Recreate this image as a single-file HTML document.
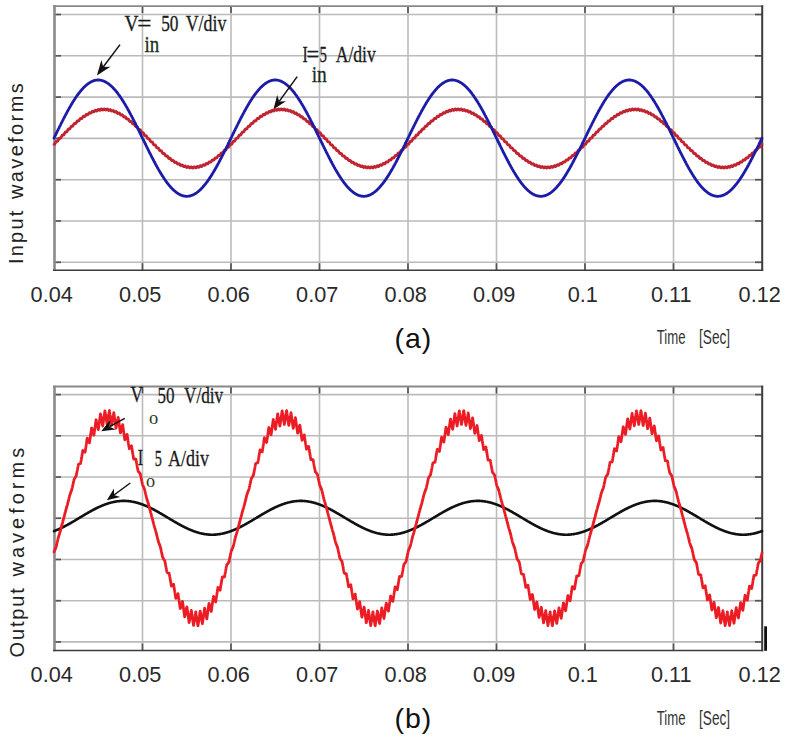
<!DOCTYPE html>
<html><head><meta charset="utf-8"><style>
html,body{margin:0;padding:0;background:#fff;}
body{width:786px;height:739px;overflow:hidden;}
svg{display:block;}
#wrap{width:786px;height:739px;}
.gh{stroke:#bababa;stroke-width:1.6;fill:none;}
.gv{stroke:#bcbcbc;stroke-width:1.6;fill:none;}
.t{stroke:#555;stroke-width:1.7;fill:none;}
.fl{stroke:#8a8a8a;stroke-width:2.6;fill:none;}
.ft{stroke:#888;stroke-width:1.8;fill:none;}
.fb{stroke:#3c3c3c;stroke-width:1.6;fill:none;}
.fr{stroke:#3c3c3c;stroke-width:2;fill:none;}
.w{fill:none;stroke-linejoin:round;stroke-linecap:round;}
text{font-family:"Liberation Sans",sans-serif;}
.tl{font-size:22.6px;fill:#2a2a2a;}
.pl{font-size:28.5px;fill:#111;letter-spacing:1px;}
.ts{font-size:20px;fill:#333;}
.yl{font-size:20px;fill:#222;}
.an{font-family:"Liberation Serif",serif;font-size:23.5px;fill:#1a1a1a;stroke:#1a1a1a;stroke-width:0.3px;}
.sub{font-family:"Liberation Serif",serif;font-size:23px;fill:#1a2e1a;stroke:#1a2e1a;stroke-width:0.3px;}
.sub2{font-family:"Liberation Serif",serif;font-size:19px;fill:#2a3a20;}
</style></head><body>
<div id="wrap"><svg width="786" height="739" viewBox="0 0 786 739">
<line x1="54.0" y1="14.50" x2="762.0" y2="14.50" class="gh"/>
<line x1="54.0" y1="14.50" x2="61.0" y2="14.50" class="t"/>
<line x1="755.0" y1="14.50" x2="762.0" y2="14.50" class="t"/>
<line x1="54.0" y1="55.80" x2="762.0" y2="55.80" class="gh"/>
<line x1="54.0" y1="55.80" x2="61.0" y2="55.80" class="t"/>
<line x1="755.0" y1="55.80" x2="762.0" y2="55.80" class="t"/>
<line x1="54.0" y1="97.10" x2="762.0" y2="97.10" class="gh"/>
<line x1="54.0" y1="97.10" x2="61.0" y2="97.10" class="t"/>
<line x1="755.0" y1="97.10" x2="762.0" y2="97.10" class="t"/>
<line x1="54.0" y1="138.40" x2="762.0" y2="138.40" class="gh"/>
<line x1="54.0" y1="138.40" x2="61.0" y2="138.40" class="t"/>
<line x1="755.0" y1="138.40" x2="762.0" y2="138.40" class="t"/>
<line x1="54.0" y1="179.70" x2="762.0" y2="179.70" class="gh"/>
<line x1="54.0" y1="179.70" x2="61.0" y2="179.70" class="t"/>
<line x1="755.0" y1="179.70" x2="762.0" y2="179.70" class="t"/>
<line x1="54.0" y1="221.00" x2="762.0" y2="221.00" class="gh"/>
<line x1="54.0" y1="221.00" x2="61.0" y2="221.00" class="t"/>
<line x1="755.0" y1="221.00" x2="762.0" y2="221.00" class="t"/>
<line x1="54.0" y1="262.30" x2="762.0" y2="262.30" class="gh"/>
<line x1="54.0" y1="262.30" x2="61.0" y2="262.30" class="t"/>
<line x1="755.0" y1="262.30" x2="762.0" y2="262.30" class="t"/>
<line x1="142.50" y1="6.1" x2="142.50" y2="270.2" class="gv"/>
<line x1="142.50" y1="263.2" x2="142.50" y2="270.2" class="t"/>
<line x1="142.50" y1="6.1" x2="142.50" y2="13.1" class="t"/>
<line x1="231.00" y1="6.1" x2="231.00" y2="270.2" class="gv"/>
<line x1="231.00" y1="263.2" x2="231.00" y2="270.2" class="t"/>
<line x1="231.00" y1="6.1" x2="231.00" y2="13.1" class="t"/>
<line x1="319.50" y1="6.1" x2="319.50" y2="270.2" class="gv"/>
<line x1="319.50" y1="263.2" x2="319.50" y2="270.2" class="t"/>
<line x1="319.50" y1="6.1" x2="319.50" y2="13.1" class="t"/>
<line x1="408.00" y1="6.1" x2="408.00" y2="270.2" class="gv"/>
<line x1="408.00" y1="263.2" x2="408.00" y2="270.2" class="t"/>
<line x1="408.00" y1="6.1" x2="408.00" y2="13.1" class="t"/>
<line x1="496.50" y1="6.1" x2="496.50" y2="270.2" class="gv"/>
<line x1="496.50" y1="263.2" x2="496.50" y2="270.2" class="t"/>
<line x1="496.50" y1="6.1" x2="496.50" y2="13.1" class="t"/>
<line x1="585.00" y1="6.1" x2="585.00" y2="270.2" class="gv"/>
<line x1="585.00" y1="263.2" x2="585.00" y2="270.2" class="t"/>
<line x1="585.00" y1="6.1" x2="585.00" y2="13.1" class="t"/>
<line x1="673.50" y1="6.1" x2="673.50" y2="270.2" class="gv"/>
<line x1="673.50" y1="263.2" x2="673.50" y2="270.2" class="t"/>
<line x1="673.50" y1="6.1" x2="673.50" y2="13.1" class="t"/>
<line x1="54.5" y1="5.30" x2="54.5" y2="270.95" class="fl"/>
<line x1="53.1" y1="6.10" x2="763.2" y2="6.10" class="ft"/>
<line x1="53.1" y1="270.20" x2="763.2" y2="270.20" class="fb"/>
<line x1="762.2" y1="5.30" x2="762.2" y2="270.95" class="fr"/>
<line x1="54.0" y1="394.60" x2="762.0" y2="394.60" class="gh"/>
<line x1="54.0" y1="394.60" x2="61.0" y2="394.60" class="t"/>
<line x1="755.0" y1="394.60" x2="762.0" y2="394.60" class="t"/>
<line x1="54.0" y1="435.82" x2="762.0" y2="435.82" class="gh"/>
<line x1="54.0" y1="435.82" x2="61.0" y2="435.82" class="t"/>
<line x1="755.0" y1="435.82" x2="762.0" y2="435.82" class="t"/>
<line x1="54.0" y1="477.04" x2="762.0" y2="477.04" class="gh"/>
<line x1="54.0" y1="477.04" x2="61.0" y2="477.04" class="t"/>
<line x1="755.0" y1="477.04" x2="762.0" y2="477.04" class="t"/>
<line x1="54.0" y1="518.26" x2="762.0" y2="518.26" class="gh"/>
<line x1="54.0" y1="518.26" x2="61.0" y2="518.26" class="t"/>
<line x1="755.0" y1="518.26" x2="762.0" y2="518.26" class="t"/>
<line x1="54.0" y1="559.48" x2="762.0" y2="559.48" class="gh"/>
<line x1="54.0" y1="559.48" x2="61.0" y2="559.48" class="t"/>
<line x1="755.0" y1="559.48" x2="762.0" y2="559.48" class="t"/>
<line x1="54.0" y1="600.70" x2="762.0" y2="600.70" class="gh"/>
<line x1="54.0" y1="600.70" x2="61.0" y2="600.70" class="t"/>
<line x1="755.0" y1="600.70" x2="762.0" y2="600.70" class="t"/>
<line x1="54.0" y1="641.92" x2="762.0" y2="641.92" class="gh"/>
<line x1="54.0" y1="641.92" x2="61.0" y2="641.92" class="t"/>
<line x1="755.0" y1="641.92" x2="762.0" y2="641.92" class="t"/>
<line x1="142.50" y1="386.5" x2="142.50" y2="650.5" class="gv"/>
<line x1="142.50" y1="643.5" x2="142.50" y2="650.5" class="t"/>
<line x1="142.50" y1="386.5" x2="142.50" y2="393.5" class="t"/>
<line x1="231.00" y1="386.5" x2="231.00" y2="650.5" class="gv"/>
<line x1="231.00" y1="643.5" x2="231.00" y2="650.5" class="t"/>
<line x1="231.00" y1="386.5" x2="231.00" y2="393.5" class="t"/>
<line x1="319.50" y1="386.5" x2="319.50" y2="650.5" class="gv"/>
<line x1="319.50" y1="643.5" x2="319.50" y2="650.5" class="t"/>
<line x1="319.50" y1="386.5" x2="319.50" y2="393.5" class="t"/>
<line x1="408.00" y1="386.5" x2="408.00" y2="650.5" class="gv"/>
<line x1="408.00" y1="643.5" x2="408.00" y2="650.5" class="t"/>
<line x1="408.00" y1="386.5" x2="408.00" y2="393.5" class="t"/>
<line x1="496.50" y1="386.5" x2="496.50" y2="650.5" class="gv"/>
<line x1="496.50" y1="643.5" x2="496.50" y2="650.5" class="t"/>
<line x1="496.50" y1="386.5" x2="496.50" y2="393.5" class="t"/>
<line x1="585.00" y1="386.5" x2="585.00" y2="650.5" class="gv"/>
<line x1="585.00" y1="643.5" x2="585.00" y2="650.5" class="t"/>
<line x1="585.00" y1="386.5" x2="585.00" y2="393.5" class="t"/>
<line x1="673.50" y1="386.5" x2="673.50" y2="650.5" class="gv"/>
<line x1="673.50" y1="643.5" x2="673.50" y2="650.5" class="t"/>
<line x1="673.50" y1="386.5" x2="673.50" y2="393.5" class="t"/>
<line x1="54.5" y1="385.70" x2="54.5" y2="651.25" class="fl"/>
<line x1="53.1" y1="386.50" x2="763.2" y2="386.50" class="ft"/>
<line x1="53.1" y1="650.50" x2="763.2" y2="650.50" class="fb"/>
<line x1="762.2" y1="385.70" x2="762.2" y2="651.25" class="fr"/>
<path d="M54.0 144.3L54.2 144.3 54.5 144.3 54.8 144.1 55.0 143.8 55.2 143.3 55.5 142.8 55.8 142.2 56.0 141.7 56.2 141.4 56.5 141.2 56.8 141.2 57.0 141.2 57.2 141.3 57.5 141.2 57.8 141.1 58.0 140.7 58.2 140.2 58.5 139.7 58.8 139.1 59.0 138.7 59.2 138.3 59.5 138.1 59.8 138.1 60.0 138.1 60.2 138.2 60.5 138.1 60.8 138.0 61.0 137.6 61.2 137.2 61.5 136.6 61.8 136.0 62.0 135.6 62.2 135.2 62.5 135.1 62.8 135.0 63.0 135.1 63.2 135.1 63.5 135.1 63.8 134.9 64.0 134.6 64.2 134.1 64.5 133.5 64.8 133.0 65.0 132.5 65.2 132.2 65.5 132.0 65.8 132.0 66.0 132.0 66.2 132.1 66.5 132.0 66.8 131.9 67.0 131.5 67.2 131.1 67.5 130.5 67.8 130.0 68.0 129.5 68.2 129.2 68.5 129.0 68.8 129.0 69.0 129.0 69.2 129.1 69.5 129.1 69.8 128.9 70.0 128.6 70.2 128.1 70.5 127.6 70.8 127.1 71.0 126.6 71.2 126.3 71.5 126.1 71.8 126.1 72.0 126.2 72.2 126.3 72.5 126.2 72.8 126.1 73.0 125.8 73.2 125.3 73.5 124.8 73.8 124.3 74.0 123.8 74.2 123.5 74.5 123.4 74.8 123.4 75.0 123.5 75.2 123.5 75.5 123.5 75.8 123.4 76.0 123.1 76.2 122.7 76.5 122.2 76.8 121.7 77.0 121.2 77.2 120.9 77.5 120.8 77.8 120.8 78.0 120.9 78.2 121.0 78.5 121.0 78.8 120.9 79.0 120.6 79.2 120.2 79.5 119.7 79.8 119.2 80.0 118.8 80.2 118.5 80.5 118.4 80.8 118.4 81.0 118.6 81.2 118.7 81.5 118.7 81.8 118.6 82.0 118.3 82.2 117.9 82.5 117.5 82.8 117.0 83.0 116.6 83.2 116.3 83.5 116.2 83.8 116.3 84.0 116.4 84.2 116.6 84.5 116.6 84.8 116.5 85.0 116.3 85.2 115.9 85.5 115.5 85.8 115.0 86.0 114.6 86.2 114.4 86.5 114.3 86.8 114.4 87.0 114.5 87.2 114.7 87.5 114.8 87.8 114.7 88.0 114.5 88.2 114.1 88.5 113.7 88.8 113.3 89.0 112.9 89.2 112.7 89.5 112.7 89.8 112.8 90.0 112.9 90.2 113.1 90.5 113.2 90.8 113.2 91.0 113.0 91.2 112.6 91.5 112.2 91.8 111.8 92.0 111.5 92.2 111.3 92.5 111.3 92.8 111.4 93.0 111.6 93.2 111.8 93.5 111.9 93.8 111.9 94.0 111.8 94.2 111.5 94.5 111.1 94.8 110.7 95.0 110.4 95.2 110.2 95.5 110.2 95.8 110.4 96.0 110.6 96.2 110.8 96.5 111.0 96.8 111.0 97.0 110.8 97.2 110.6 97.5 110.2 97.8 109.8 98.0 109.6 98.2 109.4 98.5 109.5 98.8 109.6 99.0 109.9 99.2 110.2 99.5 110.3 99.8 110.4 100.0 110.3 100.2 110.0 100.5 109.7 100.8 109.3 101.0 109.1 101.2 109.0 101.5 109.0 101.8 109.2 102.0 109.5 102.2 109.8 102.5 110.0 102.8 110.1 103.0 110.0 103.2 109.8 103.5 109.5 103.8 109.2 104.0 108.9 104.2 108.9 104.5 108.9 104.8 109.2 105.0 109.5 105.2 109.8 105.5 110.0 105.8 110.1 106.0 110.0 106.2 109.8 106.5 109.6 106.8 109.3 107.0 109.1 107.2 109.0 107.5 109.2 107.8 109.4 108.0 109.7 108.2 110.1 108.5 110.3 108.8 110.5 109.0 110.4 109.2 110.3 109.5 110.0 109.8 109.8 110.0 109.6 110.2 109.6 110.5 109.7 110.8 110.0 111.0 110.4 111.2 110.7 111.5 111.0 111.8 111.2 112.0 111.1 112.2 111.0 112.5 110.8 112.8 110.6 113.0 110.4 113.2 110.4 113.5 110.6 113.8 110.9 114.0 111.3 114.2 111.7 114.5 112.0 114.8 112.2 115.0 112.2 115.2 112.1 115.5 111.9 115.8 111.7 116.0 111.5 116.2 111.6 116.5 111.8 116.8 112.1 117.0 112.5 117.2 112.9 117.5 113.3 117.8 113.5 118.0 113.5 118.2 113.4 118.5 113.2 118.8 113.1 119.0 113.0 119.2 113.0 119.5 113.2 119.8 113.6 120.0 114.0 120.2 114.5 120.5 114.8 120.8 115.1 121.0 115.1 121.2 115.0 121.5 114.9 121.8 114.7 122.0 114.7 122.2 114.8 122.5 115.0 122.8 115.4 123.0 115.8 123.2 116.3 123.5 116.7 123.8 116.9 124.0 117.0 124.2 117.0 124.5 116.8 124.8 116.7 125.0 116.7 125.2 116.8 125.5 117.0 125.8 117.4 126.0 117.9 126.2 118.4 126.5 118.8 126.8 119.0 127.0 119.1 127.2 119.1 127.5 119.0 127.8 118.9 128.0 118.9 128.2 119.0 128.5 119.3 128.8 119.7 129.0 120.2 129.2 120.7 129.5 121.1 129.8 121.4 130.0 121.5 130.2 121.5 130.5 121.4 130.8 121.3 131.0 121.3 131.2 121.4 131.5 121.7 131.8 122.2 132.0 122.7 132.2 123.2 132.5 123.6 132.8 123.9 133.0 124.1 133.2 124.1 133.5 124.0 133.8 123.9 134.0 123.9 134.2 124.1 134.5 124.4 134.8 124.8 135.0 125.4 135.2 125.9 135.5 126.3 135.8 126.6 136.0 126.8 136.2 126.8 136.5 126.7 136.8 126.7 137.0 126.7 137.2 126.9 137.5 127.2 137.8 127.6 138.0 128.2 138.2 128.7 138.5 129.2 138.8 129.5 139.0 129.7 139.2 129.7 139.5 129.6 139.8 129.6 140.0 129.6 140.2 129.8 140.5 130.1 140.8 130.6 141.0 131.1 141.2 131.7 141.5 132.1 141.8 132.5 142.0 132.6 142.2 132.7 142.5 132.6 142.8 132.6 143.0 132.6 143.2 132.8 143.5 133.1 143.8 133.6 144.0 134.1 144.2 134.7 144.5 135.2 144.8 135.5 145.0 135.7 145.2 135.7 145.5 135.7 145.8 135.6 146.0 135.7 146.2 135.8 146.5 136.2 146.8 136.7 147.0 137.2 147.2 137.8 147.5 138.2 147.8 138.6 148.0 138.8 148.2 138.8 148.5 138.8 148.8 138.7 149.0 138.8 149.2 138.9 149.5 139.3 149.8 139.7 150.0 140.3 150.2 140.9 150.5 141.3 150.8 141.7 151.0 141.8 151.2 141.9 151.5 141.8 151.8 141.8 152.0 141.8 152.2 142.0 152.5 142.3 152.8 142.8 153.0 143.4 153.2 143.9 153.5 144.4 153.8 144.7 154.0 144.9 154.2 144.9 154.5 144.9 154.8 144.8 155.0 144.9 155.2 145.0 155.5 145.4 155.8 145.8 156.0 146.4 156.2 146.9 156.5 147.4 156.8 147.7 157.0 147.9 157.2 147.9 157.5 147.9 157.8 147.8 158.0 147.8 158.2 148.0 158.5 148.3 158.8 148.8 159.0 149.3 159.2 149.8 159.5 150.3 159.8 150.6 160.0 150.8 160.2 150.8 160.5 150.7 160.8 150.6 161.0 150.7 161.2 150.8 161.5 151.1 161.8 151.6 162.0 152.1 162.2 152.6 162.5 153.1 162.8 153.4 163.0 153.5 163.2 153.5 163.5 153.4 163.8 153.4 164.0 153.4 164.2 153.5 164.5 153.8 164.8 154.2 165.0 154.7 165.2 155.2 165.5 155.7 165.8 156.0 166.0 156.1 166.2 156.1 166.5 156.0 166.8 155.9 167.0 155.9 167.2 156.0 167.5 156.3 167.8 156.7 168.0 157.2 168.2 157.7 168.5 158.1 168.8 158.4 169.0 158.5 169.2 158.5 169.5 158.3 169.8 158.2 170.0 158.2 170.2 158.3 170.5 158.6 170.8 159.0 171.0 159.4 171.2 159.9 171.5 160.3 171.8 160.6 172.0 160.7 172.2 160.6 172.5 160.5 172.8 160.3 173.0 160.3 173.2 160.4 173.5 160.6 173.8 161.0 174.0 161.4 174.2 161.9 174.5 162.3 174.8 162.5 175.0 162.6 175.2 162.5 175.5 162.4 175.8 162.2 176.0 162.1 176.2 162.2 176.5 162.4 176.8 162.8 177.0 163.2 177.2 163.6 177.5 164.0 177.8 164.2 178.0 164.2 178.2 164.1 178.5 164.0 178.8 163.8 179.0 163.7 179.2 163.7 179.5 163.9 179.8 164.3 180.0 164.7 180.2 165.1 180.5 165.4 180.8 165.6 181.0 165.6 181.2 165.5 181.5 165.3 181.8 165.1 182.0 165.0 182.2 165.0 182.5 165.1 182.8 165.4 183.0 165.8 183.2 166.2 183.5 166.5 183.8 166.7 184.0 166.7 184.2 166.5 184.5 166.3 184.8 166.1 185.0 165.9 185.2 165.9 185.5 166.1 185.8 166.3 186.0 166.7 186.2 167.1 186.5 167.3 186.8 167.5 187.0 167.4 187.2 167.3 187.5 167.0 187.8 166.7 188.0 166.6 188.2 166.5 188.5 166.6 188.8 166.9 189.0 167.2 189.2 167.6 189.5 167.8 189.8 167.9 190.0 167.9 190.2 167.7 190.5 167.4 190.8 167.1 191.0 166.9 191.2 166.8 191.5 166.9 191.8 167.1 192.0 167.4 192.2 167.7 192.5 168.0 192.8 168.0 193.0 168.0 193.2 167.7 193.5 167.4 193.8 167.1 194.0 166.9 194.2 166.8 194.5 166.9 194.8 167.1 195.0 167.3 195.2 167.6 195.5 167.8 195.8 167.9 196.0 167.7 196.2 167.5 196.5 167.2 196.8 166.8 197.0 166.6 197.2 166.4 197.5 166.5 197.8 166.6 198.0 166.9 198.2 167.1 198.5 167.3 198.8 167.3 199.0 167.2 199.2 166.9 199.5 166.5 199.8 166.2 200.0 165.9 200.2 165.7 200.5 165.8 200.8 165.9 201.0 166.1 201.2 166.3 201.5 166.5 201.8 166.5 202.0 166.3 202.2 166.0 202.5 165.6 202.8 165.2 203.0 164.9 203.2 164.7 203.5 164.7 203.8 164.8 204.0 165.0 204.2 165.2 204.5 165.4 204.8 165.3 205.0 165.1 205.2 164.8 205.5 164.4 205.8 164.0 206.0 163.6 206.2 163.4 206.5 163.4 206.8 163.5 207.0 163.7 207.2 163.8 207.5 163.9 207.8 163.9 208.0 163.7 208.2 163.3 208.5 162.9 208.8 162.4 209.0 162.1 209.2 161.8 209.5 161.8 209.8 161.9 210.0 162.0 210.2 162.2 210.5 162.2 210.8 162.1 211.0 161.9 211.2 161.5 211.5 161.1 211.8 160.6 212.0 160.2 212.2 160.0 212.5 159.9 212.8 159.9 213.0 160.1 213.2 160.2 213.5 160.2 213.8 160.1 214.0 159.9 214.2 159.5 214.5 159.0 214.8 158.5 215.0 158.1 215.2 157.9 215.5 157.8 215.8 157.8 216.0 157.9 216.2 158.0 216.5 158.0 216.8 157.9 217.0 157.6 217.2 157.2 217.5 156.7 217.8 156.2 218.0 155.8 218.2 155.5 218.5 155.4 218.8 155.4 219.0 155.5 219.2 155.6 219.5 155.6 219.8 155.5 220.0 155.2 220.2 154.7 220.5 154.2 220.8 153.7 221.0 153.3 221.2 153.0 221.5 152.8 221.8 152.8 222.0 152.9 222.2 153.0 222.5 153.0 222.8 152.8 223.0 152.5 223.2 152.1 223.5 151.5 223.8 151.0 224.0 150.6 224.2 150.3 224.5 150.1 224.8 150.1 225.0 150.2 225.2 150.2 225.5 150.2 225.8 150.0 226.0 149.7 226.2 149.3 226.5 148.7 226.8 148.2 227.0 147.7 227.2 147.4 227.5 147.2 227.8 147.2 228.0 147.3 228.2 147.3 228.5 147.3 228.8 147.1 229.0 146.8 229.2 146.3 229.5 145.8 229.8 145.2 230.0 144.8 230.2 144.4 230.5 144.3 230.8 144.2 231.0 144.3 231.2 144.3 231.5 144.3 231.8 144.1 232.0 143.8 232.2 143.3 232.5 142.8 232.8 142.2 233.0 141.7 233.2 141.4 233.5 141.2 233.8 141.2 234.0 141.2 234.2 141.3 234.5 141.2 234.8 141.1 235.0 140.7 235.2 140.2 235.5 139.7 235.8 139.1 236.0 138.7 236.2 138.3 236.5 138.1 236.8 138.1 237.0 138.1 237.2 138.2 237.5 138.1 237.8 138.0 238.0 137.6 238.2 137.2 238.5 136.6 238.8 136.0 239.0 135.6 239.2 135.2 239.5 135.1 239.8 135.0 240.0 135.1 240.2 135.1 240.5 135.1 240.8 134.9 241.0 134.6 241.2 134.1 241.5 133.5 241.8 133.0 242.0 132.5 242.2 132.2 242.5 132.0 242.8 132.0 243.0 132.0 243.2 132.1 243.5 132.0 243.8 131.9 244.0 131.5 244.2 131.1 244.5 130.5 244.8 130.0 245.0 129.5 245.2 129.2 245.5 129.0 245.8 129.0 246.0 129.0 246.2 129.1 246.5 129.1 246.8 128.9 247.0 128.6 247.2 128.1 247.5 127.6 247.8 127.1 248.0 126.6 248.2 126.3 248.5 126.1 248.8 126.1 249.0 126.2 249.2 126.3 249.5 126.2 249.8 126.1 250.0 125.8 250.2 125.3 250.5 124.8 250.8 124.3 251.0 123.8 251.2 123.5 251.5 123.4 251.8 123.4 252.0 123.5 252.2 123.5 252.5 123.5 252.8 123.4 253.0 123.1 253.2 122.7 253.5 122.2 253.8 121.7 254.0 121.2 254.2 120.9 254.5 120.8 254.8 120.8 255.0 120.9 255.2 121.0 255.5 121.0 255.8 120.9 256.0 120.6 256.2 120.2 256.5 119.7 256.8 119.2 257.0 118.8 257.2 118.5 257.5 118.4 257.8 118.4 258.0 118.6 258.2 118.7 258.5 118.7 258.8 118.6 259.0 118.3 259.2 117.9 259.5 117.5 259.8 117.0 260.0 116.6 260.2 116.3 260.5 116.2 260.8 116.3 261.0 116.4 261.2 116.6 261.5 116.6 261.8 116.5 262.0 116.3 262.2 115.9 262.5 115.5 262.8 115.0 263.0 114.6 263.2 114.4 263.5 114.3 263.8 114.4 264.0 114.5 264.2 114.7 264.5 114.8 264.8 114.7 265.0 114.5 265.2 114.1 265.5 113.7 265.8 113.3 266.0 112.9 266.2 112.7 266.5 112.7 266.8 112.8 267.0 112.9 267.2 113.1 267.5 113.2 267.8 113.2 268.0 113.0 268.2 112.6 268.5 112.2 268.8 111.8 269.0 111.5 269.2 111.3 269.5 111.3 269.8 111.4 270.0 111.6 270.2 111.8 270.5 111.9 270.8 111.9 271.0 111.8 271.2 111.5 271.5 111.1 271.8 110.7 272.0 110.4 272.2 110.2 272.5 110.2 272.8 110.4 273.0 110.6 273.2 110.8 273.5 111.0 273.8 111.0 274.0 110.8 274.2 110.6 274.5 110.2 274.8 109.8 275.0 109.6 275.2 109.4 275.5 109.5 275.8 109.6 276.0 109.9 276.2 110.2 276.5 110.3 276.8 110.4 277.0 110.3 277.2 110.0 277.5 109.7 277.8 109.3 278.0 109.1 278.2 109.0 278.5 109.0 278.8 109.2 279.0 109.5 279.2 109.8 279.5 110.0 279.8 110.1 280.0 110.0 280.2 109.8 280.5 109.5 280.8 109.2 281.0 108.9 281.2 108.9 281.5 108.9 281.8 109.2 282.0 109.5 282.2 109.8 282.5 110.0 282.8 110.1 283.0 110.0 283.2 109.8 283.5 109.6 283.8 109.3 284.0 109.1 284.2 109.0 284.5 109.2 284.8 109.4 285.0 109.7 285.2 110.1 285.5 110.3 285.8 110.5 286.0 110.4 286.2 110.3 286.5 110.0 286.8 109.8 287.0 109.6 287.2 109.6 287.5 109.7 287.8 110.0 288.0 110.4 288.2 110.7 288.5 111.0 288.8 111.2 289.0 111.1 289.2 111.0 289.5 110.8 289.8 110.6 290.0 110.4 290.2 110.4 290.5 110.6 290.8 110.9 291.0 111.3 291.2 111.7 291.5 112.0 291.8 112.2 292.0 112.2 292.2 112.1 292.5 111.9 292.8 111.7 293.0 111.5 293.2 111.6 293.5 111.8 293.8 112.1 294.0 112.5 294.2 112.9 294.5 113.3 294.8 113.5 295.0 113.5 295.2 113.4 295.5 113.2 295.8 113.1 296.0 113.0 296.2 113.0 296.5 113.2 296.8 113.6 297.0 114.0 297.2 114.5 297.5 114.8 297.8 115.1 298.0 115.1 298.2 115.0 298.5 114.9 298.8 114.7 299.0 114.7 299.2 114.8 299.5 115.0 299.8 115.4 300.0 115.8 300.2 116.3 300.5 116.7 300.8 116.9 301.0 117.0 301.2 117.0 301.5 116.8 301.8 116.7 302.0 116.7 302.2 116.8 302.5 117.0 302.8 117.4 303.0 117.9 303.2 118.4 303.5 118.8 303.8 119.0 304.0 119.1 304.2 119.1 304.5 119.0 304.8 118.9 305.0 118.9 305.2 119.0 305.5 119.3 305.8 119.7 306.0 120.2 306.2 120.7 306.5 121.1 306.8 121.4 307.0 121.5 307.2 121.5 307.5 121.4 307.8 121.3 308.0 121.3 308.2 121.4 308.5 121.7 308.8 122.2 309.0 122.7 309.2 123.2 309.5 123.6 309.8 123.9 310.0 124.1 310.2 124.1 310.5 124.0 310.8 123.9 311.0 123.9 311.2 124.1 311.5 124.4 311.8 124.8 312.0 125.4 312.2 125.9 312.5 126.3 312.8 126.6 313.0 126.8 313.2 126.8 313.5 126.7 313.8 126.7 314.0 126.7 314.2 126.9 314.5 127.2 314.8 127.6 315.0 128.2 315.2 128.7 315.5 129.2 315.8 129.5 316.0 129.7 316.2 129.7 316.5 129.6 316.8 129.6 317.0 129.6 317.2 129.8 317.5 130.1 317.8 130.6 318.0 131.1 318.2 131.7 318.5 132.1 318.8 132.5 319.0 132.6 319.2 132.7 319.5 132.6 319.8 132.6 320.0 132.6 320.2 132.8 320.5 133.1 320.8 133.6 321.0 134.1 321.2 134.7 321.5 135.2 321.8 135.5 322.0 135.7 322.2 135.7 322.5 135.7 322.8 135.6 323.0 135.7 323.2 135.8 323.5 136.2 323.8 136.7 324.0 137.2 324.2 137.8 324.5 138.2 324.8 138.6 325.0 138.8 325.2 138.8 325.5 138.8 325.8 138.7 326.0 138.8 326.2 138.9 326.5 139.3 326.8 139.7 327.0 140.3 327.2 140.9 327.5 141.3 327.8 141.7 328.0 141.8 328.2 141.9 328.5 141.8 328.8 141.8 329.0 141.8 329.2 142.0 329.5 142.3 329.8 142.8 330.0 143.4 330.2 143.9 330.5 144.4 330.8 144.7 331.0 144.9 331.2 144.9 331.5 144.9 331.8 144.8 332.0 144.9 332.2 145.0 332.5 145.4 332.8 145.8 333.0 146.4 333.2 146.9 333.5 147.4 333.8 147.7 334.0 147.9 334.2 147.9 334.5 147.9 334.8 147.8 335.0 147.8 335.2 148.0 335.5 148.3 335.8 148.8 336.0 149.3 336.2 149.8 336.5 150.3 336.8 150.6 337.0 150.8 337.2 150.8 337.5 150.7 337.8 150.6 338.0 150.7 338.2 150.8 338.5 151.1 338.8 151.6 339.0 152.1 339.2 152.6 339.5 153.1 339.8 153.4 340.0 153.5 340.2 153.5 340.5 153.4 340.8 153.4 341.0 153.4 341.2 153.5 341.5 153.8 341.8 154.2 342.0 154.7 342.2 155.2 342.5 155.7 342.8 156.0 343.0 156.1 343.2 156.1 343.5 156.0 343.8 155.9 344.0 155.9 344.2 156.0 344.5 156.3 344.8 156.7 345.0 157.2 345.2 157.7 345.5 158.1 345.8 158.4 346.0 158.5 346.2 158.5 346.5 158.3 346.8 158.2 347.0 158.2 347.2 158.3 347.5 158.6 347.8 159.0 348.0 159.4 348.2 159.9 348.5 160.3 348.8 160.6 349.0 160.7 349.2 160.6 349.5 160.5 349.8 160.3 350.0 160.3 350.2 160.4 350.5 160.6 350.8 161.0 351.0 161.4 351.2 161.9 351.5 162.3 351.8 162.5 352.0 162.6 352.2 162.5 352.5 162.4 352.8 162.2 353.0 162.1 353.2 162.2 353.5 162.4 353.8 162.8 354.0 163.2 354.2 163.6 354.5 164.0 354.8 164.2 355.0 164.2 355.2 164.1 355.5 164.0 355.8 163.8 356.0 163.7 356.2 163.7 356.5 163.9 356.8 164.3 357.0 164.7 357.2 165.1 357.5 165.4 357.8 165.6 358.0 165.6 358.2 165.5 358.5 165.3 358.8 165.1 359.0 165.0 359.2 165.0 359.5 165.1 359.8 165.4 360.0 165.8 360.2 166.2 360.5 166.5 360.8 166.7 361.0 166.7 361.2 166.5 361.5 166.3 361.8 166.1 362.0 165.9 362.2 165.9 362.5 166.1 362.8 166.3 363.0 166.7 363.2 167.1 363.5 167.3 363.8 167.5 364.0 167.4 364.2 167.3 364.5 167.0 364.8 166.7 365.0 166.6 365.2 166.5 365.5 166.6 365.8 166.9 366.0 167.2 366.2 167.6 366.5 167.8 366.8 167.9 367.0 167.9 367.2 167.7 367.5 167.4 367.8 167.1 368.0 166.9 368.2 166.8 368.5 166.9 368.8 167.1 369.0 167.4 369.2 167.7 369.5 168.0 369.8 168.0 370.0 168.0 370.2 167.7 370.5 167.4 370.8 167.1 371.0 166.9 371.2 166.8 371.5 166.9 371.8 167.1 372.0 167.3 372.2 167.6 372.5 167.8 372.8 167.9 373.0 167.7 373.2 167.5 373.5 167.2 373.8 166.8 374.0 166.6 374.2 166.4 374.5 166.5 374.8 166.6 375.0 166.9 375.2 167.1 375.5 167.3 375.8 167.3 376.0 167.2 376.2 166.9 376.5 166.5 376.8 166.2 377.0 165.9 377.2 165.7 377.5 165.8 377.8 165.9 378.0 166.1 378.2 166.3 378.5 166.5 378.8 166.5 379.0 166.3 379.2 166.0 379.5 165.6 379.8 165.2 380.0 164.9 380.2 164.7 380.5 164.7 380.8 164.8 381.0 165.0 381.2 165.2 381.5 165.4 381.8 165.3 382.0 165.1 382.2 164.8 382.5 164.4 382.8 164.0 383.0 163.6 383.2 163.4 383.5 163.4 383.8 163.5 384.0 163.7 384.2 163.8 384.5 163.9 384.8 163.9 385.0 163.7 385.2 163.3 385.5 162.9 385.8 162.4 386.0 162.1 386.2 161.8 386.5 161.8 386.8 161.9 387.0 162.0 387.2 162.2 387.5 162.2 387.8 162.1 388.0 161.9 388.2 161.5 388.5 161.1 388.8 160.6 389.0 160.2 389.2 160.0 389.5 159.9 389.8 159.9 390.0 160.1 390.2 160.2 390.5 160.2 390.8 160.1 391.0 159.9 391.2 159.5 391.5 159.0 391.8 158.5 392.0 158.1 392.2 157.9 392.5 157.8 392.8 157.8 393.0 157.9 393.2 158.0 393.5 158.0 393.8 157.9 394.0 157.6 394.2 157.2 394.5 156.7 394.8 156.2 395.0 155.8 395.2 155.5 395.5 155.4 395.8 155.4 396.0 155.5 396.2 155.6 396.5 155.6 396.8 155.5 397.0 155.2 397.2 154.7 397.5 154.2 397.8 153.7 398.0 153.3 398.2 153.0 398.5 152.8 398.8 152.8 399.0 152.9 399.2 153.0 399.5 153.0 399.8 152.8 400.0 152.5 400.2 152.1 400.5 151.5 400.8 151.0 401.0 150.6 401.2 150.3 401.5 150.1 401.8 150.1 402.0 150.2 402.2 150.2 402.5 150.2 402.8 150.0 403.0 149.7 403.2 149.3 403.5 148.7 403.8 148.2 404.0 147.7 404.2 147.4 404.5 147.2 404.8 147.2 405.0 147.3 405.2 147.3 405.5 147.3 405.8 147.1 406.0 146.8 406.2 146.3 406.5 145.8 406.8 145.2 407.0 144.8 407.2 144.4 407.5 144.3 407.8 144.2 408.0 144.3 408.2 144.3 408.5 144.3 408.8 144.1 409.0 143.8 409.2 143.3 409.5 142.8 409.8 142.2 410.0 141.7 410.2 141.4 410.5 141.2 410.8 141.2 411.0 141.2 411.2 141.3 411.5 141.2 411.8 141.1 412.0 140.7 412.2 140.2 412.5 139.7 412.8 139.1 413.0 138.7 413.2 138.3 413.5 138.1 413.8 138.1 414.0 138.1 414.2 138.2 414.5 138.1 414.8 138.0 415.0 137.6 415.2 137.2 415.5 136.6 415.8 136.0 416.0 135.6 416.2 135.2 416.5 135.1 416.8 135.0 417.0 135.1 417.2 135.1 417.5 135.1 417.8 134.9 418.0 134.6 418.2 134.1 418.5 133.5 418.8 133.0 419.0 132.5 419.2 132.2 419.5 132.0 419.8 132.0 420.0 132.0 420.2 132.1 420.5 132.0 420.8 131.9 421.0 131.5 421.2 131.1 421.5 130.5 421.8 130.0 422.0 129.5 422.2 129.2 422.5 129.0 422.8 129.0 423.0 129.0 423.2 129.1 423.5 129.1 423.8 128.9 424.0 128.6 424.2 128.1 424.5 127.6 424.8 127.1 425.0 126.6 425.2 126.3 425.5 126.1 425.8 126.1 426.0 126.2 426.2 126.3 426.5 126.2 426.8 126.1 427.0 125.8 427.2 125.3 427.5 124.8 427.8 124.3 428.0 123.8 428.2 123.5 428.5 123.4 428.8 123.4 429.0 123.5 429.2 123.5 429.5 123.5 429.8 123.4 430.0 123.1 430.2 122.7 430.5 122.2 430.8 121.7 431.0 121.2 431.2 120.9 431.5 120.8 431.8 120.8 432.0 120.9 432.2 121.0 432.5 121.0 432.8 120.9 433.0 120.6 433.2 120.2 433.5 119.7 433.8 119.2 434.0 118.8 434.2 118.5 434.5 118.4 434.8 118.4 435.0 118.6 435.2 118.7 435.5 118.7 435.8 118.6 436.0 118.3 436.2 117.9 436.5 117.5 436.8 117.0 437.0 116.6 437.2 116.3 437.5 116.2 437.8 116.3 438.0 116.4 438.2 116.6 438.5 116.6 438.8 116.5 439.0 116.3 439.2 115.9 439.5 115.5 439.8 115.0 440.0 114.6 440.2 114.4 440.5 114.3 440.8 114.4 441.0 114.5 441.2 114.7 441.5 114.8 441.8 114.7 442.0 114.5 442.2 114.1 442.5 113.7 442.8 113.3 443.0 112.9 443.2 112.7 443.5 112.7 443.8 112.8 444.0 112.9 444.2 113.1 444.5 113.2 444.8 113.2 445.0 113.0 445.2 112.6 445.5 112.2 445.8 111.8 446.0 111.5 446.2 111.3 446.5 111.3 446.8 111.4 447.0 111.6 447.2 111.8 447.5 111.9 447.8 111.9 448.0 111.8 448.2 111.5 448.5 111.1 448.8 110.7 449.0 110.4 449.2 110.2 449.5 110.2 449.8 110.4 450.0 110.6 450.2 110.8 450.5 111.0 450.8 111.0 451.0 110.8 451.2 110.6 451.5 110.2 451.8 109.8 452.0 109.6 452.2 109.4 452.5 109.5 452.8 109.6 453.0 109.9 453.2 110.2 453.5 110.3 453.8 110.4 454.0 110.3 454.2 110.0 454.5 109.7 454.8 109.3 455.0 109.1 455.2 109.0 455.5 109.0 455.8 109.2 456.0 109.5 456.2 109.8 456.5 110.0 456.8 110.1 457.0 110.0 457.2 109.8 457.5 109.5 457.8 109.2 458.0 108.9 458.2 108.9 458.5 108.9 458.8 109.2 459.0 109.5 459.2 109.8 459.5 110.0 459.8 110.1 460.0 110.0 460.2 109.8 460.5 109.6 460.8 109.3 461.0 109.1 461.2 109.0 461.5 109.2 461.8 109.4 462.0 109.7 462.2 110.1 462.5 110.3 462.8 110.5 463.0 110.4 463.2 110.3 463.5 110.0 463.8 109.8 464.0 109.6 464.2 109.6 464.5 109.7 464.8 110.0 465.0 110.4 465.2 110.7 465.5 111.0 465.8 111.2 466.0 111.1 466.2 111.0 466.5 110.8 466.8 110.6 467.0 110.4 467.2 110.4 467.5 110.6 467.8 110.9 468.0 111.3 468.2 111.7 468.5 112.0 468.8 112.2 469.0 112.2 469.2 112.1 469.5 111.9 469.8 111.7 470.0 111.5 470.2 111.6 470.5 111.8 470.8 112.1 471.0 112.5 471.2 112.9 471.5 113.3 471.8 113.5 472.0 113.5 472.2 113.4 472.5 113.2 472.8 113.1 473.0 113.0 473.2 113.0 473.5 113.2 473.8 113.6 474.0 114.0 474.2 114.5 474.5 114.8 474.8 115.1 475.0 115.1 475.2 115.0 475.5 114.9 475.8 114.7 476.0 114.7 476.2 114.8 476.5 115.0 476.8 115.4 477.0 115.8 477.2 116.3 477.5 116.7 477.8 116.9 478.0 117.0 478.2 117.0 478.5 116.8 478.8 116.7 479.0 116.7 479.2 116.8 479.5 117.0 479.8 117.4 480.0 117.9 480.2 118.4 480.5 118.8 480.8 119.0 481.0 119.1 481.2 119.1 481.5 119.0 481.8 118.9 482.0 118.9 482.2 119.0 482.5 119.3 482.8 119.7 483.0 120.2 483.2 120.7 483.5 121.1 483.8 121.4 484.0 121.5 484.2 121.5 484.5 121.4 484.8 121.3 485.0 121.3 485.2 121.4 485.5 121.7 485.8 122.2 486.0 122.7 486.2 123.2 486.5 123.6 486.8 123.9 487.0 124.1 487.2 124.1 487.5 124.0 487.8 123.9 488.0 123.9 488.2 124.1 488.5 124.4 488.8 124.8 489.0 125.4 489.2 125.9 489.5 126.3 489.8 126.6 490.0 126.8 490.2 126.8 490.5 126.7 490.8 126.7 491.0 126.7 491.2 126.9 491.5 127.2 491.8 127.6 492.0 128.2 492.2 128.7 492.5 129.2 492.8 129.5 493.0 129.7 493.2 129.7 493.5 129.6 493.8 129.6 494.0 129.6 494.2 129.8 494.5 130.1 494.8 130.6 495.0 131.1 495.2 131.7 495.5 132.1 495.8 132.5 496.0 132.6 496.2 132.7 496.5 132.6 496.8 132.6 497.0 132.6 497.2 132.8 497.5 133.1 497.8 133.6 498.0 134.1 498.2 134.7 498.5 135.2 498.8 135.5 499.0 135.7 499.2 135.7 499.5 135.7 499.8 135.6 500.0 135.7 500.2 135.8 500.5 136.2 500.8 136.7 501.0 137.2 501.2 137.8 501.5 138.2 501.8 138.6 502.0 138.8 502.2 138.8 502.5 138.8 502.8 138.7 503.0 138.8 503.2 138.9 503.5 139.3 503.8 139.7 504.0 140.3 504.2 140.9 504.5 141.3 504.8 141.7 505.0 141.8 505.2 141.9 505.5 141.8 505.8 141.8 506.0 141.8 506.2 142.0 506.5 142.3 506.8 142.8 507.0 143.4 507.2 143.9 507.5 144.4 507.8 144.7 508.0 144.9 508.2 144.9 508.5 144.9 508.8 144.8 509.0 144.9 509.2 145.0 509.5 145.4 509.8 145.8 510.0 146.4 510.2 146.9 510.5 147.4 510.8 147.7 511.0 147.9 511.2 147.9 511.5 147.9 511.8 147.8 512.0 147.8 512.2 148.0 512.5 148.3 512.8 148.8 513.0 149.3 513.2 149.8 513.5 150.3 513.8 150.6 514.0 150.8 514.2 150.8 514.5 150.7 514.8 150.6 515.0 150.7 515.2 150.8 515.5 151.1 515.8 151.6 516.0 152.1 516.2 152.6 516.5 153.1 516.8 153.4 517.0 153.5 517.2 153.5 517.5 153.4 517.8 153.4 518.0 153.4 518.2 153.5 518.5 153.8 518.8 154.2 519.0 154.7 519.2 155.2 519.5 155.7 519.8 156.0 520.0 156.1 520.2 156.1 520.5 156.0 520.8 155.9 521.0 155.9 521.2 156.0 521.5 156.3 521.8 156.7 522.0 157.2 522.2 157.7 522.5 158.1 522.8 158.4 523.0 158.5 523.2 158.5 523.5 158.3 523.8 158.2 524.0 158.2 524.2 158.3 524.5 158.6 524.8 159.0 525.0 159.4 525.2 159.9 525.5 160.3 525.8 160.6 526.0 160.7 526.2 160.6 526.5 160.5 526.8 160.3 527.0 160.3 527.2 160.4 527.5 160.6 527.8 161.0 528.0 161.4 528.2 161.9 528.5 162.3 528.8 162.5 529.0 162.6 529.2 162.5 529.5 162.4 529.8 162.2 530.0 162.1 530.2 162.2 530.5 162.4 530.8 162.8 531.0 163.2 531.2 163.6 531.5 164.0 531.8 164.2 532.0 164.2 532.2 164.1 532.5 164.0 532.8 163.8 533.0 163.7 533.2 163.7 533.5 163.9 533.8 164.3 534.0 164.7 534.2 165.1 534.5 165.4 534.8 165.6 535.0 165.6 535.2 165.5 535.5 165.3 535.8 165.1 536.0 165.0 536.2 165.0 536.5 165.1 536.8 165.4 537.0 165.8 537.2 166.2 537.5 166.5 537.8 166.7 538.0 166.7 538.2 166.5 538.5 166.3 538.8 166.1 539.0 165.9 539.2 165.9 539.5 166.1 539.8 166.3 540.0 166.7 540.2 167.1 540.5 167.3 540.8 167.5 541.0 167.4 541.2 167.3 541.5 167.0 541.8 166.7 542.0 166.6 542.2 166.5 542.5 166.6 542.8 166.9 543.0 167.2 543.2 167.6 543.5 167.8 543.8 167.9 544.0 167.9 544.2 167.7 544.5 167.4 544.8 167.1 545.0 166.9 545.2 166.8 545.5 166.9 545.8 167.1 546.0 167.4 546.2 167.7 546.5 168.0 546.8 168.0 547.0 168.0 547.2 167.7 547.5 167.4 547.8 167.1 548.0 166.9 548.2 166.8 548.5 166.9 548.8 167.1 549.0 167.3 549.2 167.6 549.5 167.8 549.8 167.9 550.0 167.7 550.2 167.5 550.5 167.2 550.8 166.8 551.0 166.6 551.2 166.4 551.5 166.5 551.8 166.6 552.0 166.9 552.2 167.1 552.5 167.3 552.8 167.3 553.0 167.2 553.2 166.9 553.5 166.5 553.8 166.2 554.0 165.9 554.2 165.7 554.5 165.8 554.8 165.9 555.0 166.1 555.2 166.3 555.5 166.5 555.8 166.5 556.0 166.3 556.2 166.0 556.5 165.6 556.8 165.2 557.0 164.9 557.2 164.7 557.5 164.7 557.8 164.8 558.0 165.0 558.2 165.2 558.5 165.4 558.8 165.3 559.0 165.1 559.2 164.8 559.5 164.4 559.8 164.0 560.0 163.6 560.2 163.4 560.5 163.4 560.8 163.5 561.0 163.7 561.2 163.8 561.5 163.9 561.8 163.9 562.0 163.7 562.2 163.3 562.5 162.9 562.8 162.4 563.0 162.1 563.2 161.8 563.5 161.8 563.8 161.9 564.0 162.0 564.2 162.2 564.5 162.2 564.8 162.1 565.0 161.9 565.2 161.5 565.5 161.1 565.8 160.6 566.0 160.2 566.2 160.0 566.5 159.9 566.8 159.9 567.0 160.1 567.2 160.2 567.5 160.2 567.8 160.1 568.0 159.9 568.2 159.5 568.5 159.0 568.8 158.5 569.0 158.1 569.2 157.9 569.5 157.8 569.8 157.8 570.0 157.9 570.2 158.0 570.5 158.0 570.8 157.9 571.0 157.6 571.2 157.2 571.5 156.7 571.8 156.2 572.0 155.8 572.2 155.5 572.5 155.4 572.8 155.4 573.0 155.5 573.2 155.6 573.5 155.6 573.8 155.5 574.0 155.2 574.2 154.7 574.5 154.2 574.8 153.7 575.0 153.3 575.2 153.0 575.5 152.8 575.8 152.8 576.0 152.9 576.2 153.0 576.5 153.0 576.8 152.8 577.0 152.5 577.2 152.1 577.5 151.5 577.8 151.0 578.0 150.6 578.2 150.3 578.5 150.1 578.8 150.1 579.0 150.2 579.2 150.2 579.5 150.2 579.8 150.0 580.0 149.7 580.2 149.3 580.5 148.7 580.8 148.2 581.0 147.7 581.2 147.4 581.5 147.2 581.8 147.2 582.0 147.3 582.2 147.3 582.5 147.3 582.8 147.1 583.0 146.8 583.2 146.3 583.5 145.8 583.8 145.2 584.0 144.8 584.2 144.4 584.5 144.3 584.8 144.2 585.0 144.3 585.2 144.3 585.5 144.3 585.8 144.1 586.0 143.8 586.2 143.3 586.5 142.8 586.8 142.2 587.0 141.7 587.2 141.4 587.5 141.2 587.8 141.2 588.0 141.2 588.2 141.3 588.5 141.2 588.8 141.1 589.0 140.7 589.2 140.2 589.5 139.7 589.8 139.1 590.0 138.7 590.2 138.3 590.5 138.1 590.8 138.1 591.0 138.1 591.2 138.2 591.5 138.1 591.8 138.0 592.0 137.6 592.2 137.2 592.5 136.6 592.8 136.0 593.0 135.6 593.2 135.2 593.5 135.1 593.8 135.0 594.0 135.1 594.2 135.1 594.5 135.1 594.8 134.9 595.0 134.6 595.2 134.1 595.5 133.5 595.8 133.0 596.0 132.5 596.2 132.2 596.5 132.0 596.8 132.0 597.0 132.0 597.2 132.1 597.5 132.0 597.8 131.9 598.0 131.5 598.2 131.1 598.5 130.5 598.8 130.0 599.0 129.5 599.2 129.2 599.5 129.0 599.8 129.0 600.0 129.0 600.2 129.1 600.5 129.1 600.8 128.9 601.0 128.6 601.2 128.1 601.5 127.6 601.8 127.1 602.0 126.6 602.2 126.3 602.5 126.1 602.8 126.1 603.0 126.2 603.2 126.3 603.5 126.2 603.8 126.1 604.0 125.8 604.2 125.3 604.5 124.8 604.8 124.3 605.0 123.8 605.2 123.5 605.5 123.4 605.8 123.4 606.0 123.5 606.2 123.5 606.5 123.5 606.8 123.4 607.0 123.1 607.2 122.7 607.5 122.2 607.8 121.7 608.0 121.2 608.2 120.9 608.5 120.8 608.8 120.8 609.0 120.9 609.2 121.0 609.5 121.0 609.8 120.9 610.0 120.6 610.2 120.2 610.5 119.7 610.8 119.2 611.0 118.8 611.2 118.5 611.5 118.4 611.8 118.4 612.0 118.6 612.2 118.7 612.5 118.7 612.8 118.6 613.0 118.3 613.2 117.9 613.5 117.5 613.8 117.0 614.0 116.6 614.2 116.3 614.5 116.2 614.8 116.3 615.0 116.4 615.2 116.6 615.5 116.6 615.8 116.5 616.0 116.3 616.2 115.9 616.5 115.5 616.8 115.0 617.0 114.6 617.2 114.4 617.5 114.3 617.8 114.4 618.0 114.5 618.2 114.7 618.5 114.8 618.8 114.7 619.0 114.5 619.2 114.1 619.5 113.7 619.8 113.3 620.0 112.9 620.2 112.7 620.5 112.7 620.8 112.8 621.0 112.9 621.2 113.1 621.5 113.2 621.8 113.2 622.0 113.0 622.2 112.6 622.5 112.2 622.8 111.8 623.0 111.5 623.2 111.3 623.5 111.3 623.8 111.4 624.0 111.6 624.2 111.8 624.5 111.9 624.8 111.9 625.0 111.8 625.2 111.5 625.5 111.1 625.8 110.7 626.0 110.4 626.2 110.2 626.5 110.2 626.8 110.4 627.0 110.6 627.2 110.8 627.5 111.0 627.8 111.0 628.0 110.8 628.2 110.6 628.5 110.2 628.8 109.8 629.0 109.6 629.2 109.4 629.5 109.5 629.8 109.6 630.0 109.9 630.2 110.2 630.5 110.3 630.8 110.4 631.0 110.3 631.2 110.0 631.5 109.7 631.8 109.3 632.0 109.1 632.2 109.0 632.5 109.0 632.8 109.2 633.0 109.5 633.2 109.8 633.5 110.0 633.8 110.1 634.0 110.0 634.2 109.8 634.5 109.5 634.8 109.2 635.0 108.9 635.2 108.9 635.5 108.9 635.8 109.2 636.0 109.5 636.2 109.8 636.5 110.0 636.8 110.1 637.0 110.0 637.2 109.8 637.5 109.6 637.8 109.3 638.0 109.1 638.2 109.0 638.5 109.2 638.8 109.4 639.0 109.7 639.2 110.1 639.5 110.3 639.8 110.5 640.0 110.4 640.2 110.3 640.5 110.0 640.8 109.8 641.0 109.6 641.2 109.6 641.5 109.7 641.8 110.0 642.0 110.4 642.2 110.7 642.5 111.0 642.8 111.2 643.0 111.1 643.2 111.0 643.5 110.8 643.8 110.6 644.0 110.4 644.2 110.4 644.5 110.6 644.8 110.9 645.0 111.3 645.2 111.7 645.5 112.0 645.8 112.2 646.0 112.2 646.2 112.1 646.5 111.9 646.8 111.7 647.0 111.5 647.2 111.6 647.5 111.8 647.8 112.1 648.0 112.5 648.2 112.9 648.5 113.3 648.8 113.5 649.0 113.5 649.2 113.4 649.5 113.2 649.8 113.1 650.0 113.0 650.2 113.0 650.5 113.2 650.8 113.6 651.0 114.0 651.2 114.5 651.5 114.8 651.8 115.1 652.0 115.1 652.2 115.0 652.5 114.9 652.8 114.7 653.0 114.7 653.2 114.8 653.5 115.0 653.8 115.4 654.0 115.8 654.2 116.3 654.5 116.7 654.8 116.9 655.0 117.0 655.2 117.0 655.5 116.8 655.8 116.7 656.0 116.7 656.2 116.8 656.5 117.0 656.8 117.4 657.0 117.9 657.2 118.4 657.5 118.8 657.8 119.0 658.0 119.1 658.2 119.1 658.5 119.0 658.8 118.9 659.0 118.9 659.2 119.0 659.5 119.3 659.8 119.7 660.0 120.2 660.2 120.7 660.5 121.1 660.8 121.4 661.0 121.5 661.2 121.5 661.5 121.4 661.8 121.3 662.0 121.3 662.2 121.4 662.5 121.7 662.8 122.2 663.0 122.7 663.2 123.2 663.5 123.6 663.8 123.9 664.0 124.1 664.2 124.1 664.5 124.0 664.8 123.9 665.0 123.9 665.2 124.1 665.5 124.4 665.8 124.8 666.0 125.4 666.2 125.9 666.5 126.3 666.8 126.6 667.0 126.8 667.2 126.8 667.5 126.7 667.8 126.7 668.0 126.7 668.2 126.9 668.5 127.2 668.8 127.6 669.0 128.2 669.2 128.7 669.5 129.2 669.8 129.5 670.0 129.7 670.2 129.7 670.5 129.6 670.8 129.6 671.0 129.6 671.2 129.8 671.5 130.1 671.8 130.6 672.0 131.1 672.2 131.7 672.5 132.1 672.8 132.5 673.0 132.6 673.2 132.7 673.5 132.6 673.8 132.6 674.0 132.6 674.2 132.8 674.5 133.1 674.8 133.6 675.0 134.1 675.2 134.7 675.5 135.2 675.8 135.5 676.0 135.7 676.2 135.7 676.5 135.7 676.8 135.6 677.0 135.7 677.2 135.8 677.5 136.2 677.8 136.7 678.0 137.2 678.2 137.8 678.5 138.2 678.8 138.6 679.0 138.8 679.2 138.8 679.5 138.8 679.8 138.7 680.0 138.8 680.2 138.9 680.5 139.3 680.8 139.7 681.0 140.3 681.2 140.9 681.5 141.3 681.8 141.7 682.0 141.8 682.2 141.9 682.5 141.8 682.8 141.8 683.0 141.8 683.2 142.0 683.5 142.3 683.8 142.8 684.0 143.4 684.2 143.9 684.5 144.4 684.8 144.7 685.0 144.9 685.2 144.9 685.5 144.9 685.8 144.8 686.0 144.9 686.2 145.0 686.5 145.4 686.8 145.8 687.0 146.4 687.2 146.9 687.5 147.4 687.8 147.7 688.0 147.9 688.2 147.9 688.5 147.9 688.8 147.8 689.0 147.8 689.2 148.0 689.5 148.3 689.8 148.8 690.0 149.3 690.2 149.8 690.5 150.3 690.8 150.6 691.0 150.8 691.2 150.8 691.5 150.7 691.8 150.6 692.0 150.7 692.2 150.8 692.5 151.1 692.8 151.6 693.0 152.1 693.2 152.6 693.5 153.1 693.8 153.4 694.0 153.5 694.2 153.5 694.5 153.4 694.8 153.4 695.0 153.4 695.2 153.5 695.5 153.8 695.8 154.2 696.0 154.7 696.2 155.2 696.5 155.7 696.8 156.0 697.0 156.1 697.2 156.1 697.5 156.0 697.8 155.9 698.0 155.9 698.2 156.0 698.5 156.3 698.8 156.7 699.0 157.2 699.2 157.7 699.5 158.1 699.8 158.4 700.0 158.5 700.2 158.5 700.5 158.3 700.8 158.2 701.0 158.2 701.2 158.3 701.5 158.6 701.8 159.0 702.0 159.4 702.2 159.9 702.5 160.3 702.8 160.6 703.0 160.7 703.2 160.6 703.5 160.5 703.8 160.3 704.0 160.3 704.2 160.4 704.5 160.6 704.8 161.0 705.0 161.4 705.2 161.9 705.5 162.3 705.8 162.5 706.0 162.6 706.2 162.5 706.5 162.4 706.8 162.2 707.0 162.1 707.2 162.2 707.5 162.4 707.8 162.8 708.0 163.2 708.2 163.6 708.5 164.0 708.8 164.2 709.0 164.2 709.2 164.1 709.5 164.0 709.8 163.8 710.0 163.7 710.2 163.7 710.5 163.9 710.8 164.3 711.0 164.7 711.2 165.1 711.5 165.4 711.8 165.6 712.0 165.6 712.2 165.5 712.5 165.3 712.8 165.1 713.0 165.0 713.2 165.0 713.5 165.1 713.8 165.4 714.0 165.8 714.2 166.2 714.5 166.5 714.8 166.7 715.0 166.7 715.2 166.5 715.5 166.3 715.8 166.1 716.0 165.9 716.2 165.9 716.5 166.1 716.8 166.3 717.0 166.7 717.2 167.1 717.5 167.3 717.8 167.5 718.0 167.4 718.2 167.3 718.5 167.0 718.8 166.7 719.0 166.6 719.2 166.5 719.5 166.6 719.8 166.9 720.0 167.2 720.2 167.6 720.5 167.8 720.8 167.9 721.0 167.9 721.2 167.7 721.5 167.4 721.8 167.1 722.0 166.9 722.2 166.8 722.5 166.9 722.8 167.1 723.0 167.4 723.2 167.7 723.5 168.0 723.8 168.0 724.0 168.0 724.2 167.7 724.5 167.4 724.8 167.1 725.0 166.9 725.2 166.8 725.5 166.9 725.8 167.1 726.0 167.3 726.2 167.6 726.5 167.8 726.8 167.9 727.0 167.7 727.2 167.5 727.5 167.2 727.8 166.8 728.0 166.6 728.2 166.4 728.5 166.5 728.8 166.6 729.0 166.9 729.2 167.1 729.5 167.3 729.8 167.3 730.0 167.2 730.2 166.9 730.5 166.5 730.8 166.2 731.0 165.9 731.2 165.7 731.5 165.8 731.8 165.9 732.0 166.1 732.2 166.3 732.5 166.5 732.8 166.5 733.0 166.3 733.2 166.0 733.5 165.6 733.8 165.2 734.0 164.9 734.2 164.7 734.5 164.7 734.8 164.8 735.0 165.0 735.2 165.2 735.5 165.4 735.8 165.3 736.0 165.1 736.2 164.8 736.5 164.4 736.8 164.0 737.0 163.6 737.2 163.4 737.5 163.4 737.8 163.5 738.0 163.7 738.2 163.8 738.5 163.9 738.8 163.9 739.0 163.7 739.2 163.3 739.5 162.9 739.8 162.4 740.0 162.1 740.2 161.8 740.5 161.8 740.8 161.9 741.0 162.0 741.2 162.2 741.5 162.2 741.8 162.1 742.0 161.9 742.2 161.5 742.5 161.1 742.8 160.6 743.0 160.2 743.2 160.0 743.5 159.9 743.8 159.9 744.0 160.1 744.2 160.2 744.5 160.2 744.8 160.1 745.0 159.9 745.2 159.5 745.5 159.0 745.8 158.5 746.0 158.1 746.2 157.9 746.5 157.8 746.8 157.8 747.0 157.9 747.2 158.0 747.5 158.0 747.8 157.9 748.0 157.6 748.2 157.2 748.5 156.7 748.8 156.2 749.0 155.8 749.2 155.5 749.5 155.4 749.8 155.4 750.0 155.5 750.2 155.6 750.5 155.6 750.8 155.5 751.0 155.2 751.2 154.7 751.5 154.2 751.8 153.7 752.0 153.3 752.2 153.0 752.5 152.8 752.8 152.8 753.0 152.9 753.2 153.0 753.5 153.0 753.8 152.8 754.0 152.5 754.2 152.1 754.5 151.5 754.8 151.0 755.0 150.6 755.2 150.3 755.5 150.1 755.8 150.1 756.0 150.2 756.2 150.2 756.5 150.2 756.8 150.0 757.0 149.7 757.2 149.3 757.5 148.7 757.8 148.2 758.0 147.7 758.2 147.4 758.5 147.2 758.8 147.2 759.0 147.3 759.2 147.3 759.5 147.3 759.8 147.1 760.0 146.8 760.2 146.3 760.5 145.8 760.8 145.2 761.0 144.8 761.2 144.4 761.5 144.3 761.8 144.2 762.0 144.3" class="w" stroke="#bf2430" stroke-width="2.8"/>
<path d="M54.0 138.2L54.2 137.6 54.5 137.1 54.8 136.6 55.0 136.1 55.2 135.6 55.5 135.1 55.8 134.5 56.0 134.0 56.2 133.5 56.5 133.0 56.8 132.5 57.0 132.0 57.2 131.5 57.5 130.9 57.8 130.4 58.0 129.9 58.2 129.4 58.5 128.9 58.8 128.4 59.0 127.9 59.2 127.4 59.5 126.9 59.8 126.4 60.0 125.9 60.2 125.4 60.5 124.9 60.8 124.3 61.0 123.8 61.2 123.3 61.5 122.9 61.8 122.4 62.0 121.9 62.2 121.4 62.5 120.9 62.8 120.4 63.0 119.9 63.2 119.4 63.5 118.9 63.8 118.4 64.0 117.9 64.2 117.5 64.5 117.0 64.8 116.5 65.0 116.0 65.2 115.5 65.5 115.1 65.8 114.6 66.0 114.1 66.2 113.7 66.5 113.2 66.8 112.7 67.0 112.3 67.2 111.8 67.5 111.3 67.8 110.9 68.0 110.4 68.2 110.0 68.5 109.5 68.8 109.1 69.0 108.6 69.2 108.2 69.5 107.7 69.8 107.3 70.0 106.9 70.2 106.4 70.5 106.0 70.8 105.6 71.0 105.1 71.2 104.7 71.5 104.3 71.8 103.9 72.0 103.5 72.2 103.1 72.5 102.6 72.8 102.2 73.0 101.8 73.2 101.4 73.5 101.0 73.8 100.6 74.0 100.2 74.2 99.9 74.5 99.5 74.8 99.1 75.0 98.7 75.2 98.3 75.5 98.0 75.8 97.6 76.0 97.2 76.2 96.8 76.5 96.5 76.8 96.1 77.0 95.8 77.2 95.4 77.5 95.1 77.8 94.7 78.0 94.4 78.2 94.0 78.5 93.7 78.8 93.4 79.0 93.1 79.2 92.7 79.5 92.4 79.8 92.1 80.0 91.8 80.2 91.5 80.5 91.2 80.8 90.9 81.0 90.6 81.2 90.3 81.5 90.0 81.8 89.7 82.0 89.4 82.2 89.1 82.5 88.9 82.8 88.6 83.0 88.3 83.2 88.1 83.5 87.8 83.8 87.5 84.0 87.3 84.2 87.0 84.5 86.8 84.8 86.6 85.0 86.3 85.2 86.1 85.5 85.9 85.8 85.6 86.0 85.4 86.2 85.2 86.5 85.0 86.8 84.8 87.0 84.6 87.2 84.4 87.5 84.2 87.8 84.0 88.0 83.8 88.2 83.6 88.5 83.4 88.8 83.3 89.0 83.1 89.2 82.9 89.5 82.8 89.8 82.6 90.0 82.5 90.2 82.3 90.5 82.2 90.8 82.0 91.0 81.9 91.2 81.8 91.5 81.7 91.8 81.5 92.0 81.4 92.2 81.3 92.5 81.2 92.8 81.1 93.0 81.0 93.2 80.9 93.5 80.8 93.8 80.7 94.0 80.7 94.2 80.6 94.5 80.5 94.8 80.4 95.0 80.4 95.2 80.3 95.5 80.3 95.8 80.2 96.0 80.2 96.2 80.1 96.5 80.1 96.8 80.1 97.0 80.1 97.2 80.0 97.5 80.0 97.8 80.0 98.0 80.0 98.2 80.0 98.5 80.0 98.8 80.0 99.0 80.0 99.2 80.0 99.5 80.1 99.8 80.1 100.0 80.1 100.2 80.1 100.5 80.2 100.8 80.2 101.0 80.3 101.2 80.3 101.5 80.4 101.8 80.4 102.0 80.5 102.2 80.6 102.5 80.7 102.8 80.7 103.0 80.8 103.2 80.9 103.5 81.0 103.8 81.1 104.0 81.2 104.2 81.3 104.5 81.4 104.8 81.5 105.0 81.7 105.2 81.8 105.5 81.9 105.8 82.0 106.0 82.2 106.2 82.3 106.5 82.5 106.8 82.6 107.0 82.8 107.2 82.9 107.5 83.1 107.8 83.3 108.0 83.4 108.2 83.6 108.5 83.8 108.8 84.0 109.0 84.2 109.2 84.4 109.5 84.6 109.8 84.8 110.0 85.0 110.2 85.2 110.5 85.4 110.8 85.6 111.0 85.9 111.2 86.1 111.5 86.3 111.8 86.6 112.0 86.8 112.2 87.0 112.5 87.3 112.8 87.5 113.0 87.8 113.2 88.1 113.5 88.3 113.8 88.6 114.0 88.9 114.2 89.1 114.5 89.4 114.8 89.7 115.0 90.0 115.2 90.3 115.5 90.6 115.8 90.9 116.0 91.2 116.2 91.5 116.5 91.8 116.8 92.1 117.0 92.4 117.2 92.7 117.5 93.1 117.8 93.4 118.0 93.7 118.2 94.0 118.5 94.4 118.8 94.7 119.0 95.1 119.2 95.4 119.5 95.8 119.8 96.1 120.0 96.5 120.2 96.8 120.5 97.2 120.8 97.6 121.0 98.0 121.2 98.3 121.5 98.7 121.8 99.1 122.0 99.5 122.2 99.9 122.5 100.2 122.8 100.6 123.0 101.0 123.2 101.4 123.5 101.8 123.8 102.2 124.0 102.6 124.2 103.1 124.5 103.5 124.8 103.9 125.0 104.3 125.2 104.7 125.5 105.1 125.8 105.6 126.0 106.0 126.2 106.4 126.5 106.9 126.8 107.3 127.0 107.7 127.2 108.2 127.5 108.6 127.8 109.1 128.0 109.5 128.2 110.0 128.5 110.4 128.8 110.9 129.0 111.3 129.2 111.8 129.5 112.3 129.8 112.7 130.0 113.2 130.2 113.7 130.5 114.1 130.8 114.6 131.0 115.1 131.2 115.5 131.5 116.0 131.8 116.5 132.0 117.0 132.2 117.5 132.5 117.9 132.8 118.4 133.0 118.9 133.2 119.4 133.5 119.9 133.8 120.4 134.0 120.9 134.2 121.4 134.5 121.9 134.8 122.4 135.0 122.9 135.2 123.3 135.5 123.8 135.8 124.3 136.0 124.9 136.2 125.4 136.5 125.9 136.8 126.4 137.0 126.9 137.2 127.4 137.5 127.9 137.8 128.4 138.0 128.9 138.2 129.4 138.5 129.9 138.8 130.4 139.0 130.9 139.2 131.5 139.5 132.0 139.8 132.5 140.0 133.0 140.2 133.5 140.5 134.0 140.8 134.5 141.0 135.1 141.2 135.6 141.5 136.1 141.8 136.6 142.0 137.1 142.2 137.6 142.5 138.2 142.8 138.7 143.0 139.2 143.2 139.7 143.5 140.2 143.8 140.7 144.0 141.2 144.2 141.8 144.5 142.3 144.8 142.8 145.0 143.3 145.2 143.8 145.5 144.3 145.8 144.8 146.0 145.4 146.2 145.9 146.5 146.4 146.8 146.9 147.0 147.4 147.2 147.9 147.5 148.4 147.8 148.9 148.0 149.4 148.2 149.9 148.5 150.4 148.8 150.9 149.0 151.4 149.2 152.0 149.5 152.5 149.8 153.0 150.0 153.4 150.2 153.9 150.5 154.4 150.8 154.9 151.0 155.4 151.2 155.9 151.5 156.4 151.8 156.9 152.0 157.4 152.2 157.9 152.5 158.4 152.8 158.8 153.0 159.3 153.2 159.8 153.5 160.3 153.8 160.8 154.0 161.2 154.2 161.7 154.5 162.2 154.8 162.6 155.0 163.1 155.2 163.6 155.5 164.0 155.8 164.5 156.0 165.0 156.2 165.4 156.5 165.9 156.8 166.3 157.0 166.8 157.2 167.2 157.5 167.7 157.8 168.1 158.0 168.6 158.2 169.0 158.5 169.4 158.8 169.9 159.0 170.3 159.2 170.7 159.5 171.2 159.8 171.6 160.0 172.0 160.2 172.4 160.5 172.8 160.8 173.2 161.0 173.7 161.2 174.1 161.5 174.5 161.8 174.9 162.0 175.3 162.2 175.7 162.5 176.1 162.8 176.4 163.0 176.8 163.2 177.2 163.5 177.6 163.8 178.0 164.0 178.3 164.2 178.7 164.5 179.1 164.8 179.5 165.0 179.8 165.2 180.2 165.5 180.5 165.8 180.9 166.0 181.2 166.2 181.6 166.5 181.9 166.8 182.3 167.0 182.6 167.2 182.9 167.5 183.2 167.8 183.6 168.0 183.9 168.2 184.2 168.5 184.5 168.8 184.8 169.0 185.1 169.2 185.4 169.5 185.7 169.8 186.0 170.0 186.3 170.2 186.6 170.5 186.9 170.8 187.2 171.0 187.4 171.2 187.7 171.5 188.0 171.8 188.2 172.0 188.5 172.2 188.8 172.5 189.0 172.8 189.3 173.0 189.5 173.2 189.7 173.5 190.0 173.8 190.2 174.0 190.4 174.2 190.7 174.5 190.9 174.8 191.1 175.0 191.3 175.2 191.5 175.5 191.7 175.8 191.9 176.0 192.1 176.2 192.3 176.5 192.5 176.8 192.7 177.0 192.9 177.2 193.0 177.5 193.2 177.8 193.4 178.0 193.5 178.2 193.7 178.5 193.8 178.8 194.0 179.0 194.1 179.2 194.3 179.5 194.4 179.8 194.5 180.0 194.6 180.2 194.8 180.5 194.9 180.8 195.0 181.0 195.1 181.2 195.2 181.5 195.3 181.8 195.4 182.0 195.5 182.2 195.6 182.5 195.6 182.8 195.7 183.0 195.8 183.2 195.9 183.5 195.9 183.8 196.0 184.0 196.0 184.2 196.1 184.5 196.1 184.8 196.2 185.0 196.2 185.2 196.2 185.5 196.2 185.8 196.3 186.0 196.3 186.2 196.3 186.5 196.3 186.8 196.3 187.0 196.3 187.2 196.3 187.5 196.3 187.8 196.3 188.0 196.2 188.2 196.2 188.5 196.2 188.8 196.2 189.0 196.1 189.2 196.1 189.5 196.0 189.8 196.0 190.0 195.9 190.2 195.9 190.5 195.8 190.8 195.7 191.0 195.6 191.2 195.6 191.5 195.5 191.8 195.4 192.0 195.3 192.2 195.2 192.5 195.1 192.8 195.0 193.0 194.9 193.2 194.8 193.5 194.6 193.8 194.5 194.0 194.4 194.2 194.3 194.5 194.1 194.8 194.0 195.0 193.8 195.2 193.7 195.5 193.5 195.8 193.4 196.0 193.2 196.2 193.0 196.5 192.9 196.8 192.7 197.0 192.5 197.2 192.3 197.5 192.1 197.8 191.9 198.0 191.7 198.2 191.5 198.5 191.3 198.8 191.1 199.0 190.9 199.2 190.7 199.5 190.4 199.8 190.2 200.0 190.0 200.2 189.7 200.5 189.5 200.8 189.3 201.0 189.0 201.2 188.8 201.5 188.5 201.8 188.2 202.0 188.0 202.2 187.7 202.5 187.4 202.8 187.2 203.0 186.9 203.2 186.6 203.5 186.3 203.8 186.0 204.0 185.7 204.2 185.4 204.5 185.1 204.8 184.8 205.0 184.5 205.2 184.2 205.5 183.9 205.8 183.6 206.0 183.2 206.2 182.9 206.5 182.6 206.8 182.3 207.0 181.9 207.2 181.6 207.5 181.2 207.8 180.9 208.0 180.5 208.2 180.2 208.5 179.8 208.8 179.5 209.0 179.1 209.2 178.7 209.5 178.3 209.8 178.0 210.0 177.6 210.2 177.2 210.5 176.8 210.8 176.4 211.0 176.1 211.2 175.7 211.5 175.3 211.8 174.9 212.0 174.5 212.2 174.1 212.5 173.7 212.8 173.2 213.0 172.8 213.2 172.4 213.5 172.0 213.8 171.6 214.0 171.2 214.2 170.7 214.5 170.3 214.8 169.9 215.0 169.4 215.2 169.0 215.5 168.6 215.8 168.1 216.0 167.7 216.2 167.2 216.5 166.8 216.8 166.3 217.0 165.9 217.2 165.4 217.5 165.0 217.8 164.5 218.0 164.0 218.2 163.6 218.5 163.1 218.8 162.6 219.0 162.2 219.2 161.7 219.5 161.2 219.8 160.8 220.0 160.3 220.2 159.8 220.5 159.3 220.8 158.8 221.0 158.4 221.2 157.9 221.5 157.4 221.8 156.9 222.0 156.4 222.2 155.9 222.5 155.4 222.8 154.9 223.0 154.4 223.2 153.9 223.5 153.4 223.8 153.0 224.0 152.5 224.2 152.0 224.5 151.4 224.8 150.9 225.0 150.4 225.2 149.9 225.5 149.4 225.8 148.9 226.0 148.4 226.2 147.9 226.5 147.4 226.8 146.9 227.0 146.4 227.2 145.9 227.5 145.4 227.8 144.8 228.0 144.3 228.2 143.8 228.5 143.3 228.8 142.8 229.0 142.3 229.2 141.8 229.5 141.2 229.8 140.7 230.0 140.2 230.2 139.7 230.5 139.2 230.8 138.7 231.0 138.1 231.2 137.6 231.5 137.1 231.8 136.6 232.0 136.1 232.2 135.6 232.5 135.1 232.8 134.5 233.0 134.0 233.2 133.5 233.5 133.0 233.8 132.5 234.0 132.0 234.2 131.5 234.5 130.9 234.8 130.4 235.0 129.9 235.2 129.4 235.5 128.9 235.8 128.4 236.0 127.9 236.2 127.4 236.5 126.9 236.8 126.4 237.0 125.9 237.2 125.4 237.5 124.9 237.8 124.3 238.0 123.8 238.2 123.3 238.5 122.9 238.8 122.4 239.0 121.9 239.2 121.4 239.5 120.9 239.8 120.4 240.0 119.9 240.2 119.4 240.5 118.9 240.8 118.4 241.0 117.9 241.2 117.5 241.5 117.0 241.8 116.5 242.0 116.0 242.2 115.5 242.5 115.1 242.8 114.6 243.0 114.1 243.2 113.7 243.5 113.2 243.8 112.7 244.0 112.3 244.2 111.8 244.5 111.3 244.8 110.9 245.0 110.4 245.2 110.0 245.5 109.5 245.8 109.1 246.0 108.6 246.2 108.2 246.5 107.7 246.8 107.3 247.0 106.9 247.2 106.4 247.5 106.0 247.8 105.6 248.0 105.1 248.2 104.7 248.5 104.3 248.8 103.9 249.0 103.5 249.2 103.1 249.5 102.6 249.8 102.2 250.0 101.8 250.2 101.4 250.5 101.0 250.8 100.6 251.0 100.2 251.2 99.9 251.5 99.5 251.8 99.1 252.0 98.7 252.2 98.3 252.5 98.0 252.8 97.6 253.0 97.2 253.2 96.8 253.5 96.5 253.8 96.1 254.0 95.8 254.2 95.4 254.5 95.1 254.8 94.7 255.0 94.4 255.2 94.0 255.5 93.7 255.8 93.4 256.0 93.1 256.2 92.7 256.5 92.4 256.8 92.1 257.0 91.8 257.2 91.5 257.5 91.2 257.8 90.9 258.0 90.6 258.2 90.3 258.5 90.0 258.8 89.7 259.0 89.4 259.2 89.1 259.5 88.9 259.8 88.6 260.0 88.3 260.2 88.1 260.5 87.8 260.8 87.5 261.0 87.3 261.2 87.0 261.5 86.8 261.8 86.6 262.0 86.3 262.2 86.1 262.5 85.9 262.8 85.6 263.0 85.4 263.2 85.2 263.5 85.0 263.8 84.8 264.0 84.6 264.2 84.4 264.5 84.2 264.8 84.0 265.0 83.8 265.2 83.6 265.5 83.4 265.8 83.3 266.0 83.1 266.2 82.9 266.5 82.8 266.8 82.6 267.0 82.5 267.2 82.3 267.5 82.2 267.8 82.0 268.0 81.9 268.2 81.8 268.5 81.7 268.8 81.5 269.0 81.4 269.2 81.3 269.5 81.2 269.8 81.1 270.0 81.0 270.2 80.9 270.5 80.8 270.8 80.7 271.0 80.7 271.2 80.6 271.5 80.5 271.8 80.4 272.0 80.4 272.2 80.3 272.5 80.3 272.8 80.2 273.0 80.2 273.2 80.1 273.5 80.1 273.8 80.1 274.0 80.1 274.2 80.0 274.5 80.0 274.8 80.0 275.0 80.0 275.2 80.0 275.5 80.0 275.8 80.0 276.0 80.0 276.2 80.0 276.5 80.1 276.8 80.1 277.0 80.1 277.2 80.1 277.5 80.2 277.8 80.2 278.0 80.3 278.2 80.3 278.5 80.4 278.8 80.4 279.0 80.5 279.2 80.6 279.5 80.7 279.8 80.7 280.0 80.8 280.2 80.9 280.5 81.0 280.8 81.1 281.0 81.2 281.2 81.3 281.5 81.4 281.8 81.5 282.0 81.7 282.2 81.8 282.5 81.9 282.8 82.0 283.0 82.2 283.2 82.3 283.5 82.5 283.8 82.6 284.0 82.8 284.2 82.9 284.5 83.1 284.8 83.3 285.0 83.4 285.2 83.6 285.5 83.8 285.8 84.0 286.0 84.2 286.2 84.4 286.5 84.6 286.8 84.8 287.0 85.0 287.2 85.2 287.5 85.4 287.8 85.6 288.0 85.9 288.2 86.1 288.5 86.3 288.8 86.6 289.0 86.8 289.2 87.0 289.5 87.3 289.8 87.5 290.0 87.8 290.2 88.1 290.5 88.3 290.8 88.6 291.0 88.9 291.2 89.1 291.5 89.4 291.8 89.7 292.0 90.0 292.2 90.3 292.5 90.6 292.8 90.9 293.0 91.2 293.2 91.5 293.5 91.8 293.8 92.1 294.0 92.4 294.2 92.7 294.5 93.1 294.8 93.4 295.0 93.7 295.2 94.0 295.5 94.4 295.8 94.7 296.0 95.1 296.2 95.4 296.5 95.8 296.8 96.1 297.0 96.5 297.2 96.8 297.5 97.2 297.8 97.6 298.0 98.0 298.2 98.3 298.5 98.7 298.8 99.1 299.0 99.5 299.2 99.9 299.5 100.2 299.8 100.6 300.0 101.0 300.2 101.4 300.5 101.8 300.8 102.2 301.0 102.6 301.2 103.1 301.5 103.5 301.8 103.9 302.0 104.3 302.2 104.7 302.5 105.1 302.8 105.6 303.0 106.0 303.2 106.4 303.5 106.9 303.8 107.3 304.0 107.7 304.2 108.2 304.5 108.6 304.8 109.1 305.0 109.5 305.2 110.0 305.5 110.4 305.8 110.9 306.0 111.3 306.2 111.8 306.5 112.3 306.8 112.7 307.0 113.2 307.2 113.7 307.5 114.1 307.8 114.6 308.0 115.1 308.2 115.5 308.5 116.0 308.8 116.5 309.0 117.0 309.2 117.5 309.5 117.9 309.8 118.4 310.0 118.9 310.2 119.4 310.5 119.9 310.8 120.4 311.0 120.9 311.2 121.4 311.5 121.9 311.8 122.4 312.0 122.9 312.2 123.3 312.5 123.8 312.8 124.3 313.0 124.9 313.2 125.4 313.5 125.9 313.8 126.4 314.0 126.9 314.2 127.4 314.5 127.9 314.8 128.4 315.0 128.9 315.2 129.4 315.5 129.9 315.8 130.4 316.0 130.9 316.2 131.5 316.5 132.0 316.8 132.5 317.0 133.0 317.2 133.5 317.5 134.0 317.8 134.5 318.0 135.1 318.2 135.6 318.5 136.1 318.8 136.6 319.0 137.1 319.2 137.6 319.5 138.1 319.8 138.7 320.0 139.2 320.2 139.7 320.5 140.2 320.8 140.7 321.0 141.2 321.2 141.8 321.5 142.3 321.8 142.8 322.0 143.3 322.2 143.8 322.5 144.3 322.8 144.8 323.0 145.4 323.2 145.9 323.5 146.4 323.8 146.9 324.0 147.4 324.2 147.9 324.5 148.4 324.8 148.9 325.0 149.4 325.2 149.9 325.5 150.4 325.8 150.9 326.0 151.4 326.2 152.0 326.5 152.5 326.8 153.0 327.0 153.4 327.2 153.9 327.5 154.4 327.8 154.9 328.0 155.4 328.2 155.9 328.5 156.4 328.8 156.9 329.0 157.4 329.2 157.9 329.5 158.4 329.8 158.8 330.0 159.3 330.2 159.8 330.5 160.3 330.8 160.8 331.0 161.2 331.2 161.7 331.5 162.2 331.8 162.6 332.0 163.1 332.2 163.6 332.5 164.0 332.8 164.5 333.0 165.0 333.2 165.4 333.5 165.9 333.8 166.3 334.0 166.8 334.2 167.2 334.5 167.7 334.8 168.1 335.0 168.6 335.2 169.0 335.5 169.4 335.8 169.9 336.0 170.3 336.2 170.7 336.5 171.2 336.8 171.6 337.0 172.0 337.2 172.4 337.5 172.8 337.8 173.2 338.0 173.7 338.2 174.1 338.5 174.5 338.8 174.9 339.0 175.3 339.2 175.7 339.5 176.1 339.8 176.4 340.0 176.8 340.2 177.2 340.5 177.6 340.8 178.0 341.0 178.3 341.2 178.7 341.5 179.1 341.8 179.5 342.0 179.8 342.2 180.2 342.5 180.5 342.8 180.9 343.0 181.2 343.2 181.6 343.5 181.9 343.8 182.3 344.0 182.6 344.2 182.9 344.5 183.2 344.8 183.6 345.0 183.9 345.2 184.2 345.5 184.5 345.8 184.8 346.0 185.1 346.2 185.4 346.5 185.7 346.8 186.0 347.0 186.3 347.2 186.6 347.5 186.9 347.8 187.2 348.0 187.4 348.2 187.7 348.5 188.0 348.8 188.2 349.0 188.5 349.2 188.8 349.5 189.0 349.8 189.3 350.0 189.5 350.2 189.7 350.5 190.0 350.8 190.2 351.0 190.4 351.2 190.7 351.5 190.9 351.8 191.1 352.0 191.3 352.2 191.5 352.5 191.7 352.8 191.9 353.0 192.1 353.2 192.3 353.5 192.5 353.8 192.7 354.0 192.9 354.2 193.0 354.5 193.2 354.8 193.4 355.0 193.5 355.2 193.7 355.5 193.8 355.8 194.0 356.0 194.1 356.2 194.3 356.5 194.4 356.8 194.5 357.0 194.6 357.2 194.8 357.5 194.9 357.8 195.0 358.0 195.1 358.2 195.2 358.5 195.3 358.8 195.4 359.0 195.5 359.2 195.6 359.5 195.6 359.8 195.7 360.0 195.8 360.2 195.9 360.5 195.9 360.8 196.0 361.0 196.0 361.2 196.1 361.5 196.1 361.8 196.2 362.0 196.2 362.2 196.2 362.5 196.2 362.8 196.3 363.0 196.3 363.2 196.3 363.5 196.3 363.8 196.3 364.0 196.3 364.2 196.3 364.5 196.3 364.8 196.3 365.0 196.2 365.2 196.2 365.5 196.2 365.8 196.2 366.0 196.1 366.2 196.1 366.5 196.0 366.8 196.0 367.0 195.9 367.2 195.9 367.5 195.8 367.8 195.7 368.0 195.6 368.2 195.6 368.5 195.5 368.8 195.4 369.0 195.3 369.2 195.2 369.5 195.1 369.8 195.0 370.0 194.9 370.2 194.8 370.5 194.6 370.8 194.5 371.0 194.4 371.2 194.3 371.5 194.1 371.8 194.0 372.0 193.8 372.2 193.7 372.5 193.5 372.8 193.4 373.0 193.2 373.2 193.0 373.5 192.9 373.8 192.7 374.0 192.5 374.2 192.3 374.5 192.1 374.8 191.9 375.0 191.7 375.2 191.5 375.5 191.3 375.8 191.1 376.0 190.9 376.2 190.7 376.5 190.4 376.8 190.2 377.0 190.0 377.2 189.7 377.5 189.5 377.8 189.3 378.0 189.0 378.2 188.8 378.5 188.5 378.8 188.2 379.0 188.0 379.2 187.7 379.5 187.4 379.8 187.2 380.0 186.9 380.2 186.6 380.5 186.3 380.8 186.0 381.0 185.7 381.2 185.4 381.5 185.1 381.8 184.8 382.0 184.5 382.2 184.2 382.5 183.9 382.8 183.6 383.0 183.2 383.2 182.9 383.5 182.6 383.8 182.3 384.0 181.9 384.2 181.6 384.5 181.2 384.8 180.9 385.0 180.5 385.2 180.2 385.5 179.8 385.8 179.5 386.0 179.1 386.2 178.7 386.5 178.3 386.8 178.0 387.0 177.6 387.2 177.2 387.5 176.8 387.8 176.4 388.0 176.1 388.2 175.7 388.5 175.3 388.8 174.9 389.0 174.5 389.2 174.1 389.5 173.7 389.8 173.2 390.0 172.8 390.2 172.4 390.5 172.0 390.8 171.6 391.0 171.2 391.2 170.7 391.5 170.3 391.8 169.9 392.0 169.4 392.2 169.0 392.5 168.6 392.8 168.1 393.0 167.7 393.2 167.2 393.5 166.8 393.8 166.3 394.0 165.9 394.2 165.4 394.5 165.0 394.8 164.5 395.0 164.0 395.2 163.6 395.5 163.1 395.8 162.6 396.0 162.2 396.2 161.7 396.5 161.2 396.8 160.8 397.0 160.3 397.2 159.8 397.5 159.3 397.8 158.8 398.0 158.4 398.2 157.9 398.5 157.4 398.8 156.9 399.0 156.4 399.2 155.9 399.5 155.4 399.8 154.9 400.0 154.4 400.2 153.9 400.5 153.4 400.8 153.0 401.0 152.5 401.2 152.0 401.5 151.4 401.8 150.9 402.0 150.4 402.2 149.9 402.5 149.4 402.8 148.9 403.0 148.4 403.2 147.9 403.5 147.4 403.8 146.9 404.0 146.4 404.2 145.9 404.5 145.4 404.8 144.8 405.0 144.3 405.2 143.8 405.5 143.3 405.8 142.8 406.0 142.3 406.2 141.8 406.5 141.2 406.8 140.7 407.0 140.2 407.2 139.7 407.5 139.2 407.8 138.7 408.0 138.1 408.2 137.6 408.5 137.1 408.8 136.6 409.0 136.1 409.2 135.6 409.5 135.1 409.8 134.5 410.0 134.0 410.2 133.5 410.5 133.0 410.8 132.5 411.0 132.0 411.2 131.5 411.5 130.9 411.8 130.4 412.0 129.9 412.2 129.4 412.5 128.9 412.8 128.4 413.0 127.9 413.2 127.4 413.5 126.9 413.8 126.4 414.0 125.9 414.2 125.4 414.5 124.9 414.8 124.3 415.0 123.8 415.2 123.3 415.5 122.9 415.8 122.4 416.0 121.9 416.2 121.4 416.5 120.9 416.8 120.4 417.0 119.9 417.2 119.4 417.5 118.9 417.8 118.4 418.0 117.9 418.2 117.5 418.5 117.0 418.8 116.5 419.0 116.0 419.2 115.5 419.5 115.1 419.8 114.6 420.0 114.1 420.2 113.7 420.5 113.2 420.8 112.7 421.0 112.3 421.2 111.8 421.5 111.3 421.8 110.9 422.0 110.4 422.2 110.0 422.5 109.5 422.8 109.1 423.0 108.6 423.2 108.2 423.5 107.7 423.8 107.3 424.0 106.9 424.2 106.4 424.5 106.0 424.8 105.6 425.0 105.1 425.2 104.7 425.5 104.3 425.8 103.9 426.0 103.5 426.2 103.1 426.5 102.6 426.8 102.2 427.0 101.8 427.2 101.4 427.5 101.0 427.8 100.6 428.0 100.2 428.2 99.9 428.5 99.5 428.8 99.1 429.0 98.7 429.2 98.3 429.5 98.0 429.8 97.6 430.0 97.2 430.2 96.8 430.5 96.5 430.8 96.1 431.0 95.8 431.2 95.4 431.5 95.1 431.8 94.7 432.0 94.4 432.2 94.0 432.5 93.7 432.8 93.4 433.0 93.1 433.2 92.7 433.5 92.4 433.8 92.1 434.0 91.8 434.2 91.5 434.5 91.2 434.8 90.9 435.0 90.6 435.2 90.3 435.5 90.0 435.8 89.7 436.0 89.4 436.2 89.1 436.5 88.9 436.8 88.6 437.0 88.3 437.2 88.1 437.5 87.8 437.8 87.5 438.0 87.3 438.2 87.0 438.5 86.8 438.8 86.6 439.0 86.3 439.2 86.1 439.5 85.9 439.8 85.6 440.0 85.4 440.2 85.2 440.5 85.0 440.8 84.8 441.0 84.6 441.2 84.4 441.5 84.2 441.8 84.0 442.0 83.8 442.2 83.6 442.5 83.4 442.8 83.3 443.0 83.1 443.2 82.9 443.5 82.8 443.8 82.6 444.0 82.5 444.2 82.3 444.5 82.2 444.8 82.0 445.0 81.9 445.2 81.8 445.5 81.7 445.8 81.5 446.0 81.4 446.2 81.3 446.5 81.2 446.8 81.1 447.0 81.0 447.2 80.9 447.5 80.8 447.8 80.7 448.0 80.7 448.2 80.6 448.5 80.5 448.8 80.4 449.0 80.4 449.2 80.3 449.5 80.3 449.8 80.2 450.0 80.2 450.2 80.1 450.5 80.1 450.8 80.1 451.0 80.1 451.2 80.0 451.5 80.0 451.8 80.0 452.0 80.0 452.2 80.0 452.5 80.0 452.8 80.0 453.0 80.0 453.2 80.0 453.5 80.1 453.8 80.1 454.0 80.1 454.2 80.1 454.5 80.2 454.8 80.2 455.0 80.3 455.2 80.3 455.5 80.4 455.8 80.4 456.0 80.5 456.2 80.6 456.5 80.7 456.8 80.7 457.0 80.8 457.2 80.9 457.5 81.0 457.8 81.1 458.0 81.2 458.2 81.3 458.5 81.4 458.8 81.5 459.0 81.7 459.2 81.8 459.5 81.9 459.8 82.0 460.0 82.2 460.2 82.3 460.5 82.5 460.8 82.6 461.0 82.8 461.2 82.9 461.5 83.1 461.8 83.3 462.0 83.4 462.2 83.6 462.5 83.8 462.8 84.0 463.0 84.2 463.2 84.4 463.5 84.6 463.8 84.8 464.0 85.0 464.2 85.2 464.5 85.4 464.8 85.6 465.0 85.9 465.2 86.1 465.5 86.3 465.8 86.6 466.0 86.8 466.2 87.0 466.5 87.3 466.8 87.5 467.0 87.8 467.2 88.1 467.5 88.3 467.8 88.6 468.0 88.9 468.2 89.1 468.5 89.4 468.8 89.7 469.0 90.0 469.2 90.3 469.5 90.6 469.8 90.9 470.0 91.2 470.2 91.5 470.5 91.8 470.8 92.1 471.0 92.4 471.2 92.7 471.5 93.1 471.8 93.4 472.0 93.7 472.2 94.0 472.5 94.4 472.8 94.7 473.0 95.1 473.2 95.4 473.5 95.8 473.8 96.1 474.0 96.5 474.2 96.8 474.5 97.2 474.8 97.6 475.0 98.0 475.2 98.3 475.5 98.7 475.8 99.1 476.0 99.5 476.2 99.9 476.5 100.2 476.8 100.6 477.0 101.0 477.2 101.4 477.5 101.8 477.8 102.2 478.0 102.6 478.2 103.1 478.5 103.5 478.8 103.9 479.0 104.3 479.2 104.7 479.5 105.1 479.8 105.6 480.0 106.0 480.2 106.4 480.5 106.9 480.8 107.3 481.0 107.7 481.2 108.2 481.5 108.6 481.8 109.1 482.0 109.5 482.2 110.0 482.5 110.4 482.8 110.9 483.0 111.3 483.2 111.8 483.5 112.3 483.8 112.7 484.0 113.2 484.2 113.7 484.5 114.1 484.8 114.6 485.0 115.1 485.2 115.5 485.5 116.0 485.8 116.5 486.0 117.0 486.2 117.5 486.5 117.9 486.8 118.4 487.0 118.9 487.2 119.4 487.5 119.9 487.8 120.4 488.0 120.9 488.2 121.4 488.5 121.9 488.8 122.4 489.0 122.9 489.2 123.3 489.5 123.8 489.8 124.3 490.0 124.9 490.2 125.4 490.5 125.9 490.8 126.4 491.0 126.9 491.2 127.4 491.5 127.9 491.8 128.4 492.0 128.9 492.2 129.4 492.5 129.9 492.8 130.4 493.0 130.9 493.2 131.5 493.5 132.0 493.8 132.5 494.0 133.0 494.2 133.5 494.5 134.0 494.8 134.5 495.0 135.1 495.2 135.6 495.5 136.1 495.8 136.6 496.0 137.1 496.2 137.6 496.5 138.1 496.8 138.7 497.0 139.2 497.2 139.7 497.5 140.2 497.8 140.7 498.0 141.2 498.2 141.8 498.5 142.3 498.8 142.8 499.0 143.3 499.2 143.8 499.5 144.3 499.8 144.8 500.0 145.4 500.2 145.9 500.5 146.4 500.8 146.9 501.0 147.4 501.2 147.9 501.5 148.4 501.8 148.9 502.0 149.4 502.2 149.9 502.5 150.4 502.8 150.9 503.0 151.4 503.2 152.0 503.5 152.5 503.8 153.0 504.0 153.4 504.2 153.9 504.5 154.4 504.8 154.9 505.0 155.4 505.2 155.9 505.5 156.4 505.8 156.9 506.0 157.4 506.2 157.9 506.5 158.4 506.8 158.8 507.0 159.3 507.2 159.8 507.5 160.3 507.8 160.8 508.0 161.2 508.2 161.7 508.5 162.2 508.8 162.6 509.0 163.1 509.2 163.6 509.5 164.0 509.8 164.5 510.0 165.0 510.2 165.4 510.5 165.9 510.8 166.3 511.0 166.8 511.2 167.2 511.5 167.7 511.8 168.1 512.0 168.6 512.2 169.0 512.5 169.4 512.8 169.9 513.0 170.3 513.2 170.7 513.5 171.2 513.8 171.6 514.0 172.0 514.2 172.4 514.5 172.8 514.8 173.2 515.0 173.7 515.2 174.1 515.5 174.5 515.8 174.9 516.0 175.3 516.2 175.7 516.5 176.1 516.8 176.4 517.0 176.8 517.2 177.2 517.5 177.6 517.8 178.0 518.0 178.3 518.2 178.7 518.5 179.1 518.8 179.5 519.0 179.8 519.2 180.2 519.5 180.5 519.8 180.9 520.0 181.2 520.2 181.6 520.5 181.9 520.8 182.3 521.0 182.6 521.2 182.9 521.5 183.2 521.8 183.6 522.0 183.9 522.2 184.2 522.5 184.5 522.8 184.8 523.0 185.1 523.2 185.4 523.5 185.7 523.8 186.0 524.0 186.3 524.2 186.6 524.5 186.9 524.8 187.2 525.0 187.4 525.2 187.7 525.5 188.0 525.8 188.2 526.0 188.5 526.2 188.8 526.5 189.0 526.8 189.3 527.0 189.5 527.2 189.7 527.5 190.0 527.8 190.2 528.0 190.4 528.2 190.7 528.5 190.9 528.8 191.1 529.0 191.3 529.2 191.5 529.5 191.7 529.8 191.9 530.0 192.1 530.2 192.3 530.5 192.5 530.8 192.7 531.0 192.9 531.2 193.0 531.5 193.2 531.8 193.4 532.0 193.5 532.2 193.7 532.5 193.8 532.8 194.0 533.0 194.1 533.2 194.3 533.5 194.4 533.8 194.5 534.0 194.6 534.2 194.8 534.5 194.9 534.8 195.0 535.0 195.1 535.2 195.2 535.5 195.3 535.8 195.4 536.0 195.5 536.2 195.6 536.5 195.6 536.8 195.7 537.0 195.8 537.2 195.9 537.5 195.9 537.8 196.0 538.0 196.0 538.2 196.1 538.5 196.1 538.8 196.2 539.0 196.2 539.2 196.2 539.5 196.2 539.8 196.3 540.0 196.3 540.2 196.3 540.5 196.3 540.8 196.3 541.0 196.3 541.2 196.3 541.5 196.3 541.8 196.3 542.0 196.2 542.2 196.2 542.5 196.2 542.8 196.2 543.0 196.1 543.2 196.1 543.5 196.0 543.8 196.0 544.0 195.9 544.2 195.9 544.5 195.8 544.8 195.7 545.0 195.6 545.2 195.6 545.5 195.5 545.8 195.4 546.0 195.3 546.2 195.2 546.5 195.1 546.8 195.0 547.0 194.9 547.2 194.8 547.5 194.6 547.8 194.5 548.0 194.4 548.2 194.3 548.5 194.1 548.8 194.0 549.0 193.8 549.2 193.7 549.5 193.5 549.8 193.4 550.0 193.2 550.2 193.0 550.5 192.9 550.8 192.7 551.0 192.5 551.2 192.3 551.5 192.1 551.8 191.9 552.0 191.7 552.2 191.5 552.5 191.3 552.8 191.1 553.0 190.9 553.2 190.7 553.5 190.4 553.8 190.2 554.0 190.0 554.2 189.7 554.5 189.5 554.8 189.3 555.0 189.0 555.2 188.8 555.5 188.5 555.8 188.2 556.0 188.0 556.2 187.7 556.5 187.4 556.8 187.2 557.0 186.9 557.2 186.6 557.5 186.3 557.8 186.0 558.0 185.7 558.2 185.4 558.5 185.1 558.8 184.8 559.0 184.5 559.2 184.2 559.5 183.9 559.8 183.6 560.0 183.2 560.2 182.9 560.5 182.6 560.8 182.3 561.0 181.9 561.2 181.6 561.5 181.2 561.8 180.9 562.0 180.5 562.2 180.2 562.5 179.8 562.8 179.5 563.0 179.1 563.2 178.7 563.5 178.3 563.8 178.0 564.0 177.6 564.2 177.2 564.5 176.8 564.8 176.4 565.0 176.1 565.2 175.7 565.5 175.3 565.8 174.9 566.0 174.5 566.2 174.1 566.5 173.7 566.8 173.2 567.0 172.8 567.2 172.4 567.5 172.0 567.8 171.6 568.0 171.2 568.2 170.7 568.5 170.3 568.8 169.9 569.0 169.4 569.2 169.0 569.5 168.6 569.8 168.1 570.0 167.7 570.2 167.2 570.5 166.8 570.8 166.3 571.0 165.9 571.2 165.4 571.5 165.0 571.8 164.5 572.0 164.0 572.2 163.6 572.5 163.1 572.8 162.6 573.0 162.2 573.2 161.7 573.5 161.2 573.8 160.8 574.0 160.3 574.2 159.8 574.5 159.3 574.8 158.8 575.0 158.4 575.2 157.9 575.5 157.4 575.8 156.9 576.0 156.4 576.2 155.9 576.5 155.4 576.8 154.9 577.0 154.4 577.2 153.9 577.5 153.4 577.8 153.0 578.0 152.5 578.2 152.0 578.5 151.4 578.8 150.9 579.0 150.4 579.2 149.9 579.5 149.4 579.8 148.9 580.0 148.4 580.2 147.9 580.5 147.4 580.8 146.9 581.0 146.4 581.2 145.9 581.5 145.4 581.8 144.8 582.0 144.3 582.2 143.8 582.5 143.3 582.8 142.8 583.0 142.3 583.2 141.8 583.5 141.2 583.8 140.7 584.0 140.2 584.2 139.7 584.5 139.2 584.8 138.7 585.0 138.2 585.2 137.6 585.5 137.1 585.8 136.6 586.0 136.1 586.2 135.6 586.5 135.1 586.8 134.5 587.0 134.0 587.2 133.5 587.5 133.0 587.8 132.5 588.0 132.0 588.2 131.5 588.5 130.9 588.8 130.4 589.0 129.9 589.2 129.4 589.5 128.9 589.8 128.4 590.0 127.9 590.2 127.4 590.5 126.9 590.8 126.4 591.0 125.9 591.2 125.4 591.5 124.9 591.8 124.3 592.0 123.8 592.2 123.3 592.5 122.9 592.8 122.4 593.0 121.9 593.2 121.4 593.5 120.9 593.8 120.4 594.0 119.9 594.2 119.4 594.5 118.9 594.8 118.4 595.0 117.9 595.2 117.5 595.5 117.0 595.8 116.5 596.0 116.0 596.2 115.5 596.5 115.1 596.8 114.6 597.0 114.1 597.2 113.7 597.5 113.2 597.8 112.7 598.0 112.3 598.2 111.8 598.5 111.3 598.8 110.9 599.0 110.4 599.2 110.0 599.5 109.5 599.8 109.1 600.0 108.6 600.2 108.2 600.5 107.7 600.8 107.3 601.0 106.9 601.2 106.4 601.5 106.0 601.8 105.6 602.0 105.1 602.2 104.7 602.5 104.3 602.8 103.9 603.0 103.5 603.2 103.1 603.5 102.6 603.8 102.2 604.0 101.8 604.2 101.4 604.5 101.0 604.8 100.6 605.0 100.2 605.2 99.9 605.5 99.5 605.8 99.1 606.0 98.7 606.2 98.3 606.5 98.0 606.8 97.6 607.0 97.2 607.2 96.8 607.5 96.5 607.8 96.1 608.0 95.8 608.2 95.4 608.5 95.1 608.8 94.7 609.0 94.4 609.2 94.0 609.5 93.7 609.8 93.4 610.0 93.1 610.2 92.7 610.5 92.4 610.8 92.1 611.0 91.8 611.2 91.5 611.5 91.2 611.8 90.9 612.0 90.6 612.2 90.3 612.5 90.0 612.8 89.7 613.0 89.4 613.2 89.1 613.5 88.9 613.8 88.6 614.0 88.3 614.2 88.1 614.5 87.8 614.8 87.5 615.0 87.3 615.2 87.0 615.5 86.8 615.8 86.6 616.0 86.3 616.2 86.1 616.5 85.9 616.8 85.6 617.0 85.4 617.2 85.2 617.5 85.0 617.8 84.8 618.0 84.6 618.2 84.4 618.5 84.2 618.8 84.0 619.0 83.8 619.2 83.6 619.5 83.4 619.8 83.3 620.0 83.1 620.2 82.9 620.5 82.8 620.8 82.6 621.0 82.5 621.2 82.3 621.5 82.2 621.8 82.0 622.0 81.9 622.2 81.8 622.5 81.7 622.8 81.5 623.0 81.4 623.2 81.3 623.5 81.2 623.8 81.1 624.0 81.0 624.2 80.9 624.5 80.8 624.8 80.7 625.0 80.7 625.2 80.6 625.5 80.5 625.8 80.4 626.0 80.4 626.2 80.3 626.5 80.3 626.8 80.2 627.0 80.2 627.2 80.1 627.5 80.1 627.8 80.1 628.0 80.1 628.2 80.0 628.5 80.0 628.8 80.0 629.0 80.0 629.2 80.0 629.5 80.0 629.8 80.0 630.0 80.0 630.2 80.0 630.5 80.1 630.8 80.1 631.0 80.1 631.2 80.1 631.5 80.2 631.8 80.2 632.0 80.3 632.2 80.3 632.5 80.4 632.8 80.4 633.0 80.5 633.2 80.6 633.5 80.7 633.8 80.7 634.0 80.8 634.2 80.9 634.5 81.0 634.8 81.1 635.0 81.2 635.2 81.3 635.5 81.4 635.8 81.5 636.0 81.7 636.2 81.8 636.5 81.9 636.8 82.0 637.0 82.2 637.2 82.3 637.5 82.5 637.8 82.6 638.0 82.8 638.2 82.9 638.5 83.1 638.8 83.3 639.0 83.4 639.2 83.6 639.5 83.8 639.8 84.0 640.0 84.2 640.2 84.4 640.5 84.6 640.8 84.8 641.0 85.0 641.2 85.2 641.5 85.4 641.8 85.6 642.0 85.9 642.2 86.1 642.5 86.3 642.8 86.6 643.0 86.8 643.2 87.0 643.5 87.3 643.8 87.5 644.0 87.8 644.2 88.1 644.5 88.3 644.8 88.6 645.0 88.9 645.2 89.1 645.5 89.4 645.8 89.7 646.0 90.0 646.2 90.3 646.5 90.6 646.8 90.9 647.0 91.2 647.2 91.5 647.5 91.8 647.8 92.1 648.0 92.4 648.2 92.7 648.5 93.1 648.8 93.4 649.0 93.7 649.2 94.0 649.5 94.4 649.8 94.7 650.0 95.1 650.2 95.4 650.5 95.8 650.8 96.1 651.0 96.5 651.2 96.8 651.5 97.2 651.8 97.6 652.0 98.0 652.2 98.3 652.5 98.7 652.8 99.1 653.0 99.5 653.2 99.9 653.5 100.2 653.8 100.6 654.0 101.0 654.2 101.4 654.5 101.8 654.8 102.2 655.0 102.6 655.2 103.1 655.5 103.5 655.8 103.9 656.0 104.3 656.2 104.7 656.5 105.1 656.8 105.6 657.0 106.0 657.2 106.4 657.5 106.9 657.8 107.3 658.0 107.7 658.2 108.2 658.5 108.6 658.8 109.1 659.0 109.5 659.2 110.0 659.5 110.4 659.8 110.9 660.0 111.3 660.2 111.8 660.5 112.3 660.8 112.7 661.0 113.2 661.2 113.7 661.5 114.1 661.8 114.6 662.0 115.1 662.2 115.5 662.5 116.0 662.8 116.5 663.0 117.0 663.2 117.5 663.5 117.9 663.8 118.4 664.0 118.9 664.2 119.4 664.5 119.9 664.8 120.4 665.0 120.9 665.2 121.4 665.5 121.9 665.8 122.4 666.0 122.9 666.2 123.3 666.5 123.8 666.8 124.3 667.0 124.9 667.2 125.4 667.5 125.9 667.8 126.4 668.0 126.9 668.2 127.4 668.5 127.9 668.8 128.4 669.0 128.9 669.2 129.4 669.5 129.9 669.8 130.4 670.0 130.9 670.2 131.5 670.5 132.0 670.8 132.5 671.0 133.0 671.2 133.5 671.5 134.0 671.8 134.5 672.0 135.1 672.2 135.6 672.5 136.1 672.8 136.6 673.0 137.1 673.2 137.6 673.5 138.1 673.8 138.7 674.0 139.2 674.2 139.7 674.5 140.2 674.8 140.7 675.0 141.2 675.2 141.8 675.5 142.3 675.8 142.8 676.0 143.3 676.2 143.8 676.5 144.3 676.8 144.8 677.0 145.4 677.2 145.9 677.5 146.4 677.8 146.9 678.0 147.4 678.2 147.9 678.5 148.4 678.8 148.9 679.0 149.4 679.2 149.9 679.5 150.4 679.8 150.9 680.0 151.4 680.2 152.0 680.5 152.5 680.8 153.0 681.0 153.4 681.2 153.9 681.5 154.4 681.8 154.9 682.0 155.4 682.2 155.9 682.5 156.4 682.8 156.9 683.0 157.4 683.2 157.9 683.5 158.4 683.8 158.8 684.0 159.3 684.2 159.8 684.5 160.3 684.8 160.8 685.0 161.2 685.2 161.7 685.5 162.2 685.8 162.6 686.0 163.1 686.2 163.6 686.5 164.0 686.8 164.5 687.0 165.0 687.2 165.4 687.5 165.9 687.8 166.3 688.0 166.8 688.2 167.2 688.5 167.7 688.8 168.1 689.0 168.6 689.2 169.0 689.5 169.4 689.8 169.9 690.0 170.3 690.2 170.7 690.5 171.2 690.8 171.6 691.0 172.0 691.2 172.4 691.5 172.8 691.8 173.2 692.0 173.7 692.2 174.1 692.5 174.5 692.8 174.9 693.0 175.3 693.2 175.7 693.5 176.1 693.8 176.4 694.0 176.8 694.2 177.2 694.5 177.6 694.8 178.0 695.0 178.3 695.2 178.7 695.5 179.1 695.8 179.5 696.0 179.8 696.2 180.2 696.5 180.5 696.8 180.9 697.0 181.2 697.2 181.6 697.5 181.9 697.8 182.3 698.0 182.6 698.2 182.9 698.5 183.2 698.8 183.6 699.0 183.9 699.2 184.2 699.5 184.5 699.8 184.8 700.0 185.1 700.2 185.4 700.5 185.7 700.8 186.0 701.0 186.3 701.2 186.6 701.5 186.9 701.8 187.2 702.0 187.4 702.2 187.7 702.5 188.0 702.8 188.2 703.0 188.5 703.2 188.8 703.5 189.0 703.8 189.3 704.0 189.5 704.2 189.7 704.5 190.0 704.8 190.2 705.0 190.4 705.2 190.7 705.5 190.9 705.8 191.1 706.0 191.3 706.2 191.5 706.5 191.7 706.8 191.9 707.0 192.1 707.2 192.3 707.5 192.5 707.8 192.7 708.0 192.9 708.2 193.0 708.5 193.2 708.8 193.4 709.0 193.5 709.2 193.7 709.5 193.8 709.8 194.0 710.0 194.1 710.2 194.3 710.5 194.4 710.8 194.5 711.0 194.6 711.2 194.8 711.5 194.9 711.8 195.0 712.0 195.1 712.2 195.2 712.5 195.3 712.8 195.4 713.0 195.5 713.2 195.6 713.5 195.6 713.8 195.7 714.0 195.8 714.2 195.9 714.5 195.9 714.8 196.0 715.0 196.0 715.2 196.1 715.5 196.1 715.8 196.2 716.0 196.2 716.2 196.2 716.5 196.2 716.8 196.3 717.0 196.3 717.2 196.3 717.5 196.3 717.8 196.3 718.0 196.3 718.2 196.3 718.5 196.3 718.8 196.3 719.0 196.2 719.2 196.2 719.5 196.2 719.8 196.2 720.0 196.1 720.2 196.1 720.5 196.0 720.8 196.0 721.0 195.9 721.2 195.9 721.5 195.8 721.8 195.7 722.0 195.6 722.2 195.6 722.5 195.5 722.8 195.4 723.0 195.3 723.2 195.2 723.5 195.1 723.8 195.0 724.0 194.9 724.2 194.8 724.5 194.6 724.8 194.5 725.0 194.4 725.2 194.3 725.5 194.1 725.8 194.0 726.0 193.8 726.2 193.7 726.5 193.5 726.8 193.4 727.0 193.2 727.2 193.0 727.5 192.9 727.8 192.7 728.0 192.5 728.2 192.3 728.5 192.1 728.8 191.9 729.0 191.7 729.2 191.5 729.5 191.3 729.8 191.1 730.0 190.9 730.2 190.7 730.5 190.4 730.8 190.2 731.0 190.0 731.2 189.7 731.5 189.5 731.8 189.3 732.0 189.0 732.2 188.8 732.5 188.5 732.8 188.2 733.0 188.0 733.2 187.7 733.5 187.4 733.8 187.2 734.0 186.9 734.2 186.6 734.5 186.3 734.8 186.0 735.0 185.7 735.2 185.4 735.5 185.1 735.8 184.8 736.0 184.5 736.2 184.2 736.5 183.9 736.8 183.6 737.0 183.2 737.2 182.9 737.5 182.6 737.8 182.3 738.0 181.9 738.2 181.6 738.5 181.2 738.8 180.9 739.0 180.5 739.2 180.2 739.5 179.8 739.8 179.5 740.0 179.1 740.2 178.7 740.5 178.3 740.8 178.0 741.0 177.6 741.2 177.2 741.5 176.8 741.8 176.4 742.0 176.1 742.2 175.7 742.5 175.3 742.8 174.9 743.0 174.5 743.2 174.1 743.5 173.7 743.8 173.2 744.0 172.8 744.2 172.4 744.5 172.0 744.8 171.6 745.0 171.2 745.2 170.7 745.5 170.3 745.8 169.9 746.0 169.4 746.2 169.0 746.5 168.6 746.8 168.1 747.0 167.7 747.2 167.2 747.5 166.8 747.8 166.3 748.0 165.9 748.2 165.4 748.5 165.0 748.8 164.5 749.0 164.0 749.2 163.6 749.5 163.1 749.8 162.6 750.0 162.2 750.2 161.7 750.5 161.2 750.8 160.8 751.0 160.3 751.2 159.8 751.5 159.3 751.8 158.8 752.0 158.4 752.2 157.9 752.5 157.4 752.8 156.9 753.0 156.4 753.2 155.9 753.5 155.4 753.8 154.9 754.0 154.4 754.2 153.9 754.5 153.4 754.8 153.0 755.0 152.5 755.2 152.0 755.5 151.4 755.8 150.9 756.0 150.4 756.2 149.9 756.5 149.4 756.8 148.9 757.0 148.4 757.2 147.9 757.5 147.4 757.8 146.9 758.0 146.4 758.2 145.9 758.5 145.4 758.8 144.8 759.0 144.3 759.2 143.8 759.5 143.3 759.8 142.8 760.0 142.3 760.2 141.8 760.5 141.2 760.8 140.7 761.0 140.2 761.2 139.7 761.5 139.2 761.8 138.7 762.0 138.1" class="w" stroke="#1c1ca8" stroke-width="2.8"/>
<path d="M54.0 531.1L54.2 531.0 54.5 530.9 54.8 530.8 55.0 530.7 55.2 530.6 55.5 530.5 55.8 530.4 56.0 530.3 56.2 530.2 56.5 530.1 56.8 530.0 57.0 529.9 57.2 529.8 57.5 529.7 57.8 529.6 58.0 529.5 58.2 529.4 58.5 529.3 58.8 529.2 59.0 529.0 59.2 528.9 59.5 528.8 59.8 528.7 60.0 528.6 60.2 528.5 60.5 528.4 60.8 528.2 61.0 528.1 61.2 528.0 61.5 527.9 61.8 527.8 62.0 527.6 62.2 527.5 62.5 527.4 62.8 527.3 63.0 527.1 63.2 527.0 63.5 526.9 63.8 526.8 64.0 526.6 64.2 526.5 64.5 526.4 64.8 526.2 65.0 526.1 65.2 526.0 65.5 525.9 65.8 525.7 66.0 525.6 66.2 525.5 66.5 525.3 66.8 525.2 67.0 525.1 67.2 524.9 67.5 524.8 67.8 524.6 68.0 524.5 68.2 524.4 68.5 524.2 68.8 524.1 69.0 524.0 69.2 523.8 69.5 523.7 69.8 523.5 70.0 523.4 70.2 523.3 70.5 523.1 70.8 523.0 71.0 522.8 71.2 522.7 71.5 522.5 71.8 522.4 72.0 522.2 72.2 522.1 72.5 522.0 72.8 521.8 73.0 521.7 73.2 521.5 73.5 521.4 73.8 521.2 74.0 521.1 74.2 520.9 74.5 520.8 74.8 520.6 75.0 520.5 75.2 520.3 75.5 520.2 75.8 520.0 76.0 519.9 76.2 519.7 76.5 519.6 76.8 519.4 77.0 519.3 77.2 519.1 77.5 519.0 77.8 518.8 78.0 518.7 78.2 518.5 78.5 518.4 78.8 518.2 79.0 518.1 79.2 517.9 79.5 517.8 79.8 517.7 80.0 517.5 80.2 517.4 80.5 517.2 80.8 517.1 81.0 516.9 81.2 516.8 81.5 516.6 81.8 516.5 82.0 516.3 82.2 516.2 82.5 516.0 82.8 515.9 83.0 515.7 83.2 515.6 83.5 515.4 83.8 515.3 84.0 515.1 84.2 515.0 84.5 514.8 84.8 514.7 85.0 514.5 85.2 514.4 85.5 514.2 85.8 514.1 86.0 513.9 86.2 513.8 86.5 513.6 86.8 513.5 87.0 513.4 87.2 513.2 87.5 513.1 87.8 512.9 88.0 512.8 88.2 512.6 88.5 512.5 88.8 512.3 89.0 512.2 89.2 512.1 89.5 511.9 89.8 511.8 90.0 511.6 90.2 511.5 90.5 511.4 90.8 511.2 91.0 511.1 91.2 511.0 91.5 510.8 91.8 510.7 92.0 510.5 92.2 510.4 92.5 510.3 92.8 510.1 93.0 510.0 93.2 509.9 93.5 509.7 93.8 509.6 94.0 509.5 94.2 509.3 94.5 509.2 94.8 509.1 95.0 509.0 95.2 508.8 95.5 508.7 95.8 508.6 96.0 508.5 96.2 508.3 96.5 508.2 96.8 508.1 97.0 508.0 97.2 507.8 97.5 507.7 97.8 507.6 98.0 507.5 98.2 507.4 98.5 507.2 98.8 507.1 99.0 507.0 99.2 506.9 99.5 506.8 99.8 506.7 100.0 506.6 100.2 506.4 100.5 506.3 100.8 506.2 101.0 506.1 101.2 506.0 101.5 505.9 101.8 505.8 102.0 505.7 102.2 505.6 102.5 505.5 102.8 505.4 103.0 505.3 103.2 505.2 103.5 505.1 103.8 505.0 104.0 504.9 104.2 504.8 104.5 504.7 104.8 504.6 105.0 504.5 105.2 504.4 105.5 504.3 105.8 504.2 106.0 504.1 106.2 504.1 106.5 504.0 106.8 503.9 107.0 503.8 107.2 503.7 107.5 503.6 107.8 503.6 108.0 503.5 108.2 503.4 108.5 503.3 108.8 503.2 109.0 503.2 109.2 503.1 109.5 503.0 109.8 502.9 110.0 502.9 110.2 502.8 110.5 502.7 110.8 502.7 111.0 502.6 111.2 502.5 111.5 502.5 111.8 502.4 112.0 502.3 112.2 502.3 112.5 502.2 112.8 502.2 113.0 502.1 113.2 502.1 113.5 502.0 113.8 502.0 114.0 501.9 114.2 501.9 114.5 501.8 114.8 501.8 115.0 501.7 115.2 501.7 115.5 501.6 115.8 501.6 116.0 501.5 116.2 501.5 116.5 501.5 116.8 501.4 117.0 501.4 117.2 501.3 117.5 501.3 117.8 501.3 118.0 501.3 118.2 501.2 118.5 501.2 118.8 501.2 119.0 501.1 119.2 501.1 119.5 501.1 119.8 501.1 120.0 501.0 120.2 501.0 120.5 501.0 120.8 501.0 121.0 501.0 121.2 501.0 121.5 501.0 121.8 500.9 122.0 500.9 122.2 500.9 122.5 500.9 122.8 500.9 123.0 500.9 123.2 500.9 123.5 500.9 123.8 500.9 124.0 500.9 124.2 500.9 124.5 500.9 124.8 500.9 125.0 500.9 125.2 500.9 125.5 500.9 125.8 500.9 126.0 501.0 126.2 501.0 126.5 501.0 126.8 501.0 127.0 501.0 127.2 501.0 127.5 501.0 127.8 501.1 128.0 501.1 128.2 501.1 128.5 501.1 128.8 501.2 129.0 501.2 129.2 501.2 129.5 501.3 129.8 501.3 130.0 501.3 130.2 501.3 130.5 501.4 130.8 501.4 131.0 501.5 131.2 501.5 131.5 501.5 131.8 501.6 132.0 501.6 132.2 501.7 132.5 501.7 132.8 501.8 133.0 501.8 133.2 501.9 133.5 501.9 133.8 502.0 134.0 502.0 134.2 502.1 134.5 502.1 134.8 502.2 135.0 502.2 135.2 502.3 135.5 502.3 135.8 502.4 136.0 502.5 136.2 502.5 136.5 502.6 136.8 502.7 137.0 502.7 137.2 502.8 137.5 502.9 137.8 502.9 138.0 503.0 138.2 503.1 138.5 503.2 138.8 503.2 139.0 503.3 139.2 503.4 139.5 503.5 139.8 503.6 140.0 503.6 140.2 503.7 140.5 503.8 140.8 503.9 141.0 504.0 141.2 504.1 141.5 504.1 141.8 504.2 142.0 504.3 142.2 504.4 142.5 504.5 142.8 504.6 143.0 504.7 143.2 504.8 143.5 504.9 143.8 505.0 144.0 505.1 144.2 505.2 144.5 505.3 144.8 505.4 145.0 505.5 145.2 505.6 145.5 505.7 145.8 505.8 146.0 505.9 146.2 506.0 146.5 506.1 146.8 506.2 147.0 506.3 147.2 506.4 147.5 506.6 147.8 506.7 148.0 506.8 148.2 506.9 148.5 507.0 148.8 507.1 149.0 507.2 149.2 507.4 149.5 507.5 149.8 507.6 150.0 507.7 150.2 507.8 150.5 508.0 150.8 508.1 151.0 508.2 151.2 508.3 151.5 508.5 151.8 508.6 152.0 508.7 152.2 508.8 152.5 509.0 152.8 509.1 153.0 509.2 153.2 509.3 153.5 509.5 153.8 509.6 154.0 509.7 154.2 509.9 154.5 510.0 154.8 510.1 155.0 510.3 155.2 510.4 155.5 510.5 155.8 510.7 156.0 510.8 156.2 511.0 156.5 511.1 156.8 511.2 157.0 511.4 157.2 511.5 157.5 511.6 157.8 511.8 158.0 511.9 158.2 512.1 158.5 512.2 158.8 512.3 159.0 512.5 159.2 512.6 159.5 512.8 159.8 512.9 160.0 513.1 160.2 513.2 160.5 513.4 160.8 513.5 161.0 513.6 161.2 513.8 161.5 513.9 161.8 514.1 162.0 514.2 162.2 514.4 162.5 514.5 162.8 514.7 163.0 514.8 163.2 515.0 163.5 515.1 163.8 515.3 164.0 515.4 164.2 515.6 164.5 515.7 164.8 515.9 165.0 516.0 165.2 516.2 165.5 516.3 165.8 516.5 166.0 516.6 166.2 516.8 166.5 516.9 166.8 517.1 167.0 517.2 167.2 517.4 167.5 517.5 167.8 517.7 168.0 517.8 168.2 517.9 168.5 518.1 168.8 518.2 169.0 518.4 169.2 518.5 169.5 518.7 169.8 518.8 170.0 519.0 170.2 519.1 170.5 519.3 170.8 519.4 171.0 519.6 171.2 519.7 171.5 519.9 171.8 520.0 172.0 520.2 172.2 520.3 172.5 520.5 172.8 520.6 173.0 520.8 173.2 520.9 173.5 521.1 173.8 521.2 174.0 521.4 174.2 521.5 174.5 521.7 174.8 521.8 175.0 522.0 175.2 522.1 175.5 522.2 175.8 522.4 176.0 522.5 176.2 522.7 176.5 522.8 176.8 523.0 177.0 523.1 177.2 523.3 177.5 523.4 177.8 523.5 178.0 523.7 178.2 523.8 178.5 524.0 178.8 524.1 179.0 524.2 179.2 524.4 179.5 524.5 179.8 524.6 180.0 524.8 180.2 524.9 180.5 525.1 180.8 525.2 181.0 525.3 181.2 525.5 181.5 525.6 181.8 525.7 182.0 525.9 182.2 526.0 182.5 526.1 182.8 526.2 183.0 526.4 183.2 526.5 183.5 526.6 183.8 526.8 184.0 526.9 184.2 527.0 184.5 527.1 184.8 527.3 185.0 527.4 185.2 527.5 185.5 527.6 185.8 527.8 186.0 527.9 186.2 528.0 186.5 528.1 186.8 528.2 187.0 528.4 187.2 528.5 187.5 528.6 187.8 528.7 188.0 528.8 188.2 528.9 188.5 529.0 188.8 529.2 189.0 529.3 189.2 529.4 189.5 529.5 189.8 529.6 190.0 529.7 190.2 529.8 190.5 529.9 190.8 530.0 191.0 530.1 191.2 530.2 191.5 530.3 191.8 530.4 192.0 530.5 192.2 530.6 192.5 530.7 192.8 530.8 193.0 530.9 193.2 531.0 193.5 531.1 193.8 531.2 194.0 531.3 194.2 531.4 194.5 531.5 194.8 531.5 195.0 531.6 195.2 531.7 195.5 531.8 195.8 531.9 196.0 532.0 196.2 532.0 196.5 532.1 196.8 532.2 197.0 532.3 197.2 532.4 197.5 532.4 197.8 532.5 198.0 532.6 198.2 532.7 198.5 532.7 198.8 532.8 199.0 532.9 199.2 532.9 199.5 533.0 199.8 533.1 200.0 533.1 200.2 533.2 200.5 533.3 200.8 533.3 201.0 533.4 201.2 533.4 201.5 533.5 201.8 533.5 202.0 533.6 202.2 533.6 202.5 533.7 202.8 533.7 203.0 533.8 203.2 533.8 203.5 533.9 203.8 533.9 204.0 534.0 204.2 534.0 204.5 534.1 204.8 534.1 205.0 534.1 205.2 534.2 205.5 534.2 205.8 534.3 206.0 534.3 206.2 534.3 206.5 534.3 206.8 534.4 207.0 534.4 207.2 534.4 207.5 534.5 207.8 534.5 208.0 534.5 208.2 534.5 208.5 534.6 208.8 534.6 209.0 534.6 209.2 534.6 209.5 534.6 209.8 534.6 210.0 534.6 210.2 534.7 210.5 534.7 210.8 534.7 211.0 534.7 211.2 534.7 211.5 534.7 211.8 534.7 212.0 534.7 212.2 534.7 212.5 534.7 212.8 534.7 213.0 534.7 213.2 534.7 213.5 534.7 213.8 534.7 214.0 534.7 214.2 534.7 214.5 534.6 214.8 534.6 215.0 534.6 215.2 534.6 215.5 534.6 215.8 534.6 216.0 534.6 216.2 534.5 216.5 534.5 216.8 534.5 217.0 534.5 217.2 534.4 217.5 534.4 217.8 534.4 218.0 534.3 218.2 534.3 218.5 534.3 218.8 534.3 219.0 534.2 219.2 534.2 219.5 534.1 219.8 534.1 220.0 534.1 220.2 534.0 220.5 534.0 220.8 533.9 221.0 533.9 221.2 533.8 221.5 533.8 221.8 533.7 222.0 533.7 222.2 533.6 222.5 533.6 222.8 533.5 223.0 533.5 223.2 533.4 223.5 533.4 223.8 533.3 224.0 533.3 224.2 533.2 224.5 533.1 224.8 533.1 225.0 533.0 225.2 532.9 225.5 532.9 225.8 532.8 226.0 532.7 226.2 532.7 226.5 532.6 226.8 532.5 227.0 532.4 227.2 532.4 227.5 532.3 227.8 532.2 228.0 532.1 228.2 532.0 228.5 532.0 228.8 531.9 229.0 531.8 229.2 531.7 229.5 531.6 229.8 531.5 230.0 531.5 230.2 531.4 230.5 531.3 230.8 531.2 231.0 531.1 231.2 531.0 231.5 530.9 231.8 530.8 232.0 530.7 232.2 530.6 232.5 530.5 232.8 530.4 233.0 530.3 233.2 530.2 233.5 530.1 233.8 530.0 234.0 529.9 234.2 529.8 234.5 529.7 234.8 529.6 235.0 529.5 235.2 529.4 235.5 529.3 235.8 529.2 236.0 529.0 236.2 528.9 236.5 528.8 236.8 528.7 237.0 528.6 237.2 528.5 237.5 528.4 237.8 528.2 238.0 528.1 238.2 528.0 238.5 527.9 238.8 527.8 239.0 527.6 239.2 527.5 239.5 527.4 239.8 527.3 240.0 527.1 240.2 527.0 240.5 526.9 240.8 526.8 241.0 526.6 241.2 526.5 241.5 526.4 241.8 526.2 242.0 526.1 242.2 526.0 242.5 525.9 242.8 525.7 243.0 525.6 243.2 525.5 243.5 525.3 243.8 525.2 244.0 525.1 244.2 524.9 244.5 524.8 244.8 524.6 245.0 524.5 245.2 524.4 245.5 524.2 245.8 524.1 246.0 524.0 246.2 523.8 246.5 523.7 246.8 523.5 247.0 523.4 247.2 523.3 247.5 523.1 247.8 523.0 248.0 522.8 248.2 522.7 248.5 522.5 248.8 522.4 249.0 522.2 249.2 522.1 249.5 522.0 249.8 521.8 250.0 521.7 250.2 521.5 250.5 521.4 250.8 521.2 251.0 521.1 251.2 520.9 251.5 520.8 251.8 520.6 252.0 520.5 252.2 520.3 252.5 520.2 252.8 520.0 253.0 519.9 253.2 519.7 253.5 519.6 253.8 519.4 254.0 519.3 254.2 519.1 254.5 519.0 254.8 518.8 255.0 518.7 255.2 518.5 255.5 518.4 255.8 518.2 256.0 518.1 256.2 517.9 256.5 517.8 256.8 517.7 257.0 517.5 257.2 517.4 257.5 517.2 257.8 517.1 258.0 516.9 258.2 516.8 258.5 516.6 258.8 516.5 259.0 516.3 259.2 516.2 259.5 516.0 259.8 515.9 260.0 515.7 260.2 515.6 260.5 515.4 260.8 515.3 261.0 515.1 261.2 515.0 261.5 514.8 261.8 514.7 262.0 514.5 262.2 514.4 262.5 514.2 262.8 514.1 263.0 513.9 263.2 513.8 263.5 513.6 263.8 513.5 264.0 513.4 264.2 513.2 264.5 513.1 264.8 512.9 265.0 512.8 265.2 512.6 265.5 512.5 265.8 512.3 266.0 512.2 266.2 512.1 266.5 511.9 266.8 511.8 267.0 511.6 267.2 511.5 267.5 511.4 267.8 511.2 268.0 511.1 268.2 511.0 268.5 510.8 268.8 510.7 269.0 510.5 269.2 510.4 269.5 510.3 269.8 510.1 270.0 510.0 270.2 509.9 270.5 509.7 270.8 509.6 271.0 509.5 271.2 509.3 271.5 509.2 271.8 509.1 272.0 509.0 272.2 508.8 272.5 508.7 272.8 508.6 273.0 508.5 273.2 508.3 273.5 508.2 273.8 508.1 274.0 508.0 274.2 507.8 274.5 507.7 274.8 507.6 275.0 507.5 275.2 507.4 275.5 507.2 275.8 507.1 276.0 507.0 276.2 506.9 276.5 506.8 276.8 506.7 277.0 506.6 277.2 506.4 277.5 506.3 277.8 506.2 278.0 506.1 278.2 506.0 278.5 505.9 278.8 505.8 279.0 505.7 279.2 505.6 279.5 505.5 279.8 505.4 280.0 505.3 280.2 505.2 280.5 505.1 280.8 505.0 281.0 504.9 281.2 504.8 281.5 504.7 281.8 504.6 282.0 504.5 282.2 504.4 282.5 504.3 282.8 504.2 283.0 504.1 283.2 504.1 283.5 504.0 283.8 503.9 284.0 503.8 284.2 503.7 284.5 503.6 284.8 503.6 285.0 503.5 285.2 503.4 285.5 503.3 285.8 503.2 286.0 503.2 286.2 503.1 286.5 503.0 286.8 502.9 287.0 502.9 287.2 502.8 287.5 502.7 287.8 502.7 288.0 502.6 288.2 502.5 288.5 502.5 288.8 502.4 289.0 502.3 289.2 502.3 289.5 502.2 289.8 502.2 290.0 502.1 290.2 502.1 290.5 502.0 290.8 502.0 291.0 501.9 291.2 501.9 291.5 501.8 291.8 501.8 292.0 501.7 292.2 501.7 292.5 501.6 292.8 501.6 293.0 501.5 293.2 501.5 293.5 501.5 293.8 501.4 294.0 501.4 294.2 501.3 294.5 501.3 294.8 501.3 295.0 501.3 295.2 501.2 295.5 501.2 295.8 501.2 296.0 501.1 296.2 501.1 296.5 501.1 296.8 501.1 297.0 501.0 297.2 501.0 297.5 501.0 297.8 501.0 298.0 501.0 298.2 501.0 298.5 501.0 298.8 500.9 299.0 500.9 299.2 500.9 299.5 500.9 299.8 500.9 300.0 500.9 300.2 500.9 300.5 500.9 300.8 500.9 301.0 500.9 301.2 500.9 301.5 500.9 301.8 500.9 302.0 500.9 302.2 500.9 302.5 500.9 302.8 500.9 303.0 501.0 303.2 501.0 303.5 501.0 303.8 501.0 304.0 501.0 304.2 501.0 304.5 501.0 304.8 501.1 305.0 501.1 305.2 501.1 305.5 501.1 305.8 501.2 306.0 501.2 306.2 501.2 306.5 501.3 306.8 501.3 307.0 501.3 307.2 501.3 307.5 501.4 307.8 501.4 308.0 501.5 308.2 501.5 308.5 501.5 308.8 501.6 309.0 501.6 309.2 501.7 309.5 501.7 309.8 501.8 310.0 501.8 310.2 501.9 310.5 501.9 310.8 502.0 311.0 502.0 311.2 502.1 311.5 502.1 311.8 502.2 312.0 502.2 312.2 502.3 312.5 502.3 312.8 502.4 313.0 502.5 313.2 502.5 313.5 502.6 313.8 502.7 314.0 502.7 314.2 502.8 314.5 502.9 314.8 502.9 315.0 503.0 315.2 503.1 315.5 503.2 315.8 503.2 316.0 503.3 316.2 503.4 316.5 503.5 316.8 503.6 317.0 503.6 317.2 503.7 317.5 503.8 317.8 503.9 318.0 504.0 318.2 504.1 318.5 504.1 318.8 504.2 319.0 504.3 319.2 504.4 319.5 504.5 319.8 504.6 320.0 504.7 320.2 504.8 320.5 504.9 320.8 505.0 321.0 505.1 321.2 505.2 321.5 505.3 321.8 505.4 322.0 505.5 322.2 505.6 322.5 505.7 322.8 505.8 323.0 505.9 323.2 506.0 323.5 506.1 323.8 506.2 324.0 506.3 324.2 506.4 324.5 506.6 324.8 506.7 325.0 506.8 325.2 506.9 325.5 507.0 325.8 507.1 326.0 507.2 326.2 507.4 326.5 507.5 326.8 507.6 327.0 507.7 327.2 507.8 327.5 508.0 327.8 508.1 328.0 508.2 328.2 508.3 328.5 508.5 328.8 508.6 329.0 508.7 329.2 508.8 329.5 509.0 329.8 509.1 330.0 509.2 330.2 509.3 330.5 509.5 330.8 509.6 331.0 509.7 331.2 509.9 331.5 510.0 331.8 510.1 332.0 510.3 332.2 510.4 332.5 510.5 332.8 510.7 333.0 510.8 333.2 511.0 333.5 511.1 333.8 511.2 334.0 511.4 334.2 511.5 334.5 511.6 334.8 511.8 335.0 511.9 335.2 512.1 335.5 512.2 335.8 512.3 336.0 512.5 336.2 512.6 336.5 512.8 336.8 512.9 337.0 513.1 337.2 513.2 337.5 513.4 337.8 513.5 338.0 513.6 338.2 513.8 338.5 513.9 338.8 514.1 339.0 514.2 339.2 514.4 339.5 514.5 339.8 514.7 340.0 514.8 340.2 515.0 340.5 515.1 340.8 515.3 341.0 515.4 341.2 515.6 341.5 515.7 341.8 515.9 342.0 516.0 342.2 516.2 342.5 516.3 342.8 516.5 343.0 516.6 343.2 516.8 343.5 516.9 343.8 517.1 344.0 517.2 344.2 517.4 344.5 517.5 344.8 517.7 345.0 517.8 345.2 517.9 345.5 518.1 345.8 518.2 346.0 518.4 346.2 518.5 346.5 518.7 346.8 518.8 347.0 519.0 347.2 519.1 347.5 519.3 347.8 519.4 348.0 519.6 348.2 519.7 348.5 519.9 348.8 520.0 349.0 520.2 349.2 520.3 349.5 520.5 349.8 520.6 350.0 520.8 350.2 520.9 350.5 521.1 350.8 521.2 351.0 521.4 351.2 521.5 351.5 521.7 351.8 521.8 352.0 522.0 352.2 522.1 352.5 522.2 352.8 522.4 353.0 522.5 353.2 522.7 353.5 522.8 353.8 523.0 354.0 523.1 354.2 523.3 354.5 523.4 354.8 523.5 355.0 523.7 355.2 523.8 355.5 524.0 355.8 524.1 356.0 524.2 356.2 524.4 356.5 524.5 356.8 524.6 357.0 524.8 357.2 524.9 357.5 525.1 357.8 525.2 358.0 525.3 358.2 525.5 358.5 525.6 358.8 525.7 359.0 525.9 359.2 526.0 359.5 526.1 359.8 526.2 360.0 526.4 360.2 526.5 360.5 526.6 360.8 526.8 361.0 526.9 361.2 527.0 361.5 527.1 361.8 527.3 362.0 527.4 362.2 527.5 362.5 527.6 362.8 527.8 363.0 527.9 363.2 528.0 363.5 528.1 363.8 528.2 364.0 528.4 364.2 528.5 364.5 528.6 364.8 528.7 365.0 528.8 365.2 528.9 365.5 529.0 365.8 529.2 366.0 529.3 366.2 529.4 366.5 529.5 366.8 529.6 367.0 529.7 367.2 529.8 367.5 529.9 367.8 530.0 368.0 530.1 368.2 530.2 368.5 530.3 368.8 530.4 369.0 530.5 369.2 530.6 369.5 530.7 369.8 530.8 370.0 530.9 370.2 531.0 370.5 531.1 370.8 531.2 371.0 531.3 371.2 531.4 371.5 531.5 371.8 531.5 372.0 531.6 372.2 531.7 372.5 531.8 372.8 531.9 373.0 532.0 373.2 532.0 373.5 532.1 373.8 532.2 374.0 532.3 374.2 532.4 374.5 532.4 374.8 532.5 375.0 532.6 375.2 532.7 375.5 532.7 375.8 532.8 376.0 532.9 376.2 532.9 376.5 533.0 376.8 533.1 377.0 533.1 377.2 533.2 377.5 533.3 377.8 533.3 378.0 533.4 378.2 533.4 378.5 533.5 378.8 533.5 379.0 533.6 379.2 533.6 379.5 533.7 379.8 533.7 380.0 533.8 380.2 533.8 380.5 533.9 380.8 533.9 381.0 534.0 381.2 534.0 381.5 534.1 381.8 534.1 382.0 534.1 382.2 534.2 382.5 534.2 382.8 534.3 383.0 534.3 383.2 534.3 383.5 534.3 383.8 534.4 384.0 534.4 384.2 534.4 384.5 534.5 384.8 534.5 385.0 534.5 385.2 534.5 385.5 534.6 385.8 534.6 386.0 534.6 386.2 534.6 386.5 534.6 386.8 534.6 387.0 534.6 387.2 534.7 387.5 534.7 387.8 534.7 388.0 534.7 388.2 534.7 388.5 534.7 388.8 534.7 389.0 534.7 389.2 534.7 389.5 534.7 389.8 534.7 390.0 534.7 390.2 534.7 390.5 534.7 390.8 534.7 391.0 534.7 391.2 534.7 391.5 534.6 391.8 534.6 392.0 534.6 392.2 534.6 392.5 534.6 392.8 534.6 393.0 534.6 393.2 534.5 393.5 534.5 393.8 534.5 394.0 534.5 394.2 534.4 394.5 534.4 394.8 534.4 395.0 534.3 395.2 534.3 395.5 534.3 395.8 534.3 396.0 534.2 396.2 534.2 396.5 534.1 396.8 534.1 397.0 534.1 397.2 534.0 397.5 534.0 397.8 533.9 398.0 533.9 398.2 533.8 398.5 533.8 398.8 533.7 399.0 533.7 399.2 533.6 399.5 533.6 399.8 533.5 400.0 533.5 400.2 533.4 400.5 533.4 400.8 533.3 401.0 533.3 401.2 533.2 401.5 533.1 401.8 533.1 402.0 533.0 402.2 532.9 402.5 532.9 402.8 532.8 403.0 532.7 403.2 532.7 403.5 532.6 403.8 532.5 404.0 532.4 404.2 532.4 404.5 532.3 404.8 532.2 405.0 532.1 405.2 532.0 405.5 532.0 405.8 531.9 406.0 531.8 406.2 531.7 406.5 531.6 406.8 531.5 407.0 531.5 407.2 531.4 407.5 531.3 407.8 531.2 408.0 531.1 408.2 531.0 408.5 530.9 408.8 530.8 409.0 530.7 409.2 530.6 409.5 530.5 409.8 530.4 410.0 530.3 410.2 530.2 410.5 530.1 410.8 530.0 411.0 529.9 411.2 529.8 411.5 529.7 411.8 529.6 412.0 529.5 412.2 529.4 412.5 529.3 412.8 529.2 413.0 529.0 413.2 528.9 413.5 528.8 413.8 528.7 414.0 528.6 414.2 528.5 414.5 528.4 414.8 528.2 415.0 528.1 415.2 528.0 415.5 527.9 415.8 527.8 416.0 527.6 416.2 527.5 416.5 527.4 416.8 527.3 417.0 527.1 417.2 527.0 417.5 526.9 417.8 526.8 418.0 526.6 418.2 526.5 418.5 526.4 418.8 526.2 419.0 526.1 419.2 526.0 419.5 525.9 419.8 525.7 420.0 525.6 420.2 525.5 420.5 525.3 420.8 525.2 421.0 525.1 421.2 524.9 421.5 524.8 421.8 524.6 422.0 524.5 422.2 524.4 422.5 524.2 422.8 524.1 423.0 524.0 423.2 523.8 423.5 523.7 423.8 523.5 424.0 523.4 424.2 523.3 424.5 523.1 424.8 523.0 425.0 522.8 425.2 522.7 425.5 522.5 425.8 522.4 426.0 522.2 426.2 522.1 426.5 522.0 426.8 521.8 427.0 521.7 427.2 521.5 427.5 521.4 427.8 521.2 428.0 521.1 428.2 520.9 428.5 520.8 428.8 520.6 429.0 520.5 429.2 520.3 429.5 520.2 429.8 520.0 430.0 519.9 430.2 519.7 430.5 519.6 430.8 519.4 431.0 519.3 431.2 519.1 431.5 519.0 431.8 518.8 432.0 518.7 432.2 518.5 432.5 518.4 432.8 518.2 433.0 518.1 433.2 517.9 433.5 517.8 433.8 517.7 434.0 517.5 434.2 517.4 434.5 517.2 434.8 517.1 435.0 516.9 435.2 516.8 435.5 516.6 435.8 516.5 436.0 516.3 436.2 516.2 436.5 516.0 436.8 515.9 437.0 515.7 437.2 515.6 437.5 515.4 437.8 515.3 438.0 515.1 438.2 515.0 438.5 514.8 438.8 514.7 439.0 514.5 439.2 514.4 439.5 514.2 439.8 514.1 440.0 513.9 440.2 513.8 440.5 513.6 440.8 513.5 441.0 513.4 441.2 513.2 441.5 513.1 441.8 512.9 442.0 512.8 442.2 512.6 442.5 512.5 442.8 512.3 443.0 512.2 443.2 512.1 443.5 511.9 443.8 511.8 444.0 511.6 444.2 511.5 444.5 511.4 444.8 511.2 445.0 511.1 445.2 511.0 445.5 510.8 445.8 510.7 446.0 510.5 446.2 510.4 446.5 510.3 446.8 510.1 447.0 510.0 447.2 509.9 447.5 509.7 447.8 509.6 448.0 509.5 448.2 509.3 448.5 509.2 448.8 509.1 449.0 509.0 449.2 508.8 449.5 508.7 449.8 508.6 450.0 508.5 450.2 508.3 450.5 508.2 450.8 508.1 451.0 508.0 451.2 507.8 451.5 507.7 451.8 507.6 452.0 507.5 452.2 507.4 452.5 507.2 452.8 507.1 453.0 507.0 453.2 506.9 453.5 506.8 453.8 506.7 454.0 506.6 454.2 506.4 454.5 506.3 454.8 506.2 455.0 506.1 455.2 506.0 455.5 505.9 455.8 505.8 456.0 505.7 456.2 505.6 456.5 505.5 456.8 505.4 457.0 505.3 457.2 505.2 457.5 505.1 457.8 505.0 458.0 504.9 458.2 504.8 458.5 504.7 458.8 504.6 459.0 504.5 459.2 504.4 459.5 504.3 459.8 504.2 460.0 504.1 460.2 504.1 460.5 504.0 460.8 503.9 461.0 503.8 461.2 503.7 461.5 503.6 461.8 503.6 462.0 503.5 462.2 503.4 462.5 503.3 462.8 503.2 463.0 503.2 463.2 503.1 463.5 503.0 463.8 502.9 464.0 502.9 464.2 502.8 464.5 502.7 464.8 502.7 465.0 502.6 465.2 502.5 465.5 502.5 465.8 502.4 466.0 502.3 466.2 502.3 466.5 502.2 466.8 502.2 467.0 502.1 467.2 502.1 467.5 502.0 467.8 502.0 468.0 501.9 468.2 501.9 468.5 501.8 468.8 501.8 469.0 501.7 469.2 501.7 469.5 501.6 469.8 501.6 470.0 501.5 470.2 501.5 470.5 501.5 470.8 501.4 471.0 501.4 471.2 501.3 471.5 501.3 471.8 501.3 472.0 501.3 472.2 501.2 472.5 501.2 472.8 501.2 473.0 501.1 473.2 501.1 473.5 501.1 473.8 501.1 474.0 501.0 474.2 501.0 474.5 501.0 474.8 501.0 475.0 501.0 475.2 501.0 475.5 501.0 475.8 500.9 476.0 500.9 476.2 500.9 476.5 500.9 476.8 500.9 477.0 500.9 477.2 500.9 477.5 500.9 477.8 500.9 478.0 500.9 478.2 500.9 478.5 500.9 478.8 500.9 479.0 500.9 479.2 500.9 479.5 500.9 479.8 500.9 480.0 501.0 480.2 501.0 480.5 501.0 480.8 501.0 481.0 501.0 481.2 501.0 481.5 501.0 481.8 501.1 482.0 501.1 482.2 501.1 482.5 501.1 482.8 501.2 483.0 501.2 483.2 501.2 483.5 501.3 483.8 501.3 484.0 501.3 484.2 501.3 484.5 501.4 484.8 501.4 485.0 501.5 485.2 501.5 485.5 501.5 485.8 501.6 486.0 501.6 486.2 501.7 486.5 501.7 486.8 501.8 487.0 501.8 487.2 501.9 487.5 501.9 487.8 502.0 488.0 502.0 488.2 502.1 488.5 502.1 488.8 502.2 489.0 502.2 489.2 502.3 489.5 502.3 489.8 502.4 490.0 502.5 490.2 502.5 490.5 502.6 490.8 502.7 491.0 502.7 491.2 502.8 491.5 502.9 491.8 502.9 492.0 503.0 492.2 503.1 492.5 503.2 492.8 503.2 493.0 503.3 493.2 503.4 493.5 503.5 493.8 503.6 494.0 503.6 494.2 503.7 494.5 503.8 494.8 503.9 495.0 504.0 495.2 504.1 495.5 504.1 495.8 504.2 496.0 504.3 496.2 504.4 496.5 504.5 496.8 504.6 497.0 504.7 497.2 504.8 497.5 504.9 497.8 505.0 498.0 505.1 498.2 505.2 498.5 505.3 498.8 505.4 499.0 505.5 499.2 505.6 499.5 505.7 499.8 505.8 500.0 505.9 500.2 506.0 500.5 506.1 500.8 506.2 501.0 506.3 501.2 506.4 501.5 506.6 501.8 506.7 502.0 506.8 502.2 506.9 502.5 507.0 502.8 507.1 503.0 507.2 503.2 507.4 503.5 507.5 503.8 507.6 504.0 507.7 504.2 507.8 504.5 508.0 504.8 508.1 505.0 508.2 505.2 508.3 505.5 508.5 505.8 508.6 506.0 508.7 506.2 508.8 506.5 509.0 506.8 509.1 507.0 509.2 507.2 509.3 507.5 509.5 507.8 509.6 508.0 509.7 508.2 509.9 508.5 510.0 508.8 510.1 509.0 510.3 509.2 510.4 509.5 510.5 509.8 510.7 510.0 510.8 510.2 511.0 510.5 511.1 510.8 511.2 511.0 511.4 511.2 511.5 511.5 511.6 511.8 511.8 512.0 511.9 512.2 512.1 512.5 512.2 512.8 512.3 513.0 512.5 513.2 512.6 513.5 512.8 513.8 512.9 514.0 513.1 514.2 513.2 514.5 513.4 514.8 513.5 515.0 513.6 515.2 513.8 515.5 513.9 515.8 514.1 516.0 514.2 516.2 514.4 516.5 514.5 516.8 514.7 517.0 514.8 517.2 515.0 517.5 515.1 517.8 515.3 518.0 515.4 518.2 515.6 518.5 515.7 518.8 515.9 519.0 516.0 519.2 516.2 519.5 516.3 519.8 516.5 520.0 516.6 520.2 516.8 520.5 516.9 520.8 517.1 521.0 517.2 521.2 517.4 521.5 517.5 521.8 517.7 522.0 517.8 522.2 517.9 522.5 518.1 522.8 518.2 523.0 518.4 523.2 518.5 523.5 518.7 523.8 518.8 524.0 519.0 524.2 519.1 524.5 519.3 524.8 519.4 525.0 519.6 525.2 519.7 525.5 519.9 525.8 520.0 526.0 520.2 526.2 520.3 526.5 520.5 526.8 520.6 527.0 520.8 527.2 520.9 527.5 521.1 527.8 521.2 528.0 521.4 528.2 521.5 528.5 521.7 528.8 521.8 529.0 522.0 529.2 522.1 529.5 522.2 529.8 522.4 530.0 522.5 530.2 522.7 530.5 522.8 530.8 523.0 531.0 523.1 531.2 523.3 531.5 523.4 531.8 523.5 532.0 523.7 532.2 523.8 532.5 524.0 532.8 524.1 533.0 524.2 533.2 524.4 533.5 524.5 533.8 524.6 534.0 524.8 534.2 524.9 534.5 525.1 534.8 525.2 535.0 525.3 535.2 525.5 535.5 525.6 535.8 525.7 536.0 525.9 536.2 526.0 536.5 526.1 536.8 526.2 537.0 526.4 537.2 526.5 537.5 526.6 537.8 526.8 538.0 526.9 538.2 527.0 538.5 527.1 538.8 527.3 539.0 527.4 539.2 527.5 539.5 527.6 539.8 527.8 540.0 527.9 540.2 528.0 540.5 528.1 540.8 528.2 541.0 528.4 541.2 528.5 541.5 528.6 541.8 528.7 542.0 528.8 542.2 528.9 542.5 529.0 542.8 529.2 543.0 529.3 543.2 529.4 543.5 529.5 543.8 529.6 544.0 529.7 544.2 529.8 544.5 529.9 544.8 530.0 545.0 530.1 545.2 530.2 545.5 530.3 545.8 530.4 546.0 530.5 546.2 530.6 546.5 530.7 546.8 530.8 547.0 530.9 547.2 531.0 547.5 531.1 547.8 531.2 548.0 531.3 548.2 531.4 548.5 531.5 548.8 531.5 549.0 531.6 549.2 531.7 549.5 531.8 549.8 531.9 550.0 532.0 550.2 532.0 550.5 532.1 550.8 532.2 551.0 532.3 551.2 532.4 551.5 532.4 551.8 532.5 552.0 532.6 552.2 532.7 552.5 532.7 552.8 532.8 553.0 532.9 553.2 532.9 553.5 533.0 553.8 533.1 554.0 533.1 554.2 533.2 554.5 533.3 554.8 533.3 555.0 533.4 555.2 533.4 555.5 533.5 555.8 533.5 556.0 533.6 556.2 533.6 556.5 533.7 556.8 533.7 557.0 533.8 557.2 533.8 557.5 533.9 557.8 533.9 558.0 534.0 558.2 534.0 558.5 534.1 558.8 534.1 559.0 534.1 559.2 534.2 559.5 534.2 559.8 534.3 560.0 534.3 560.2 534.3 560.5 534.3 560.8 534.4 561.0 534.4 561.2 534.4 561.5 534.5 561.8 534.5 562.0 534.5 562.2 534.5 562.5 534.6 562.8 534.6 563.0 534.6 563.2 534.6 563.5 534.6 563.8 534.6 564.0 534.6 564.2 534.7 564.5 534.7 564.8 534.7 565.0 534.7 565.2 534.7 565.5 534.7 565.8 534.7 566.0 534.7 566.2 534.7 566.5 534.7 566.8 534.7 567.0 534.7 567.2 534.7 567.5 534.7 567.8 534.7 568.0 534.7 568.2 534.7 568.5 534.6 568.8 534.6 569.0 534.6 569.2 534.6 569.5 534.6 569.8 534.6 570.0 534.6 570.2 534.5 570.5 534.5 570.8 534.5 571.0 534.5 571.2 534.4 571.5 534.4 571.8 534.4 572.0 534.3 572.2 534.3 572.5 534.3 572.8 534.3 573.0 534.2 573.2 534.2 573.5 534.1 573.8 534.1 574.0 534.1 574.2 534.0 574.5 534.0 574.8 533.9 575.0 533.9 575.2 533.8 575.5 533.8 575.8 533.7 576.0 533.7 576.2 533.6 576.5 533.6 576.8 533.5 577.0 533.5 577.2 533.4 577.5 533.4 577.8 533.3 578.0 533.3 578.2 533.2 578.5 533.1 578.8 533.1 579.0 533.0 579.2 532.9 579.5 532.9 579.8 532.8 580.0 532.7 580.2 532.7 580.5 532.6 580.8 532.5 581.0 532.4 581.2 532.4 581.5 532.3 581.8 532.2 582.0 532.1 582.2 532.0 582.5 532.0 582.8 531.9 583.0 531.8 583.2 531.7 583.5 531.6 583.8 531.5 584.0 531.5 584.2 531.4 584.5 531.3 584.8 531.2 585.0 531.1 585.2 531.0 585.5 530.9 585.8 530.8 586.0 530.7 586.2 530.6 586.5 530.5 586.8 530.4 587.0 530.3 587.2 530.2 587.5 530.1 587.8 530.0 588.0 529.9 588.2 529.8 588.5 529.7 588.8 529.6 589.0 529.5 589.2 529.4 589.5 529.3 589.8 529.2 590.0 529.0 590.2 528.9 590.5 528.8 590.8 528.7 591.0 528.6 591.2 528.5 591.5 528.4 591.8 528.2 592.0 528.1 592.2 528.0 592.5 527.9 592.8 527.8 593.0 527.6 593.2 527.5 593.5 527.4 593.8 527.3 594.0 527.1 594.2 527.0 594.5 526.9 594.8 526.8 595.0 526.6 595.2 526.5 595.5 526.4 595.8 526.2 596.0 526.1 596.2 526.0 596.5 525.9 596.8 525.7 597.0 525.6 597.2 525.5 597.5 525.3 597.8 525.2 598.0 525.1 598.2 524.9 598.5 524.8 598.8 524.6 599.0 524.5 599.2 524.4 599.5 524.2 599.8 524.1 600.0 524.0 600.2 523.8 600.5 523.7 600.8 523.5 601.0 523.4 601.2 523.3 601.5 523.1 601.8 523.0 602.0 522.8 602.2 522.7 602.5 522.5 602.8 522.4 603.0 522.2 603.2 522.1 603.5 522.0 603.8 521.8 604.0 521.7 604.2 521.5 604.5 521.4 604.8 521.2 605.0 521.1 605.2 520.9 605.5 520.8 605.8 520.6 606.0 520.5 606.2 520.3 606.5 520.2 606.8 520.0 607.0 519.9 607.2 519.7 607.5 519.6 607.8 519.4 608.0 519.3 608.2 519.1 608.5 519.0 608.8 518.8 609.0 518.7 609.2 518.5 609.5 518.4 609.8 518.2 610.0 518.1 610.2 517.9 610.5 517.8 610.8 517.7 611.0 517.5 611.2 517.4 611.5 517.2 611.8 517.1 612.0 516.9 612.2 516.8 612.5 516.6 612.8 516.5 613.0 516.3 613.2 516.2 613.5 516.0 613.8 515.9 614.0 515.7 614.2 515.6 614.5 515.4 614.8 515.3 615.0 515.1 615.2 515.0 615.5 514.8 615.8 514.7 616.0 514.5 616.2 514.4 616.5 514.2 616.8 514.1 617.0 513.9 617.2 513.8 617.5 513.6 617.8 513.5 618.0 513.4 618.2 513.2 618.5 513.1 618.8 512.9 619.0 512.8 619.2 512.6 619.5 512.5 619.8 512.3 620.0 512.2 620.2 512.1 620.5 511.9 620.8 511.8 621.0 511.6 621.2 511.5 621.5 511.4 621.8 511.2 622.0 511.1 622.2 511.0 622.5 510.8 622.8 510.7 623.0 510.5 623.2 510.4 623.5 510.3 623.8 510.1 624.0 510.0 624.2 509.9 624.5 509.7 624.8 509.6 625.0 509.5 625.2 509.3 625.5 509.2 625.8 509.1 626.0 509.0 626.2 508.8 626.5 508.7 626.8 508.6 627.0 508.5 627.2 508.3 627.5 508.2 627.8 508.1 628.0 508.0 628.2 507.8 628.5 507.7 628.8 507.6 629.0 507.5 629.2 507.4 629.5 507.2 629.8 507.1 630.0 507.0 630.2 506.9 630.5 506.8 630.8 506.7 631.0 506.6 631.2 506.4 631.5 506.3 631.8 506.2 632.0 506.1 632.2 506.0 632.5 505.9 632.8 505.8 633.0 505.7 633.2 505.6 633.5 505.5 633.8 505.4 634.0 505.3 634.2 505.2 634.5 505.1 634.8 505.0 635.0 504.9 635.2 504.8 635.5 504.7 635.8 504.6 636.0 504.5 636.2 504.4 636.5 504.3 636.8 504.2 637.0 504.1 637.2 504.1 637.5 504.0 637.8 503.9 638.0 503.8 638.2 503.7 638.5 503.6 638.8 503.6 639.0 503.5 639.2 503.4 639.5 503.3 639.8 503.2 640.0 503.2 640.2 503.1 640.5 503.0 640.8 502.9 641.0 502.9 641.2 502.8 641.5 502.7 641.8 502.7 642.0 502.6 642.2 502.5 642.5 502.5 642.8 502.4 643.0 502.3 643.2 502.3 643.5 502.2 643.8 502.2 644.0 502.1 644.2 502.1 644.5 502.0 644.8 502.0 645.0 501.9 645.2 501.9 645.5 501.8 645.8 501.8 646.0 501.7 646.2 501.7 646.5 501.6 646.8 501.6 647.0 501.5 647.2 501.5 647.5 501.5 647.8 501.4 648.0 501.4 648.2 501.3 648.5 501.3 648.8 501.3 649.0 501.3 649.2 501.2 649.5 501.2 649.8 501.2 650.0 501.1 650.2 501.1 650.5 501.1 650.8 501.1 651.0 501.0 651.2 501.0 651.5 501.0 651.8 501.0 652.0 501.0 652.2 501.0 652.5 501.0 652.8 500.9 653.0 500.9 653.2 500.9 653.5 500.9 653.8 500.9 654.0 500.9 654.2 500.9 654.5 500.9 654.8 500.9 655.0 500.9 655.2 500.9 655.5 500.9 655.8 500.9 656.0 500.9 656.2 500.9 656.5 500.9 656.8 500.9 657.0 501.0 657.2 501.0 657.5 501.0 657.8 501.0 658.0 501.0 658.2 501.0 658.5 501.0 658.8 501.1 659.0 501.1 659.2 501.1 659.5 501.1 659.8 501.2 660.0 501.2 660.2 501.2 660.5 501.3 660.8 501.3 661.0 501.3 661.2 501.3 661.5 501.4 661.8 501.4 662.0 501.5 662.2 501.5 662.5 501.5 662.8 501.6 663.0 501.6 663.2 501.7 663.5 501.7 663.8 501.8 664.0 501.8 664.2 501.9 664.5 501.9 664.8 502.0 665.0 502.0 665.2 502.1 665.5 502.1 665.8 502.2 666.0 502.2 666.2 502.3 666.5 502.3 666.8 502.4 667.0 502.5 667.2 502.5 667.5 502.6 667.8 502.7 668.0 502.7 668.2 502.8 668.5 502.9 668.8 502.9 669.0 503.0 669.2 503.1 669.5 503.2 669.8 503.2 670.0 503.3 670.2 503.4 670.5 503.5 670.8 503.6 671.0 503.6 671.2 503.7 671.5 503.8 671.8 503.9 672.0 504.0 672.2 504.1 672.5 504.1 672.8 504.2 673.0 504.3 673.2 504.4 673.5 504.5 673.8 504.6 674.0 504.7 674.2 504.8 674.5 504.9 674.8 505.0 675.0 505.1 675.2 505.2 675.5 505.3 675.8 505.4 676.0 505.5 676.2 505.6 676.5 505.7 676.8 505.8 677.0 505.9 677.2 506.0 677.5 506.1 677.8 506.2 678.0 506.3 678.2 506.4 678.5 506.6 678.8 506.7 679.0 506.8 679.2 506.9 679.5 507.0 679.8 507.1 680.0 507.2 680.2 507.4 680.5 507.5 680.8 507.6 681.0 507.7 681.2 507.8 681.5 508.0 681.8 508.1 682.0 508.2 682.2 508.3 682.5 508.5 682.8 508.6 683.0 508.7 683.2 508.8 683.5 509.0 683.8 509.1 684.0 509.2 684.2 509.3 684.5 509.5 684.8 509.6 685.0 509.7 685.2 509.9 685.5 510.0 685.8 510.1 686.0 510.3 686.2 510.4 686.5 510.5 686.8 510.7 687.0 510.8 687.2 511.0 687.5 511.1 687.8 511.2 688.0 511.4 688.2 511.5 688.5 511.6 688.8 511.8 689.0 511.9 689.2 512.1 689.5 512.2 689.8 512.3 690.0 512.5 690.2 512.6 690.5 512.8 690.8 512.9 691.0 513.1 691.2 513.2 691.5 513.4 691.8 513.5 692.0 513.6 692.2 513.8 692.5 513.9 692.8 514.1 693.0 514.2 693.2 514.4 693.5 514.5 693.8 514.7 694.0 514.8 694.2 515.0 694.5 515.1 694.8 515.3 695.0 515.4 695.2 515.6 695.5 515.7 695.8 515.9 696.0 516.0 696.2 516.2 696.5 516.3 696.8 516.5 697.0 516.6 697.2 516.8 697.5 516.9 697.8 517.1 698.0 517.2 698.2 517.4 698.5 517.5 698.8 517.7 699.0 517.8 699.2 517.9 699.5 518.1 699.8 518.2 700.0 518.4 700.2 518.5 700.5 518.7 700.8 518.8 701.0 519.0 701.2 519.1 701.5 519.3 701.8 519.4 702.0 519.6 702.2 519.7 702.5 519.9 702.8 520.0 703.0 520.2 703.2 520.3 703.5 520.5 703.8 520.6 704.0 520.8 704.2 520.9 704.5 521.1 704.8 521.2 705.0 521.4 705.2 521.5 705.5 521.7 705.8 521.8 706.0 522.0 706.2 522.1 706.5 522.2 706.8 522.4 707.0 522.5 707.2 522.7 707.5 522.8 707.8 523.0 708.0 523.1 708.2 523.3 708.5 523.4 708.8 523.5 709.0 523.7 709.2 523.8 709.5 524.0 709.8 524.1 710.0 524.2 710.2 524.4 710.5 524.5 710.8 524.6 711.0 524.8 711.2 524.9 711.5 525.1 711.8 525.2 712.0 525.3 712.2 525.5 712.5 525.6 712.8 525.7 713.0 525.9 713.2 526.0 713.5 526.1 713.8 526.2 714.0 526.4 714.2 526.5 714.5 526.6 714.8 526.8 715.0 526.9 715.2 527.0 715.5 527.1 715.8 527.3 716.0 527.4 716.2 527.5 716.5 527.6 716.8 527.8 717.0 527.9 717.2 528.0 717.5 528.1 717.8 528.2 718.0 528.4 718.2 528.5 718.5 528.6 718.8 528.7 719.0 528.8 719.2 528.9 719.5 529.0 719.8 529.2 720.0 529.3 720.2 529.4 720.5 529.5 720.8 529.6 721.0 529.7 721.2 529.8 721.5 529.9 721.8 530.0 722.0 530.1 722.2 530.2 722.5 530.3 722.8 530.4 723.0 530.5 723.2 530.6 723.5 530.7 723.8 530.8 724.0 530.9 724.2 531.0 724.5 531.1 724.8 531.2 725.0 531.3 725.2 531.4 725.5 531.5 725.8 531.5 726.0 531.6 726.2 531.7 726.5 531.8 726.8 531.9 727.0 532.0 727.2 532.0 727.5 532.1 727.8 532.2 728.0 532.3 728.2 532.4 728.5 532.4 728.8 532.5 729.0 532.6 729.2 532.7 729.5 532.7 729.8 532.8 730.0 532.9 730.2 532.9 730.5 533.0 730.8 533.1 731.0 533.1 731.2 533.2 731.5 533.3 731.8 533.3 732.0 533.4 732.2 533.4 732.5 533.5 732.8 533.5 733.0 533.6 733.2 533.6 733.5 533.7 733.8 533.7 734.0 533.8 734.2 533.8 734.5 533.9 734.8 533.9 735.0 534.0 735.2 534.0 735.5 534.1 735.8 534.1 736.0 534.1 736.2 534.2 736.5 534.2 736.8 534.3 737.0 534.3 737.2 534.3 737.5 534.3 737.8 534.4 738.0 534.4 738.2 534.4 738.5 534.5 738.8 534.5 739.0 534.5 739.2 534.5 739.5 534.6 739.8 534.6 740.0 534.6 740.2 534.6 740.5 534.6 740.8 534.6 741.0 534.6 741.2 534.7 741.5 534.7 741.8 534.7 742.0 534.7 742.2 534.7 742.5 534.7 742.8 534.7 743.0 534.7 743.2 534.7 743.5 534.7 743.8 534.7 744.0 534.7 744.2 534.7 744.5 534.7 744.8 534.7 745.0 534.7 745.2 534.7 745.5 534.6 745.8 534.6 746.0 534.6 746.2 534.6 746.5 534.6 746.8 534.6 747.0 534.6 747.2 534.5 747.5 534.5 747.8 534.5 748.0 534.5 748.2 534.4 748.5 534.4 748.8 534.4 749.0 534.3 749.2 534.3 749.5 534.3 749.8 534.3 750.0 534.2 750.2 534.2 750.5 534.1 750.8 534.1 751.0 534.1 751.2 534.0 751.5 534.0 751.8 533.9 752.0 533.9 752.2 533.8 752.5 533.8 752.8 533.7 753.0 533.7 753.2 533.6 753.5 533.6 753.8 533.5 754.0 533.5 754.2 533.4 754.5 533.4 754.8 533.3 755.0 533.3 755.2 533.2 755.5 533.1 755.8 533.1 756.0 533.0 756.2 532.9 756.5 532.9 756.8 532.8 757.0 532.7 757.2 532.7 757.5 532.6 757.8 532.5 758.0 532.4 758.2 532.4 758.5 532.3 758.8 532.2 759.0 532.1 759.2 532.0 759.5 532.0 759.8 531.9 760.0 531.8 760.2 531.7 760.5 531.6 760.8 531.5 761.0 531.5 761.2 531.4 761.5 531.3 761.8 531.2 762.0 531.1" class="w" stroke="#111" stroke-width="2.6"/>
<path d="M54.0 551.8L54.1 551.6 54.2 551.4 54.3 551.2 54.4 551.0 54.5 550.8 54.6 550.6 54.7 550.4 54.8 550.2 54.9 549.9 55.0 549.7 55.1 549.5 55.2 549.2 55.3 549.0 55.4 548.7 55.5 548.5 55.6 548.2 55.7 548.0 55.8 547.7 55.9 547.4 56.0 547.2 56.1 546.9 56.2 546.6 56.3 546.2 56.4 545.7 56.5 545.3 56.6 544.8 56.7 544.4 56.8 543.9 56.9 543.5 57.0 543.0 57.1 542.6 57.2 542.2 57.3 541.8 57.4 541.3 57.5 540.9 57.6 540.5 57.7 540.1 57.8 539.7 57.9 539.3 58.0 538.8 58.1 538.4 58.2 538.0 58.3 537.6 58.4 537.2 58.5 536.9 58.6 536.6 58.7 536.3 58.8 536.0 58.9 535.7 59.0 535.4 59.1 535.1 59.2 534.8 59.3 534.5 59.4 534.1 59.5 533.8 59.6 533.5 59.7 533.2 59.8 532.8 59.9 532.5 60.0 532.1 60.1 531.8 60.2 531.5 60.3 531.1 60.4 530.8 60.5 530.4 60.6 530.1 60.7 529.7 60.8 529.3 60.9 528.9 61.0 528.5 61.1 528.1 61.2 527.7 61.3 527.3 61.4 526.9 61.5 526.5 61.6 526.1 61.7 525.7 61.8 525.3 61.9 525.0 62.0 524.6 62.1 524.2 62.2 523.8 62.3 523.4 62.4 523.1 62.5 522.7 62.6 522.3 62.7 521.9 62.8 521.6 62.9 521.2 63.0 520.8 63.1 520.5 63.2 520.1 63.3 519.7 63.4 519.3 63.5 519.0 63.6 518.6 63.7 518.2 63.8 517.8 63.9 517.4 64.0 517.1 64.1 516.7 64.2 516.3 64.3 515.9 64.4 515.5 64.5 515.2 64.6 514.8 64.7 514.4 64.8 514.0 64.9 513.6 65.0 513.2 65.1 512.8 65.2 512.5 65.3 512.1 65.4 511.7 65.5 511.4 65.6 511.0 65.7 510.6 65.8 510.3 65.9 509.9 66.0 509.5 66.1 509.2 66.2 508.8 66.3 508.5 66.4 508.1 66.5 507.8 66.6 507.4 66.7 507.1 66.8 506.8 66.9 506.4 67.0 506.1 67.1 505.8 67.2 505.4 67.3 505.1 67.4 504.7 67.5 504.3 67.6 503.9 67.7 503.5 67.8 503.1 67.9 502.8 68.0 502.4 68.1 502.0 68.2 501.6 68.3 501.2 68.4 500.7 68.5 500.3 68.6 499.9 68.7 499.5 68.8 499.1 68.9 498.7 69.0 498.3 69.1 497.8 69.2 497.4 69.3 497.0 69.4 496.5 69.5 496.1 69.6 495.8 69.7 495.5 69.8 495.2 69.9 494.9 70.0 494.6 70.1 494.3 70.2 494.0 70.3 493.7 70.4 493.4 70.5 493.2 70.6 492.9 70.7 492.6 70.8 492.3 70.9 492.1 71.0 491.8 71.1 491.5 71.2 491.3 71.3 491.0 71.4 490.8 71.5 490.6 71.6 490.3 71.7 490.1 71.8 489.7 71.9 489.2 72.0 488.8 72.1 488.4 72.2 487.9 72.3 487.5 72.4 487.0 72.5 486.6 72.6 486.1 72.7 485.7 72.8 485.2 72.9 484.8 73.0 484.3 73.1 483.8 73.2 483.4 73.3 482.9 73.4 482.4 73.5 481.9 73.6 481.4 73.7 481.0 73.8 480.5 73.9 480.0 74.0 479.7 74.1 479.5 74.2 479.3 74.3 479.1 74.4 478.9 74.5 478.7 74.6 478.5 74.7 478.3 74.8 478.1 74.9 477.9 75.0 477.8 75.1 477.6 75.2 477.4 75.3 477.3 75.4 477.1 75.5 477.0 75.6 476.8 75.7 476.7 75.8 476.5 75.9 476.4 76.0 476.3 76.1 476.2 76.2 475.8 76.3 475.3 76.4 474.8 76.5 474.3 76.6 473.8 76.7 473.3 76.8 472.8 76.9 472.3 77.0 471.8 77.1 471.3 77.2 470.8 77.3 470.2 77.4 469.7 77.5 469.2 77.6 468.6 77.7 468.1 77.8 467.6 77.9 467.0 78.0 466.5 78.1 465.9 78.2 465.4 78.3 464.8 78.4 464.5 78.5 464.4 78.6 464.3 78.7 464.2 78.8 464.1 78.9 464.0 79.0 464.0 79.1 463.9 79.2 463.8 79.3 463.8 79.4 463.7 79.5 463.7 79.6 463.6 79.7 463.6 79.8 463.6 79.9 463.5 80.0 463.5 80.1 463.5 80.2 463.5 80.3 463.5 80.4 463.5 80.5 463.5 80.6 463.3 80.7 462.7 80.8 462.2 80.9 461.6 81.0 461.1 81.1 460.5 81.2 459.9 81.3 459.4 81.4 458.8 81.5 458.2 81.6 457.6 81.7 457.0 81.8 456.5 81.9 455.9 82.0 455.3 82.1 454.7 82.2 454.1 82.3 453.5 82.4 452.9 82.5 452.2 82.6 451.6 82.7 451.0 82.8 450.5 82.9 450.6 83.0 450.6 83.1 450.6 83.2 450.7 83.3 450.7 83.4 450.8 83.5 450.8 83.6 450.9 83.7 451.0 83.8 451.1 83.9 451.1 84.0 451.2 84.1 451.3 84.2 451.4 84.3 451.5 84.4 451.6 84.5 451.7 84.6 451.8 84.7 452.0 84.8 452.1 84.9 452.2 85.0 452.3 85.1 451.7 85.2 451.1 85.3 450.5 85.4 449.9 85.5 449.3 85.6 448.6 85.7 448.0 85.8 447.4 85.9 446.7 86.0 446.1 86.1 445.5 86.2 444.8 86.3 444.2 86.4 443.5 86.5 442.9 86.6 442.2 86.7 441.6 86.8 440.9 86.9 440.2 87.0 439.6 87.1 438.9 87.2 438.2 87.3 438.3 87.4 438.5 87.5 438.7 87.6 438.8 87.7 439.0 87.8 439.2 87.9 439.4 88.0 439.6 88.1 439.8 88.2 440.0 88.3 440.2 88.4 440.4 88.5 440.7 88.6 440.9 88.7 441.1 88.8 441.3 88.9 441.6 89.0 441.8 89.1 442.1 89.2 442.3 89.3 442.6 89.4 442.9 89.5 442.4 89.6 441.8 89.7 441.1 89.8 440.5 89.9 439.8 90.0 439.1 90.1 438.5 90.2 437.8 90.3 437.1 90.4 436.4 90.5 435.7 90.6 435.1 90.7 434.4 90.8 433.7 90.9 433.0 91.0 432.3 91.1 431.6 91.2 430.9 91.3 430.2 91.4 429.5 91.5 428.8 91.6 428.1 91.7 428.0 91.8 428.3 91.9 428.6 92.0 428.9 92.1 429.2 92.2 429.5 92.3 429.8 92.4 430.1 92.5 430.5 92.6 430.8 92.7 431.1 92.8 431.5 92.9 431.8 93.0 432.2 93.1 432.5 93.2 432.9 93.3 433.3 93.4 433.6 93.5 434.0 93.6 434.4 93.7 434.8 93.8 435.1 93.9 435.0 94.0 434.4 94.1 433.7 94.2 433.0 94.3 432.3 94.4 431.6 94.5 430.9 94.6 430.2 94.7 429.5 94.8 428.8 94.9 428.1 95.0 427.4 95.1 426.6 95.2 425.9 95.3 425.2 95.4 424.5 95.5 423.8 95.6 423.1 95.7 422.3 95.8 421.6 95.9 420.9 96.0 420.2 96.1 419.8 96.2 420.2 96.3 420.6 96.4 421.0 96.5 421.5 96.6 421.9 96.7 422.3 96.8 422.8 96.9 423.2 97.0 423.7 97.1 424.1 97.2 424.6 97.3 425.0 97.4 425.5 97.5 426.0 97.6 426.4 97.7 426.9 97.8 427.4 97.9 427.9 98.0 428.3 98.1 428.8 98.2 429.3 98.3 429.6 98.4 428.9 98.5 428.2 98.6 427.5 98.7 426.8 98.8 426.1 98.9 425.4 99.0 424.7 99.1 424.0 99.2 423.3 99.3 422.6 99.4 421.8 99.5 421.1 99.6 420.4 99.7 419.7 99.8 419.0 99.9 418.3 100.0 417.6 100.1 416.8 100.2 416.1 100.3 415.4 100.4 414.7 100.5 414.0 100.6 414.5 100.7 415.0 100.8 415.5 100.9 416.1 101.0 416.6 101.1 417.1 101.2 417.7 101.3 418.2 101.4 418.8 101.5 419.3 101.6 419.9 101.7 420.4 101.8 421.0 101.9 421.5 102.0 422.1 102.1 422.7 102.2 423.2 102.3 423.8 102.4 424.4 102.5 424.9 102.6 425.5 102.7 426.1 102.8 425.6 102.9 424.9 103.0 424.2 103.1 423.5 103.2 422.8 103.3 422.1 103.4 421.4 103.5 420.7 103.6 420.0 103.7 419.3 103.8 418.6 103.9 418.0 104.0 417.3 104.1 416.6 104.2 415.9 104.3 415.2 104.4 414.5 104.5 413.8 104.6 413.1 104.7 412.4 104.8 411.7 104.9 411.0 105.0 411.2 105.1 411.9 105.2 412.5 105.3 413.1 105.4 413.7 105.5 414.3 105.6 414.9 105.7 415.6 105.8 416.2 105.9 416.8 106.0 417.4 106.1 418.1 106.2 418.7 106.3 419.3 106.4 420.0 106.5 420.6 106.6 421.2 106.7 421.9 106.8 422.5 106.9 423.2 107.0 423.8 107.1 424.4 107.2 424.4 107.3 423.7 107.4 423.0 107.5 422.4 107.6 421.7 107.7 421.1 107.8 420.4 107.9 419.8 108.0 419.1 108.1 418.4 108.2 417.8 108.3 417.1 108.4 416.5 108.5 415.8 108.6 415.2 108.7 414.6 108.8 413.9 108.9 413.3 109.0 412.6 109.1 412.0 109.2 411.4 109.3 410.7 109.4 410.6 109.5 411.3 109.6 412.0 109.7 412.6 109.8 413.3 109.9 414.0 110.0 414.7 110.1 415.3 110.2 416.0 110.3 416.7 110.4 417.4 110.5 418.1 110.6 418.7 110.7 419.4 110.8 420.1 110.9 420.8 111.0 421.5 111.1 422.2 111.2 422.8 111.3 423.5 111.4 424.2 111.5 424.9 111.6 425.3 111.7 424.7 111.8 424.1 111.9 423.5 112.0 422.9 112.1 422.3 112.2 421.7 112.3 421.1 112.4 420.5 112.5 419.9 112.6 419.3 112.7 418.7 112.8 418.1 112.9 417.6 113.0 417.0 113.1 416.4 113.2 415.8 113.3 415.3 113.4 414.7 113.5 414.1 113.6 413.6 113.7 413.0 113.8 412.6 113.9 413.3 114.0 414.0 114.1 414.7 114.2 415.4 114.3 416.1 114.4 416.9 114.5 417.6 114.6 418.3 114.7 419.0 114.8 419.7 114.9 420.4 115.0 421.1 115.1 421.8 115.2 422.5 115.3 423.2 115.4 423.9 115.5 424.7 115.6 425.4 115.7 426.1 115.8 426.8 115.9 427.5 116.0 428.2 116.1 427.7 116.2 427.2 116.3 426.7 116.4 426.1 116.5 425.6 116.6 425.1 116.7 424.6 116.8 424.1 116.9 423.6 117.0 423.1 117.1 422.6 117.2 422.1 117.3 421.6 117.4 421.1 117.5 420.7 117.6 420.2 117.7 419.7 117.8 419.2 117.9 418.8 118.0 418.3 118.1 417.8 118.2 417.4 118.3 417.9 118.4 418.6 118.5 419.3 118.6 420.1 118.7 420.8 118.8 421.5 118.9 422.2 119.0 422.9 119.1 423.7 119.2 424.4 119.3 425.1 119.4 425.8 119.5 426.5 119.6 427.2 119.7 427.9 119.8 428.6 119.9 429.3 120.0 430.0 120.1 430.7 120.2 431.4 120.3 432.1 120.4 432.8 120.5 432.8 120.6 432.4 120.7 432.0 120.8 431.5 120.9 431.1 121.0 430.7 121.1 430.3 121.2 429.9 121.3 429.5 121.4 429.1 121.5 428.7 121.6 428.4 121.7 428.0 121.8 427.6 121.9 427.2 122.0 426.9 122.1 426.5 122.2 426.1 122.3 425.8 122.4 425.4 122.5 425.1 122.6 424.7 122.7 424.9 122.8 425.7 122.9 426.4 123.0 427.1 123.1 427.8 123.2 428.5 123.3 429.2 123.4 429.9 123.5 430.6 123.6 431.3 123.7 432.0 123.8 432.7 123.9 433.4 124.0 434.1 124.1 434.8 124.2 435.5 124.3 436.1 124.4 436.8 124.5 437.5 124.6 438.2 124.7 438.9 124.8 439.5 124.9 439.8 125.0 439.5 125.1 439.2 125.2 438.9 125.3 438.6 125.4 438.3 125.5 438.1 125.6 437.8 125.7 437.5 125.8 437.2 125.9 437.0 126.0 436.7 126.1 436.4 126.2 436.2 126.3 435.9 126.4 435.7 126.5 435.5 126.6 435.2 126.7 435.0 126.8 434.8 126.9 434.5 127.0 434.3 127.1 434.3 127.2 435.0 127.3 435.7 127.4 436.4 127.5 437.0 127.6 437.7 127.7 438.4 127.8 439.1 127.9 439.7 128.0 440.4 128.1 441.0 128.2 441.7 128.3 442.4 128.4 443.0 128.5 443.7 128.6 444.3 128.7 445.0 128.8 445.6 128.9 446.2 129.0 446.9 129.1 447.5 129.2 448.1 129.3 448.7 129.4 448.5 129.5 448.4 129.6 448.2 129.7 448.0 129.8 447.8 129.9 447.7 130.0 447.5 130.1 447.4 130.2 447.2 130.3 447.1 130.4 447.0 130.5 446.8 130.6 446.7 130.7 446.6 130.8 446.5 130.9 446.4 131.0 446.3 131.1 446.2 131.2 446.1 131.3 446.0 131.4 445.9 131.5 445.8 131.6 446.4 131.7 447.0 131.8 447.7 131.9 448.3 132.0 448.9 132.1 449.6 132.2 450.2 132.3 450.8 132.4 451.4 132.5 452.0 132.6 452.6 132.7 453.2 132.8 453.8 132.9 454.4 133.0 455.0 133.1 455.6 133.2 456.2 133.3 456.8 133.4 457.4 133.5 458.0 133.6 458.5 133.7 459.1 133.8 459.2 133.9 459.2 134.0 459.1 134.1 459.1 134.2 459.0 134.3 459.0 134.4 459.0 134.5 459.0 134.6 459.0 134.7 458.9 134.8 458.9 134.9 458.9 135.0 459.0 135.1 459.0 135.2 459.0 135.3 459.0 135.4 459.0 135.5 459.1 135.6 459.1 135.7 459.1 135.8 459.2 135.9 459.2 136.0 459.6 136.1 460.2 136.2 460.8 136.3 461.3 136.4 461.9 136.5 462.5 136.6 463.1 136.7 463.6 136.8 464.2 136.9 464.7 137.0 465.3 137.1 465.8 137.2 466.4 137.3 466.9 137.4 467.4 137.5 468.0 137.6 468.5 137.7 469.0 137.8 469.5 137.9 470.0 138.0 470.6 138.1 471.1 138.2 471.4 138.3 471.5 138.4 471.5 138.5 471.6 138.6 471.7 138.7 471.8 138.8 471.9 138.9 472.0 139.0 472.1 139.1 472.3 139.2 472.4 139.3 472.5 139.4 472.6 139.5 472.8 139.6 472.9 139.7 473.1 139.8 473.2 139.9 473.4 140.0 473.5 140.1 473.7 140.2 473.9 140.3 474.0 140.4 474.3 140.5 474.8 140.6 475.4 140.7 475.9 140.8 476.4 140.9 476.9 141.0 477.4 141.1 477.9 141.2 478.4 141.3 478.9 141.4 479.3 141.5 479.8 141.6 480.3 141.7 480.8 141.8 481.3 141.9 481.7 142.0 482.2 142.1 482.7 142.2 483.1 142.3 483.6 142.4 484.0 142.5 484.5 142.6 484.9 142.7 485.1 142.8 485.3 142.9 485.5 143.0 485.7 143.1 485.9 143.2 486.1 143.3 486.3 143.4 486.6 143.5 486.8 143.6 487.0 143.7 487.3 143.8 487.5 143.9 487.8 144.0 488.0 144.1 488.3 144.2 488.5 144.3 488.8 144.4 489.1 144.5 489.3 144.6 489.6 144.7 489.9 144.8 490.2 144.9 490.6 145.0 491.1 145.1 491.5 145.2 492.0 145.3 492.4 145.4 492.8 145.5 493.3 145.6 493.7 145.7 494.1 145.8 494.6 145.9 495.0 146.0 495.4 146.1 495.8 146.2 496.3 146.3 496.7 146.4 497.1 146.5 497.5 146.6 497.9 146.7 498.3 146.8 498.7 146.9 499.1 147.0 499.5 147.1 499.8 147.2 500.1 147.3 500.4 147.4 500.7 147.5 501.0 147.6 501.3 147.7 501.7 147.8 502.0 147.9 502.3 148.0 502.6 148.1 502.9 148.2 503.3 148.3 503.6 148.4 503.9 148.5 504.3 148.6 504.6 148.7 505.0 148.8 505.3 148.9 505.7 149.0 506.0 149.1 506.4 149.2 506.7 149.3 507.1 149.4 507.5 149.5 507.9 149.6 508.3 149.7 508.7 149.8 509.1 149.9 509.5 150.0 509.9 150.1 510.3 150.2 510.7 150.3 511.0 150.4 511.4 150.5 511.8 150.6 512.2 150.7 512.6 150.8 512.9 150.9 513.3 151.0 513.7 151.1 514.1 151.2 514.5 151.3 514.8 151.4 515.2 151.5 515.6 151.6 515.9 151.7 516.3 151.8 516.7 151.9 517.1 152.0 517.4 152.1 517.8 152.2 518.2 152.3 518.6 152.4 519.0 152.5 519.3 152.6 519.7 152.7 520.1 152.8 520.5 152.9 520.9 153.0 521.2 153.1 521.6 153.2 522.0 153.3 522.4 153.4 522.8 153.5 523.2 153.6 523.6 153.7 523.9 153.8 524.3 153.9 524.7 154.0 525.1 154.1 525.4 154.2 525.8 154.3 526.2 154.4 526.5 154.5 526.9 154.6 527.2 154.7 527.6 154.8 527.9 154.9 528.3 155.0 528.6 155.1 529.0 155.2 529.3 155.3 529.7 155.4 530.0 155.5 530.3 155.6 530.7 155.7 531.0 155.8 531.3 155.9 531.7 156.0 532.0 156.1 532.4 156.2 532.8 156.3 533.2 156.4 533.6 156.5 534.0 156.6 534.4 156.7 534.8 156.8 535.2 156.9 535.6 157.0 536.0 157.1 536.4 157.2 536.8 157.3 537.3 157.4 537.7 157.5 538.1 157.6 538.5 157.7 538.9 157.8 539.4 157.9 539.8 158.0 540.2 158.1 540.6 158.2 541.0 158.3 541.3 158.4 541.6 158.5 541.9 158.6 542.2 158.7 542.5 158.8 542.8 158.9 543.0 159.0 543.3 159.1 543.6 159.2 543.9 159.3 544.1 159.4 544.4 159.5 544.7 159.6 544.9 159.7 545.2 159.8 545.4 159.9 545.7 160.0 545.9 160.1 546.2 160.2 546.4 160.3 546.6 160.4 547.1 160.5 547.5 160.6 547.9 160.7 548.4 160.8 548.8 160.9 549.2 161.0 549.7 161.1 550.1 161.2 550.6 161.3 551.1 161.4 551.5 161.5 552.0 161.6 552.4 161.7 552.9 161.8 553.4 161.9 553.9 162.0 554.3 162.1 554.8 162.2 555.3 162.3 555.8 162.4 556.3 162.5 556.8 162.6 557.1 162.7 557.3 162.8 557.5 162.9 557.7 163.0 557.9 163.1 558.1 163.2 558.3 163.3 558.4 163.4 558.6 163.5 558.8 163.6 559.0 163.7 559.1 163.8 559.3 163.9 559.5 164.0 559.6 164.1 559.8 164.2 559.9 164.3 560.0 164.4 560.2 164.5 560.3 164.6 560.4 164.7 560.6 164.8 560.9 164.9 561.4 165.0 561.9 165.1 562.4 165.2 562.9 165.3 563.4 165.4 563.9 165.5 564.4 165.6 564.9 165.7 565.4 165.8 566.0 165.9 566.5 166.0 567.0 166.1 567.5 166.2 568.1 166.3 568.6 166.4 569.2 166.5 569.7 166.6 570.2 166.7 570.8 166.8 571.4 166.9 571.9 167.0 572.2 167.1 572.3 167.2 572.4 167.3 572.5 167.4 572.6 167.5 572.7 167.6 572.7 167.7 572.8 167.8 572.9 167.9 572.9 168.0 573.0 168.1 573.0 168.2 573.1 168.3 573.1 168.4 573.1 168.5 573.2 168.6 573.2 168.7 573.2 168.8 573.2 168.9 573.2 169.0 573.2 169.1 573.2 169.2 573.4 169.3 573.9 169.4 574.5 169.5 575.1 169.6 575.6 169.7 576.2 169.8 576.7 169.9 577.3 170.0 577.9 170.1 578.5 170.2 579.1 170.3 579.6 170.4 580.2 170.5 580.8 170.6 581.4 170.7 582.0 170.8 582.6 170.9 583.2 171.0 583.8 171.1 584.4 171.2 585.1 171.3 585.7 171.4 586.2 171.5 586.1 171.6 586.1 171.7 586.1 171.8 586.0 171.9 586.0 172.0 585.9 172.1 585.8 172.2 585.8 172.3 585.7 172.4 585.6 172.5 585.5 172.6 585.4 172.7 585.4 172.8 585.3 172.9 585.1 173.0 585.0 173.1 584.9 173.2 584.8 173.3 584.7 173.4 584.5 173.5 584.4 173.6 584.3 173.7 584.9 173.8 585.5 173.9 586.1 174.0 586.8 174.1 587.4 174.2 588.0 174.3 588.6 174.4 589.3 174.5 589.9 174.6 590.5 174.7 591.2 174.8 591.8 174.9 592.5 175.0 593.1 175.1 593.8 175.2 594.4 175.3 595.1 175.4 595.7 175.5 596.4 175.6 597.1 175.7 597.7 175.8 598.4 175.9 598.3 176.0 598.2 176.1 598.0 176.2 597.8 176.3 597.6 176.4 597.4 176.5 597.2 176.6 597.0 176.7 596.8 176.8 596.6 176.9 596.4 177.0 596.2 177.1 596.0 177.2 595.7 177.3 595.5 177.4 595.3 177.5 595.0 177.6 594.8 177.7 594.5 177.8 594.3 177.9 594.0 178.0 593.7 178.1 594.2 178.2 594.8 178.3 595.5 178.4 596.1 178.5 596.8 178.6 597.5 178.7 598.1 178.8 598.8 178.9 599.5 179.0 600.2 179.1 600.9 179.2 601.5 179.3 602.2 179.4 602.9 179.5 603.6 179.6 604.3 179.7 605.0 179.8 605.7 179.9 606.4 180.0 607.1 180.1 607.8 180.2 608.5 180.3 608.6 180.4 608.3 180.5 608.0 180.6 607.7 180.7 607.4 180.8 607.1 180.9 606.8 181.0 606.4 181.1 606.1 181.2 605.8 181.3 605.4 181.4 605.1 181.5 604.7 181.6 604.4 181.7 604.0 181.8 603.7 181.9 603.3 182.0 602.9 182.1 602.6 182.2 602.2 182.3 601.8 182.4 601.4 182.5 601.5 182.6 602.2 182.7 602.9 182.8 603.6 182.9 604.3 183.0 605.0 183.1 605.7 183.2 606.4 183.3 607.1 183.4 607.8 183.5 608.5 183.6 609.2 183.7 609.9 183.8 610.6 183.9 611.3 184.0 612.1 184.1 612.8 184.2 613.5 184.3 614.2 184.4 614.9 184.5 615.7 184.6 616.4 184.7 616.8 184.8 616.3 184.9 615.9 185.0 615.5 185.1 615.1 185.2 614.6 185.3 614.2 185.4 613.8 185.5 613.3 185.6 612.9 185.7 612.4 185.8 611.9 185.9 611.5 186.0 611.0 186.1 610.6 186.2 610.1 186.3 609.6 186.4 609.1 186.5 608.6 186.6 608.2 186.7 607.7 186.8 607.2 186.9 606.9 187.0 607.6 187.1 608.3 187.2 609.0 187.3 609.7 187.4 610.4 187.5 611.1 187.6 611.8 187.7 612.5 187.8 613.2 187.9 613.9 188.0 614.7 188.1 615.4 188.2 616.1 188.3 616.8 188.4 617.5 188.5 618.2 188.6 618.9 188.7 619.7 188.8 620.4 188.9 621.1 189.0 621.8 189.1 622.5 189.2 622.0 189.3 621.5 189.4 621.0 189.5 620.4 189.6 619.9 189.7 619.4 189.8 618.8 189.9 618.3 190.0 617.7 190.1 617.2 190.2 616.6 190.3 616.1 190.4 615.5 190.5 614.9 190.6 614.4 190.7 613.8 190.8 613.2 190.9 612.7 191.0 612.1 191.1 611.5 191.2 610.9 191.3 610.4 191.4 610.9 191.5 611.6 191.6 612.2 191.7 612.9 191.8 613.6 191.9 614.3 192.0 615.0 192.1 615.7 192.2 616.4 192.3 617.1 192.4 617.8 192.5 618.5 192.6 619.2 192.7 619.9 192.8 620.6 192.9 621.3 193.0 622.0 193.1 622.7 193.2 623.3 193.3 624.0 193.4 624.7 193.5 625.4 193.6 625.2 193.7 624.6 193.8 624.0 193.9 623.4 194.0 622.7 194.1 622.1 194.2 621.5 194.3 620.9 194.4 620.2 194.5 619.6 194.6 619.0 194.7 618.4 194.8 617.7 194.9 617.1 195.0 616.5 195.1 615.8 195.2 615.2 195.3 614.5 195.4 613.9 195.5 613.3 195.6 612.6 195.7 612.0 195.8 612.0 195.9 612.7 196.0 613.4 196.1 614.0 196.2 614.7 196.3 615.3 196.4 616.0 196.5 616.6 196.6 617.3 196.7 617.9 196.8 618.6 196.9 619.2 197.0 619.9 197.1 620.5 197.2 621.2 197.3 621.8 197.4 622.5 197.5 623.1 197.6 623.8 197.7 624.4 197.8 625.0 197.9 625.7 198.0 625.8 198.1 625.1 198.2 624.4 198.3 623.7 198.4 623.1 198.5 622.4 198.6 621.7 198.7 621.0 198.8 620.4 198.9 619.7 199.0 619.0 199.1 618.3 199.2 617.6 199.3 616.9 199.4 616.3 199.5 615.6 199.6 614.9 199.7 614.2 199.8 613.5 199.9 612.8 200.0 612.1 200.1 611.5 200.2 611.1 200.3 611.7 200.4 612.3 200.5 612.9 200.6 613.5 200.7 614.1 200.8 614.7 200.9 615.3 201.0 615.9 201.1 616.5 201.2 617.0 201.3 617.6 201.4 618.2 201.5 618.8 201.6 619.4 201.7 619.9 201.8 620.5 201.9 621.1 202.0 621.6 202.1 622.2 202.2 622.8 202.3 623.3 202.4 623.7 202.5 623.0 202.6 622.3 202.7 621.6 202.8 620.9 202.9 620.2 203.0 619.5 203.1 618.7 203.2 618.0 203.3 617.3 203.4 616.6 203.5 615.9 203.6 615.2 203.7 614.5 203.8 613.8 203.9 613.1 204.0 612.4 204.1 611.7 204.2 611.0 204.3 610.2 204.4 609.5 204.5 608.8 204.6 608.1 204.7 608.6 204.8 609.1 204.9 609.6 205.0 610.2 205.1 610.7 205.2 611.2 205.3 611.7 205.4 612.2 205.5 612.7 205.6 613.2 205.7 613.7 205.8 614.2 205.9 614.7 206.0 615.1 206.1 615.6 206.2 616.1 206.3 616.6 206.4 617.0 206.5 617.5 206.6 618.0 206.7 618.4 206.8 618.9 206.9 618.4 207.0 617.7 207.1 616.9 207.2 616.2 207.3 615.5 207.4 614.8 207.5 614.0 207.6 613.3 207.7 612.6 207.8 611.9 207.9 611.2 208.0 610.5 208.1 609.8 208.2 609.0 208.3 608.3 208.4 607.6 208.5 606.9 208.6 606.2 208.7 605.5 208.8 604.8 208.9 604.1 209.0 603.4 209.1 603.5 209.2 603.9 209.3 604.3 209.4 604.7 209.5 605.1 209.6 605.5 209.7 605.9 209.8 606.3 209.9 606.7 210.0 607.1 210.1 607.5 210.2 607.9 210.3 608.3 210.4 608.6 210.5 609.0 210.6 609.4 210.7 609.7 210.8 610.1 210.9 610.4 211.0 610.8 211.1 611.1 211.2 611.5 211.3 611.3 211.4 610.6 211.5 609.8 211.6 609.1 211.7 608.4 211.8 607.7 211.9 607.0 212.0 606.3 212.1 605.6 212.2 604.9 212.3 604.2 212.4 603.5 212.5 602.8 212.6 602.1 212.7 601.4 212.8 600.8 212.9 600.1 213.0 599.4 213.1 598.7 213.2 598.0 213.3 597.4 213.4 596.7 213.5 596.4 213.6 596.7 213.7 597.0 213.8 597.3 213.9 597.6 214.0 597.9 214.1 598.1 214.2 598.4 214.3 598.7 214.4 599.0 214.5 599.2 214.6 599.5 214.7 599.7 214.8 600.0 214.9 600.2 215.0 600.5 215.1 600.7 215.2 601.0 215.3 601.2 215.4 601.4 215.5 601.6 215.6 601.8 215.7 601.9 215.8 601.2 215.9 600.5 216.0 599.8 216.1 599.1 216.2 598.5 216.3 597.8 216.4 597.1 216.5 596.4 216.6 595.8 216.7 595.1 216.8 594.5 216.9 593.8 217.0 593.2 217.1 592.5 217.2 591.9 217.3 591.2 217.4 590.6 217.5 589.9 217.6 589.3 217.7 588.7 217.8 588.0 217.9 587.5 218.0 587.6 218.1 587.8 218.2 588.0 218.3 588.2 218.4 588.3 218.5 588.5 218.6 588.6 218.7 588.8 218.8 588.9 218.9 589.1 219.0 589.2 219.1 589.3 219.2 589.4 219.3 589.5 219.4 589.7 219.5 589.8 219.6 589.9 219.7 590.0 219.8 590.0 219.9 590.1 220.0 590.2 220.1 590.3 220.2 589.7 220.3 589.1 220.4 588.4 220.5 587.8 220.6 587.2 220.7 586.6 220.8 585.9 220.9 585.3 221.0 584.7 221.1 584.1 221.2 583.5 221.3 582.9 221.4 582.3 221.5 581.7 221.6 581.1 221.7 580.5 221.8 579.9 221.9 579.3 222.0 578.8 222.1 578.2 222.2 577.6 222.3 577.0 222.4 576.9 222.5 577.0 222.6 577.0 222.7 577.1 222.8 577.1 222.9 577.1 223.0 577.1 223.1 577.2 223.2 577.2 223.3 577.2 223.4 577.2 223.5 577.2 223.6 577.2 223.7 577.1 223.8 577.1 223.9 577.1 224.0 577.1 224.1 577.0 224.2 577.0 224.3 576.9 224.4 576.9 224.5 576.8 224.6 576.5 224.7 575.9 224.8 575.3 224.9 574.7 225.0 574.2 225.1 573.6 225.2 573.0 225.3 572.5 225.4 571.9 225.5 571.4 225.6 570.8 225.7 570.3 225.8 569.7 225.9 569.2 226.0 568.7 226.1 568.1 226.2 567.6 226.3 567.1 226.4 566.6 226.5 566.1 226.6 565.5 226.7 565.0 226.8 564.7 226.9 564.6 227.0 564.6 227.1 564.5 227.2 564.4 227.3 564.3 227.4 564.2 227.5 564.1 227.6 563.9 227.7 563.8 227.8 563.7 227.9 563.6 228.0 563.4 228.1 563.3 228.2 563.1 228.3 563.0 228.4 562.8 228.5 562.7 228.6 562.5 228.7 562.4 228.8 562.2 228.9 562.0 229.0 561.7 229.1 561.2 229.2 560.7 229.3 560.2 229.4 559.7 229.5 559.2 229.6 558.7 229.7 558.2 229.8 557.7 229.9 557.2 230.0 556.7 230.1 556.2 230.2 555.8 230.3 555.3 230.4 554.8 230.5 554.3 230.6 553.9 230.7 553.4 230.8 553.0 230.9 552.5 231.0 552.1 231.1 551.6 231.2 551.2 231.3 551.0 231.4 550.8 231.5 550.6 231.6 550.4 231.7 550.2 231.8 549.9 231.9 549.7 232.0 549.5 232.1 549.3 232.2 549.0 232.3 548.8 232.4 548.5 232.5 548.3 232.6 548.0 232.7 547.8 232.8 547.5 232.9 547.3 233.0 547.0 233.1 546.7 233.2 546.4 233.3 546.2 233.4 545.9 233.5 545.4 233.6 545.0 233.7 544.5 233.8 544.1 233.9 543.6 234.0 543.2 234.1 542.8 234.2 542.3 234.3 541.9 234.4 541.5 234.5 541.0 234.6 540.6 234.7 540.2 234.8 539.8 234.9 539.4 235.0 539.0 235.1 538.6 235.2 538.1 235.3 537.7 235.4 537.3 235.5 536.9 235.6 536.5 235.7 536.2 235.8 535.9 235.9 535.6 236.0 535.3 236.1 535.0 236.2 534.7 236.3 534.4 236.4 534.1 236.5 533.7 236.6 533.4 236.7 533.1 236.8 532.8 236.9 532.4 237.0 532.1 237.1 531.7 237.2 531.4 237.3 531.1 237.4 530.7 237.5 530.4 237.6 530.0 237.7 529.7 237.8 529.3 237.9 528.9 238.0 528.5 238.1 528.1 238.2 527.7 238.3 527.3 238.4 526.9 238.5 526.5 238.6 526.1 238.7 525.8 238.8 525.4 238.9 525.0 239.0 524.6 239.1 524.2 239.2 523.8 239.3 523.5 239.4 523.1 239.5 522.7 239.6 522.3 239.7 522.0 239.8 521.6 239.9 521.2 240.0 520.8 240.1 520.5 240.2 520.1 240.3 519.7 240.4 519.3 240.5 519.0 240.6 518.6 240.7 518.2 240.8 517.8 240.9 517.4 241.0 517.1 241.1 516.7 241.2 516.3 241.3 515.9 241.4 515.5 241.5 515.2 241.6 514.8 241.7 514.4 241.8 514.0 241.9 513.6 242.0 513.2 242.1 512.8 242.2 512.5 242.3 512.1 242.4 511.7 242.5 511.3 242.6 511.0 242.7 510.6 242.8 510.2 242.9 509.9 243.0 509.5 243.1 509.1 243.2 508.8 243.3 508.4 243.4 508.1 243.5 507.7 243.6 507.4 243.7 507.0 243.8 506.7 243.9 506.4 244.0 506.0 244.1 505.7 244.2 505.4 244.3 505.0 244.4 504.7 244.5 504.4 244.6 504.0 244.7 503.6 244.8 503.2 244.9 502.8 245.0 502.4 245.1 502.0 245.2 501.6 245.3 501.2 245.4 500.8 245.5 500.4 245.6 500.0 245.7 499.6 245.8 499.2 245.9 498.8 246.0 498.4 246.1 497.9 246.2 497.5 246.3 497.1 246.4 496.7 246.5 496.2 246.6 495.8 246.7 495.4 246.8 495.1 246.9 494.8 247.0 494.5 247.1 494.2 247.2 493.9 247.3 493.6 247.4 493.3 247.5 493.0 247.6 492.7 247.7 492.4 247.8 492.2 247.9 491.9 248.0 491.6 248.1 491.4 248.2 491.1 248.3 490.9 248.4 490.6 248.5 490.4 248.6 490.1 248.7 489.9 248.8 489.7 248.9 489.4 249.0 489.0 249.1 488.6 249.2 488.1 249.3 487.7 249.4 487.3 249.5 486.8 249.6 486.4 249.7 485.9 249.8 485.5 249.9 485.0 250.0 484.5 250.1 484.1 250.2 483.6 250.3 483.1 250.4 482.7 250.5 482.2 250.6 481.7 250.7 481.2 250.8 480.7 250.9 480.2 251.0 479.8 251.1 479.3 251.2 479.0 251.3 478.8 251.4 478.6 251.5 478.4 251.6 478.2 251.7 478.0 251.8 477.8 251.9 477.6 252.0 477.4 252.1 477.3 252.2 477.1 252.3 476.9 252.4 476.8 252.5 476.6 252.6 476.5 252.7 476.3 252.8 476.2 252.9 476.0 253.0 475.9 253.1 475.8 253.2 475.7 253.3 475.5 253.4 475.2 253.5 474.7 253.6 474.2 253.7 473.7 253.8 473.2 253.9 472.7 254.0 472.2 254.1 471.7 254.2 471.2 254.3 470.7 254.4 470.1 254.5 469.6 254.6 469.1 254.7 468.5 254.8 468.0 254.9 467.5 255.0 466.9 255.1 466.4 255.2 465.8 255.3 465.3 255.4 464.7 255.5 464.2 255.6 463.8 255.7 463.7 255.8 463.6 255.9 463.6 256.0 463.5 256.1 463.4 256.2 463.3 256.3 463.3 256.4 463.2 256.5 463.2 256.6 463.1 256.7 463.1 256.8 463.0 256.9 463.0 257.0 463.0 257.1 463.0 257.2 462.9 257.3 462.9 257.4 462.9 257.5 462.9 257.6 462.9 257.7 462.9 257.8 462.7 257.9 462.2 258.0 461.6 258.1 461.1 258.2 460.5 258.3 459.9 258.4 459.4 258.5 458.8 258.6 458.2 258.7 457.7 258.8 457.1 258.9 456.5 259.0 455.9 259.1 455.3 259.2 454.7 259.3 454.1 259.4 453.5 259.5 452.9 259.6 452.3 259.7 451.7 259.8 451.0 259.9 450.4 260.0 449.9 260.1 450.0 260.2 450.0 260.3 450.0 260.4 450.1 260.5 450.2 260.6 450.2 260.7 450.3 260.8 450.4 260.9 450.4 261.0 450.5 261.1 450.6 261.2 450.7 261.3 450.8 261.4 450.9 261.5 451.0 261.6 451.1 261.7 451.2 261.8 451.4 261.9 451.5 262.0 451.6 262.1 451.8 262.2 451.9 262.3 451.3 262.4 450.6 262.5 450.0 262.6 449.4 262.7 448.8 262.8 448.2 262.9 447.5 263.0 446.9 263.1 446.3 263.2 445.6 263.3 445.0 263.4 444.3 263.5 443.7 263.6 443.0 263.7 442.4 263.8 441.7 263.9 441.1 264.0 440.4 264.1 439.7 264.2 439.1 264.3 438.4 264.4 437.7 264.5 437.8 264.6 438.0 264.7 438.2 264.8 438.3 264.9 438.5 265.0 438.7 265.1 438.9 265.2 439.1 265.3 439.3 265.4 439.5 265.5 439.8 265.6 440.0 265.7 440.2 265.8 440.4 265.9 440.7 266.0 440.9 266.1 441.2 266.2 441.4 266.3 441.7 266.4 441.9 266.5 442.2 266.6 442.5 266.7 442.1 266.8 441.4 266.9 440.7 267.0 440.1 267.1 439.4 267.2 438.7 267.3 438.1 267.4 437.4 267.5 436.7 267.6 436.0 267.7 435.3 267.8 434.7 267.9 434.0 268.0 433.3 268.1 432.6 268.2 431.9 268.3 431.2 268.4 430.5 268.5 429.8 268.6 429.1 268.7 428.4 268.8 427.7 268.9 427.6 269.0 427.9 269.1 428.2 269.2 428.5 269.3 428.8 269.4 429.1 269.5 429.4 269.6 429.8 269.7 430.1 269.8 430.4 269.9 430.8 270.0 431.1 270.1 431.5 270.2 431.8 270.3 432.2 270.4 432.6 270.5 432.9 270.6 433.3 270.7 433.7 270.8 434.1 270.9 434.5 271.0 434.8 271.1 434.7 271.2 434.1 271.3 433.4 271.4 432.7 271.5 432.0 271.6 431.3 271.7 430.6 271.8 429.9 271.9 429.2 272.0 428.5 272.1 427.8 272.2 427.0 272.3 426.3 272.4 425.6 272.5 424.9 272.6 424.2 272.7 423.5 272.8 422.8 272.9 422.0 273.0 421.3 273.1 420.6 273.2 419.9 273.3 419.5 273.4 419.9 273.5 420.3 273.6 420.8 273.7 421.2 273.8 421.6 273.9 422.1 274.0 422.5 274.1 423.0 274.2 423.4 274.3 423.9 274.4 424.3 274.5 424.8 274.6 425.3 274.7 425.7 274.8 426.2 274.9 426.7 275.0 427.2 275.1 427.6 275.2 428.1 275.3 428.6 275.4 429.1 275.5 429.4 275.6 428.7 275.7 428.0 275.8 427.3 275.9 426.6 276.0 425.9 276.1 425.2 276.2 424.5 276.3 423.8 276.4 423.1 276.5 422.4 276.6 421.6 276.7 420.9 276.8 420.2 276.9 419.5 277.0 418.8 277.1 418.1 277.2 417.4 277.3 416.6 277.4 415.9 277.5 415.2 277.6 414.5 277.7 413.8 277.8 414.3 277.9 414.8 278.0 415.3 278.1 415.9 278.2 416.4 278.3 417.0 278.4 417.5 278.5 418.1 278.6 418.6 278.7 419.2 278.8 419.7 278.9 420.3 279.0 420.8 279.1 421.4 279.2 422.0 279.3 422.5 279.4 423.1 279.5 423.7 279.6 424.2 279.7 424.8 279.8 425.4 279.9 426.0 280.0 425.5 280.1 424.8 280.2 424.1 280.3 423.4 280.4 422.7 280.5 422.0 280.6 421.3 280.7 420.6 280.8 419.9 280.9 419.2 281.0 418.5 281.1 417.9 281.2 417.2 281.3 416.5 281.4 415.8 281.5 415.1 281.6 414.4 281.7 413.7 281.8 413.0 281.9 412.3 282.0 411.6 282.1 410.9 282.2 411.2 282.3 411.8 282.4 412.4 282.5 413.0 282.6 413.6 282.7 414.3 282.8 414.9 282.9 415.5 283.0 416.1 283.1 416.8 283.2 417.4 283.3 418.0 283.4 418.7 283.5 419.3 283.6 419.9 283.7 420.6 283.8 421.2 283.9 421.8 284.0 422.5 284.1 423.1 284.2 423.8 284.3 424.4 284.4 424.4 284.5 423.7 284.6 423.0 284.7 422.4 284.8 421.7 284.9 421.1 285.0 420.4 285.1 419.8 285.2 419.1 285.3 418.5 285.4 417.8 285.5 417.2 285.6 416.5 285.7 415.9 285.8 415.2 285.9 414.6 286.0 413.9 286.1 413.3 286.2 412.7 286.3 412.0 286.4 411.4 286.5 410.8 286.6 410.6 286.7 411.3 286.8 412.0 286.9 412.7 287.0 413.4 287.1 414.0 287.2 414.7 287.3 415.4 287.4 416.1 287.5 416.8 287.6 417.4 287.7 418.1 287.8 418.8 287.9 419.5 288.0 420.2 288.1 420.9 288.2 421.5 288.3 422.2 288.4 422.9 288.5 423.6 288.6 424.3 288.7 425.0 288.8 425.3 288.9 424.7 289.0 424.1 289.1 423.5 289.2 422.9 289.3 422.4 289.4 421.8 289.5 421.2 289.6 420.6 289.7 420.0 289.8 419.4 289.9 418.8 290.0 418.3 290.1 417.7 290.2 417.1 290.3 416.5 290.4 416.0 290.5 415.4 290.6 414.8 290.7 414.3 290.8 413.7 290.9 413.2 291.0 412.7 291.1 413.5 291.2 414.2 291.3 414.9 291.4 415.6 291.5 416.3 291.6 417.0 291.7 417.7 291.8 418.4 291.9 419.2 292.0 419.9 292.1 420.6 292.2 421.3 292.3 422.0 292.4 422.7 292.5 423.4 292.6 424.1 292.7 424.8 292.8 425.5 292.9 426.2 293.0 426.9 293.1 427.6 293.2 428.4 293.3 427.9 293.4 427.4 293.5 426.9 293.6 426.3 293.7 425.8 293.8 425.3 293.9 424.8 294.0 424.3 294.1 423.8 294.2 423.3 294.3 422.8 294.4 422.3 294.5 421.9 294.6 421.4 294.7 420.9 294.8 420.4 294.9 420.0 295.0 419.5 295.1 419.0 295.2 418.6 295.3 418.1 295.4 417.7 295.5 418.2 295.6 418.9 295.7 419.6 295.8 420.3 295.9 421.1 296.0 421.8 296.1 422.5 296.2 423.2 296.3 423.9 296.4 424.6 296.5 425.4 296.6 426.1 296.7 426.8 296.8 427.5 296.9 428.2 297.0 428.9 297.1 429.6 297.2 430.3 297.3 431.0 297.4 431.7 297.5 432.4 297.6 433.1 297.7 433.1 297.8 432.7 297.9 432.2 298.0 431.8 298.1 431.4 298.2 431.0 298.3 430.6 298.4 430.2 298.5 429.8 298.6 429.4 298.7 429.1 298.8 428.7 298.9 428.3 299.0 427.9 299.1 427.6 299.2 427.2 299.3 426.8 299.4 426.5 299.5 426.1 299.6 425.8 299.7 425.5 299.8 425.1 299.9 425.3 300.0 426.0 300.1 426.7 300.2 427.5 300.3 428.2 300.4 428.9 300.5 429.6 300.6 430.3 300.7 431.0 300.8 431.7 300.9 432.4 301.0 433.1 301.1 433.8 301.2 434.5 301.3 435.1 301.4 435.8 301.5 436.5 301.6 437.2 301.7 437.9 301.8 438.5 301.9 439.2 302.0 439.9 302.1 440.2 302.2 439.9 302.3 439.6 302.4 439.3 302.5 439.0 302.6 438.7 302.7 438.5 302.8 438.2 302.9 437.9 303.0 437.6 303.1 437.4 303.2 437.1 303.3 436.9 303.4 436.6 303.5 436.4 303.6 436.1 303.7 435.9 303.8 435.7 303.9 435.4 304.0 435.2 304.1 435.0 304.2 434.8 304.3 434.8 304.4 435.5 304.5 436.2 304.6 436.8 304.7 437.5 304.8 438.2 304.9 438.9 305.0 439.5 305.1 440.2 305.2 440.9 305.3 441.5 305.4 442.2 305.5 442.8 305.6 443.5 305.7 444.1 305.8 444.8 305.9 445.4 306.0 446.0 306.1 446.7 306.2 447.3 306.3 447.9 306.4 448.6 306.5 449.2 306.6 449.0 306.7 448.8 306.8 448.6 306.9 448.5 307.0 448.3 307.1 448.2 307.2 448.0 307.3 447.9 307.4 447.7 307.5 447.6 307.6 447.5 307.7 447.3 307.8 447.2 307.9 447.1 308.0 447.0 308.1 446.9 308.2 446.8 308.3 446.7 308.4 446.6 308.5 446.5 308.6 446.5 308.7 446.4 308.8 447.0 308.9 447.6 309.0 448.2 309.1 448.9 309.2 449.5 309.3 450.1 309.4 450.7 309.5 451.4 309.6 452.0 309.7 452.6 309.8 453.2 309.9 453.8 310.0 454.4 310.1 455.0 310.2 455.6 310.3 456.2 310.4 456.7 310.5 457.3 310.6 457.9 310.7 458.5 310.8 459.0 310.9 459.6 311.0 459.7 311.1 459.7 311.2 459.6 311.3 459.6 311.4 459.6 311.5 459.6 311.6 459.5 311.7 459.5 311.8 459.5 311.9 459.5 312.0 459.5 312.1 459.5 312.2 459.5 312.3 459.6 312.4 459.6 312.5 459.6 312.6 459.6 312.7 459.7 312.8 459.7 312.9 459.8 313.0 459.8 313.1 459.9 313.2 460.3 313.3 460.8 313.4 461.4 313.5 462.0 313.6 462.6 313.7 463.1 313.8 463.7 313.9 464.2 314.0 464.8 314.1 465.3 314.2 465.9 314.3 466.4 314.4 467.0 314.5 467.5 314.6 468.0 314.7 468.6 314.8 469.1 314.9 469.6 315.0 470.1 315.1 470.6 315.2 471.1 315.3 471.7 315.4 472.0 315.5 472.1 315.6 472.1 315.7 472.2 315.8 472.3 315.9 472.4 316.0 472.5 316.1 472.7 316.2 472.8 316.3 472.9 316.4 473.0 316.5 473.2 316.6 473.3 316.7 473.4 316.8 473.6 316.9 473.7 317.0 473.9 317.1 474.1 317.2 474.2 317.3 474.4 317.4 474.6 317.5 474.7 317.6 475.0 317.7 475.5 317.8 476.0 317.9 476.6 318.0 477.1 318.1 477.6 318.2 478.1 318.3 478.6 318.4 479.0 318.5 479.5 318.6 480.0 318.7 480.5 318.8 481.0 318.9 481.4 319.0 481.9 319.1 482.4 319.2 482.8 319.3 483.3 319.4 483.8 319.5 484.2 319.6 484.7 319.7 485.1 319.8 485.5 319.9 485.7 320.0 485.9 320.1 486.1 320.2 486.4 320.3 486.6 320.4 486.8 320.5 487.0 320.6 487.2 320.7 487.5 320.8 487.7 320.9 488.0 321.0 488.2 321.1 488.5 321.2 488.7 321.3 489.0 321.4 489.2 321.5 489.5 321.6 489.8 321.7 490.0 321.8 490.3 321.9 490.6 322.0 490.9 322.1 491.3 322.2 491.8 322.3 492.2 322.4 492.7 322.5 493.1 322.6 493.6 322.7 494.0 322.8 494.4 322.9 494.9 323.0 495.3 323.1 495.7 323.2 496.1 323.3 496.6 323.4 497.0 323.5 497.4 323.6 497.8 323.7 498.2 323.8 498.6 323.9 499.0 324.0 499.4 324.1 499.8 324.2 500.2 324.3 500.5 324.4 500.8 324.5 501.1 324.6 501.4 324.7 501.7 324.8 502.1 324.9 502.4 325.0 502.7 325.1 503.0 325.2 503.3 325.3 503.7 325.4 504.0 325.5 504.3 325.6 504.7 325.7 505.0 325.8 505.4 325.9 505.7 326.0 506.1 326.1 506.4 326.2 506.8 326.3 507.1 326.4 507.5 326.5 507.9 326.6 508.3 326.7 508.7 326.8 509.1 326.9 509.5 327.0 509.9 327.1 510.2 327.2 510.6 327.3 511.0 327.4 511.4 327.5 511.8 327.6 512.2 327.7 512.6 327.8 512.9 327.9 513.3 328.0 513.7 328.1 514.1 328.2 514.4 328.3 514.8 328.4 515.2 328.5 515.6 328.6 515.9 328.7 516.3 328.8 516.7 328.9 517.1 329.0 517.4 329.1 517.8 329.2 518.2 329.3 518.6 329.4 519.0 329.5 519.3 329.6 519.7 329.7 520.1 329.8 520.5 329.9 520.9 330.0 521.2 330.1 521.6 330.2 522.0 330.3 522.4 330.4 522.8 330.5 523.2 330.6 523.5 330.7 523.9 330.8 524.3 330.9 524.7 331.0 525.1 331.1 525.5 331.2 525.8 331.3 526.2 331.4 526.5 331.5 526.9 331.6 527.3 331.7 527.6 331.8 528.0 331.9 528.3 332.0 528.7 332.1 529.0 332.2 529.4 332.3 529.7 332.4 530.1 332.5 530.4 332.6 530.7 332.7 531.1 332.8 531.4 332.9 531.7 333.0 532.0 333.1 532.4 333.2 532.8 333.3 533.1 333.4 533.5 333.5 533.9 333.6 534.3 333.7 534.7 333.8 535.1 333.9 535.5 334.0 535.9 334.1 536.3 334.2 536.7 334.3 537.2 334.4 537.6 334.5 538.0 334.6 538.4 334.7 538.8 334.8 539.2 334.9 539.7 335.0 540.1 335.1 540.5 335.2 541.0 335.3 541.4 335.4 541.7 335.5 542.0 335.6 542.3 335.7 542.6 335.8 542.9 335.9 543.2 336.0 543.5 336.1 543.8 336.2 544.0 336.3 544.3 336.4 544.6 336.5 544.8 336.6 545.1 336.7 545.4 336.8 545.6 336.9 545.9 337.0 546.1 337.1 546.4 337.2 546.6 337.3 546.8 337.4 547.1 337.5 547.3 337.6 547.7 337.7 548.2 337.8 548.6 337.9 549.0 338.0 549.5 338.1 549.9 338.2 550.4 338.3 550.8 338.4 551.3 338.5 551.7 338.6 552.2 338.7 552.7 338.8 553.1 338.9 553.6 339.0 554.1 339.1 554.6 339.2 555.0 339.3 555.5 339.4 556.0 339.5 556.5 339.6 557.0 339.7 557.5 339.8 557.8 339.9 558.0 340.0 558.2 340.1 558.4 340.2 558.6 340.3 558.8 340.4 558.9 340.5 559.1 340.6 559.3 340.7 559.5 340.8 559.6 340.9 559.8 341.0 560.0 341.1 560.1 341.2 560.3 341.3 560.4 341.4 560.5 341.5 560.7 341.6 560.8 341.7 560.9 341.8 561.0 341.9 561.2 342.0 561.5 342.1 562.0 342.2 562.5 342.3 563.0 342.4 563.5 342.5 564.0 342.6 564.5 342.7 565.0 342.8 565.5 342.9 566.1 343.0 566.6 343.1 567.1 343.2 567.6 343.3 568.2 343.4 568.7 343.5 569.3 343.6 569.8 343.7 570.4 343.8 570.9 343.9 571.5 344.0 572.0 344.1 572.6 344.2 572.9 344.3 573.0 344.4 573.1 344.5 573.2 344.6 573.2 344.7 573.3 344.8 573.4 344.9 573.4 345.0 573.5 345.1 573.5 345.2 573.6 345.3 573.6 345.4 573.7 345.5 573.7 345.6 573.7 345.7 573.7 345.8 573.7 345.9 573.8 346.0 573.8 346.1 573.8 346.2 573.8 346.3 573.7 346.4 573.9 346.5 574.5 346.6 575.0 346.7 575.6 346.8 576.2 346.9 576.7 347.0 577.3 347.1 577.9 347.2 578.4 347.3 579.0 347.4 579.6 347.5 580.2 347.6 580.8 347.7 581.4 347.8 582.0 347.9 582.6 348.0 583.2 348.1 583.8 348.2 584.4 348.3 585.0 348.4 585.7 348.5 586.3 348.6 586.8 348.7 586.7 348.8 586.7 348.9 586.6 349.0 586.6 349.1 586.5 349.2 586.5 349.3 586.4 349.4 586.3 349.5 586.2 349.6 586.2 349.7 586.1 349.8 586.0 349.9 585.9 350.0 585.8 350.1 585.6 350.2 585.5 350.3 585.4 350.4 585.3 350.5 585.2 350.6 585.0 350.7 584.9 350.8 584.8 350.9 585.4 351.0 586.0 351.1 586.6 351.2 587.2 351.3 587.9 351.4 588.5 351.5 589.1 351.6 589.7 351.7 590.4 351.8 591.0 351.9 591.7 352.0 592.3 352.1 593.0 352.2 593.6 352.3 594.3 352.4 594.9 352.5 595.6 352.6 596.2 352.7 596.9 352.8 597.6 352.9 598.3 353.0 598.9 353.1 598.8 353.2 598.7 353.3 598.5 353.4 598.3 353.5 598.1 353.6 597.9 353.7 597.7 353.8 597.5 353.9 597.3 354.0 597.1 354.1 596.9 354.2 596.6 354.3 596.4 354.4 596.2 354.5 595.9 354.6 595.7 354.7 595.4 354.8 595.2 354.9 594.9 355.0 594.7 355.1 594.4 355.2 594.1 355.3 594.5 355.4 595.2 355.5 595.9 355.6 596.5 355.7 597.2 355.8 597.9 355.9 598.5 356.0 599.2 356.1 599.9 356.2 600.6 356.3 601.3 356.4 601.9 356.5 602.6 356.6 603.3 356.7 604.0 356.8 604.7 356.9 605.4 357.0 606.1 357.1 606.8 357.2 607.5 357.3 608.2 357.4 608.9 357.5 609.0 357.6 608.7 357.7 608.4 357.8 608.1 357.9 607.8 358.0 607.5 358.1 607.1 358.2 606.8 358.3 606.5 358.4 606.1 358.5 605.8 358.6 605.4 358.7 605.1 358.8 604.7 358.9 604.4 359.0 604.0 359.1 603.6 359.2 603.2 359.3 602.9 359.4 602.5 359.5 602.1 359.6 601.7 359.7 601.8 359.8 602.5 359.9 603.2 360.0 603.9 360.1 604.6 360.2 605.3 360.3 606.0 360.4 606.7 360.5 607.4 360.6 608.1 360.7 608.8 360.8 609.5 360.9 610.2 361.0 610.9 361.1 611.6 361.2 612.4 361.3 613.1 361.4 613.8 361.5 614.5 361.6 615.2 361.7 616.0 361.8 616.7 361.9 617.1 362.0 616.7 362.1 616.2 362.2 615.8 362.3 615.4 362.4 614.9 362.5 614.5 362.6 614.0 362.7 613.6 362.8 613.1 362.9 612.7 363.0 612.2 363.1 611.7 363.2 611.3 363.3 610.8 363.4 610.3 363.5 609.8 363.6 609.4 363.7 608.9 363.8 608.4 363.9 607.9 364.0 607.4 364.1 607.1 364.2 607.8 364.3 608.5 364.4 609.2 364.5 609.9 364.6 610.6 364.7 611.3 364.8 612.0 364.9 612.7 365.0 613.4 365.1 614.1 365.2 614.9 365.3 615.6 365.4 616.3 365.5 617.0 365.6 617.7 365.7 618.4 365.8 619.1 365.9 619.9 366.0 620.6 366.1 621.3 366.2 622.0 366.3 622.7 366.4 622.2 366.5 621.7 366.6 621.1 366.7 620.6 366.8 620.1 366.9 619.5 367.0 619.0 367.1 618.4 367.2 617.9 367.3 617.3 367.4 616.8 367.5 616.2 367.6 615.6 367.7 615.1 367.8 614.5 367.9 613.9 368.0 613.4 368.1 612.8 368.2 612.2 368.3 611.6 368.4 611.1 368.5 610.5 368.6 611.0 368.7 611.7 368.8 612.4 368.9 613.0 369.0 613.7 369.1 614.4 369.2 615.1 369.3 615.8 369.4 616.5 369.5 617.2 369.6 617.9 369.7 618.6 369.8 619.3 369.9 620.0 370.0 620.7 370.1 621.4 370.2 622.0 370.3 622.7 370.4 623.4 370.5 624.1 370.6 624.8 370.7 625.5 370.8 625.3 370.9 624.7 371.0 624.0 371.1 623.4 371.2 622.8 371.3 622.2 371.4 621.5 371.5 620.9 371.6 620.3 371.7 619.7 371.8 619.0 371.9 618.4 372.0 617.8 372.1 617.1 372.2 616.5 372.3 615.8 372.4 615.2 372.5 614.6 372.6 613.9 372.7 613.3 372.8 612.6 372.9 612.0 373.0 612.0 373.1 612.7 373.2 613.4 373.3 614.0 373.4 614.7 373.5 615.3 373.6 616.0 373.7 616.6 373.8 617.3 373.9 617.9 374.0 618.6 374.1 619.2 374.2 619.9 374.3 620.5 374.4 621.2 374.5 621.8 374.6 622.4 374.7 623.1 374.8 623.7 374.9 624.4 375.0 625.0 375.1 625.6 375.2 625.7 375.3 625.1 375.4 624.4 375.5 623.7 375.6 623.0 375.7 622.3 375.8 621.7 375.9 621.0 376.0 620.3 376.1 619.6 376.2 618.9 376.3 618.2 376.4 617.6 376.5 616.9 376.6 616.2 376.7 615.5 376.8 614.8 376.9 614.1 377.0 613.4 377.1 612.8 377.2 612.1 377.3 611.4 377.4 611.0 377.5 611.6 377.6 612.2 377.7 612.8 377.8 613.4 377.9 614.0 378.0 614.6 378.1 615.2 378.2 615.8 378.3 616.3 378.4 616.9 378.5 617.5 378.6 618.1 378.7 618.7 378.8 619.2 378.9 619.8 379.0 620.4 379.1 620.9 379.2 621.5 379.3 622.0 379.4 622.6 379.5 623.1 379.6 623.6 379.7 622.9 379.8 622.1 379.9 621.4 380.0 620.7 380.1 620.0 380.2 619.3 380.3 618.6 380.4 617.9 380.5 617.2 380.6 616.4 380.7 615.7 380.8 615.0 380.9 614.3 381.0 613.6 381.1 612.9 381.2 612.2 381.3 611.5 381.4 610.8 381.5 610.1 381.6 609.4 381.7 608.7 381.8 608.0 381.9 608.4 382.0 608.9 382.1 609.5 382.2 610.0 382.3 610.5 382.4 611.0 382.5 611.5 382.6 612.0 382.7 612.5 382.8 613.0 382.9 613.5 383.0 613.9 383.1 614.4 383.2 614.9 383.3 615.4 383.4 615.8 383.5 616.3 383.6 616.8 383.7 617.2 383.8 617.7 383.9 618.1 384.0 618.6 384.1 618.1 384.2 617.4 384.3 616.7 384.4 615.9 384.5 615.2 384.6 614.5 384.7 613.8 384.8 613.0 384.9 612.3 385.0 611.6 385.1 610.9 385.2 610.2 385.3 609.5 385.4 608.8 385.5 608.1 385.6 607.4 385.7 606.6 385.8 605.9 385.9 605.2 386.0 604.5 386.1 603.9 386.2 603.2 386.3 603.2 386.4 603.6 386.5 604.0 386.6 604.4 386.7 604.8 386.8 605.2 386.9 605.6 387.0 606.0 387.1 606.4 387.2 606.8 387.3 607.2 387.4 607.6 387.5 607.9 387.6 608.3 387.7 608.7 387.8 609.0 387.9 609.4 388.0 609.7 388.1 610.1 388.2 610.4 388.3 610.7 388.4 611.1 388.5 610.9 388.6 610.2 388.7 609.5 388.8 608.7 388.9 608.0 389.0 607.3 389.1 606.6 389.2 605.9 389.3 605.2 389.4 604.5 389.5 603.8 389.6 603.1 389.7 602.4 389.8 601.8 389.9 601.1 390.0 600.4 390.1 599.7 390.2 599.0 390.3 598.4 390.4 597.7 390.5 597.0 390.6 596.3 390.7 596.0 390.8 596.3 390.9 596.6 391.0 596.9 391.1 597.2 391.2 597.5 391.3 597.8 391.4 598.0 391.5 598.3 391.6 598.6 391.7 598.8 391.8 599.1 391.9 599.3 392.0 599.6 392.1 599.8 392.2 600.0 392.3 600.3 392.4 600.5 392.5 600.7 392.6 600.9 392.7 601.1 392.8 601.4 392.9 601.4 393.0 600.7 393.1 600.0 393.2 599.3 393.3 598.7 393.4 598.0 393.5 597.3 393.6 596.6 393.7 596.0 393.8 595.3 393.9 594.7 394.0 594.0 394.1 593.3 394.2 592.7 394.3 592.0 394.4 591.4 394.5 590.8 394.6 590.1 394.7 589.5 394.8 588.9 394.9 588.2 395.0 587.6 395.1 587.0 395.2 587.2 395.3 587.4 395.4 587.5 395.5 587.7 395.6 587.9 395.7 588.0 395.8 588.1 395.9 588.3 396.0 588.4 396.1 588.6 396.2 588.7 396.3 588.8 396.4 588.9 396.5 589.0 396.6 589.1 396.7 589.2 396.8 589.3 396.9 589.4 397.0 589.5 397.1 589.6 397.2 589.6 397.3 589.7 397.4 589.1 397.5 588.5 397.6 587.9 397.7 587.3 397.8 586.6 397.9 586.0 398.0 585.4 398.1 584.8 398.2 584.2 398.3 583.6 398.4 582.9 398.5 582.3 398.6 581.7 398.7 581.2 398.8 580.6 398.9 580.0 399.0 579.4 399.1 578.8 399.2 578.2 399.3 577.7 399.4 577.1 399.5 576.5 399.6 576.4 399.7 576.5 399.8 576.5 399.9 576.5 400.0 576.5 400.1 576.6 400.2 576.6 400.3 576.6 400.4 576.6 400.5 576.6 400.6 576.6 400.7 576.6 400.8 576.6 400.9 576.5 401.0 576.5 401.1 576.5 401.2 576.4 401.3 576.4 401.4 576.4 401.5 576.3 401.6 576.3 401.7 576.2 401.8 575.8 401.9 575.2 402.0 574.7 402.1 574.1 402.2 573.5 402.3 573.0 402.4 572.4 402.5 571.9 402.6 571.3 402.7 570.8 402.8 570.2 402.9 569.7 403.0 569.1 403.1 568.6 403.2 568.1 403.3 567.5 403.4 567.0 403.5 566.5 403.6 566.0 403.7 565.5 403.8 565.0 403.9 564.5 404.0 564.1 404.1 564.1 404.2 564.0 404.3 563.9 404.4 563.8 404.5 563.7 404.6 563.5 404.7 563.4 404.8 563.3 404.9 563.2 405.0 563.1 405.1 562.9 405.2 562.8 405.3 562.6 405.4 562.5 405.5 562.3 405.6 562.2 405.7 562.0 405.8 561.8 405.9 561.7 406.0 561.5 406.1 561.3 406.2 561.0 406.3 560.5 406.4 560.0 406.5 559.5 406.6 559.0 406.7 558.5 406.8 558.0 406.9 557.5 407.0 557.0 407.1 556.5 407.2 556.0 407.3 555.6 407.4 555.1 407.5 554.6 407.6 554.2 407.7 553.7 407.8 553.2 407.9 552.8 408.0 552.3 408.1 551.9 408.2 551.4 408.3 551.0 408.4 550.6 408.5 550.3 408.6 550.1 408.7 549.9 408.8 549.7 408.9 549.5 409.0 549.3 409.1 549.0 409.2 548.8 409.3 548.6 409.4 548.3 409.5 548.1 409.6 547.8 409.7 547.6 409.8 547.3 409.9 547.1 410.0 546.8 410.1 546.5 410.2 546.3 410.3 546.0 410.4 545.7 410.5 545.4 410.6 545.1 410.7 544.7 410.8 544.2 410.9 543.8 411.0 543.3 411.1 542.9 411.2 542.5 411.3 542.0 411.4 541.6 411.5 541.2 411.6 540.8 411.7 540.3 411.8 539.9 411.9 539.5 412.0 539.1 412.1 538.7 412.2 538.3 412.3 537.9 412.4 537.4 412.5 537.0 412.6 536.6 412.7 536.2 412.8 535.9 412.9 535.5 413.0 535.2 413.1 534.9 413.2 534.6 413.3 534.3 413.4 534.0 413.5 533.7 413.6 533.3 413.7 533.0 413.8 532.7 413.9 532.4 414.0 532.0 414.1 531.7 414.2 531.3 414.3 531.0 414.4 530.7 414.5 530.3 414.6 530.0 414.7 529.6 414.8 529.2 414.9 528.9 415.0 528.5 415.1 528.1 415.2 527.7 415.3 527.3 415.4 527.0 415.5 526.6 415.6 526.2 415.7 525.8 415.8 525.4 415.9 525.0 416.0 524.6 416.1 524.2 416.2 523.9 416.3 523.5 416.4 523.1 416.5 522.7 416.6 522.3 416.7 522.0 416.8 521.6 416.9 521.2 417.0 520.8 417.1 520.5 417.2 520.1 417.3 519.7 417.4 519.3 417.5 519.0 417.6 518.6 417.7 518.2 417.8 517.8 417.9 517.4 418.0 517.1 418.1 516.7 418.2 516.3 418.3 515.9 418.4 515.5 418.5 515.2 418.6 514.8 418.7 514.4 418.8 514.0 418.9 513.6 419.0 513.2 419.1 512.9 419.2 512.5 419.3 512.1 419.4 511.7 419.5 511.3 419.6 510.9 419.7 510.6 419.8 510.2 419.9 509.8 420.0 509.5 420.1 509.1 420.2 508.8 420.3 508.4 420.4 508.0 420.5 507.7 420.6 507.3 420.7 507.0 420.8 506.7 420.9 506.3 421.0 506.0 421.1 505.6 421.2 505.3 421.3 505.0 421.4 504.7 421.5 504.3 421.6 504.0 421.7 503.7 421.8 503.3 421.9 502.9 422.0 502.5 422.1 502.1 422.2 501.7 422.3 501.3 422.4 500.9 422.5 500.5 422.6 500.1 422.7 499.7 422.8 499.3 422.9 498.9 423.0 498.5 423.1 498.1 423.2 497.6 423.3 497.2 423.4 496.8 423.5 496.4 423.6 495.9 423.7 495.5 423.8 495.1 423.9 494.6 424.0 494.3 424.1 494.0 424.2 493.7 424.3 493.4 424.4 493.1 424.5 492.8 424.6 492.6 424.7 492.3 424.8 492.0 424.9 491.7 425.0 491.5 425.1 491.2 425.2 490.9 425.3 490.7 425.4 490.4 425.5 490.2 425.6 489.9 425.7 489.7 425.8 489.5 425.9 489.2 426.0 489.0 426.1 488.8 426.2 488.4 426.3 487.9 426.4 487.5 426.5 487.0 426.6 486.6 426.7 486.1 426.8 485.7 426.9 485.2 427.0 484.8 427.1 484.3 427.2 483.9 427.3 483.4 427.4 482.9 427.5 482.5 427.6 482.0 427.7 481.5 427.8 481.0 427.9 480.5 428.0 480.0 428.1 479.5 428.2 479.0 428.3 478.5 428.4 478.3 428.5 478.1 428.6 477.9 428.7 477.7 428.8 477.5 428.9 477.3 429.0 477.1 429.1 476.9 429.2 476.8 429.3 476.6 429.4 476.4 429.5 476.3 429.6 476.1 429.7 476.0 429.8 475.8 429.9 475.7 430.0 475.6 430.1 475.4 430.2 475.3 430.3 475.2 430.4 475.1 430.5 474.9 430.6 474.6 430.7 474.1 430.8 473.6 430.9 473.1 431.0 472.6 431.1 472.1 431.2 471.6 431.3 471.1 431.4 470.5 431.5 470.0 431.6 469.5 431.7 469.0 431.8 468.4 431.9 467.9 432.0 467.4 432.1 466.8 432.2 466.3 432.3 465.7 432.4 465.2 432.5 464.6 432.6 464.1 432.7 463.5 432.8 463.2 432.9 463.1 433.0 463.0 433.1 462.9 433.2 462.8 433.3 462.8 433.4 462.7 433.5 462.7 433.6 462.6 433.7 462.6 433.8 462.5 433.9 462.5 434.0 462.4 434.1 462.4 434.2 462.4 434.3 462.4 434.4 462.4 434.5 462.4 434.6 462.4 434.7 462.4 434.8 462.4 434.9 462.4 435.0 462.2 435.1 461.7 435.2 461.1 435.3 460.5 435.4 460.0 435.5 459.4 435.6 458.8 435.7 458.3 435.8 457.7 435.9 457.1 436.0 456.5 436.1 455.9 436.2 455.3 436.3 454.7 436.4 454.1 436.5 453.5 436.6 452.9 436.7 452.3 436.8 451.7 436.9 451.1 437.0 450.5 437.1 449.8 437.2 449.3 437.3 449.4 437.4 449.4 437.5 449.5 437.6 449.5 437.7 449.6 437.8 449.7 437.9 449.7 438.0 449.8 438.1 449.9 438.2 450.0 438.3 450.1 438.4 450.2 438.5 450.3 438.6 450.4 438.7 450.5 438.8 450.6 438.9 450.7 439.0 450.9 439.1 451.0 439.2 451.1 439.3 451.3 439.4 451.4 439.5 450.8 439.6 450.2 439.7 449.6 439.8 448.9 439.9 448.3 440.0 447.7 440.1 447.1 440.2 446.4 440.3 445.8 440.4 445.1 440.5 444.5 440.6 443.9 440.7 443.2 440.8 442.6 440.9 441.9 441.0 441.2 441.1 440.6 441.2 439.9 441.3 439.2 441.4 438.6 441.5 437.9 441.6 437.2 441.7 437.3 441.8 437.5 441.9 437.7 442.0 437.9 442.1 438.1 442.2 438.3 442.3 438.5 442.4 438.7 442.5 438.9 442.6 439.1 442.7 439.3 442.8 439.6 442.9 439.8 443.0 440.0 443.1 440.3 443.2 440.5 443.3 440.8 443.4 441.0 443.5 441.3 443.6 441.6 443.7 441.8 443.8 442.1 443.9 441.7 444.0 441.0 444.1 440.4 444.2 439.7 444.3 439.0 444.4 438.3 444.5 437.7 444.6 437.0 444.7 436.3 444.8 435.6 444.9 435.0 445.0 434.3 445.1 433.6 445.2 432.9 445.3 432.2 445.4 431.5 445.5 430.8 445.6 430.1 445.7 429.4 445.8 428.7 445.9 428.0 446.0 427.3 446.1 427.2 446.2 427.5 446.3 427.8 446.4 428.1 446.5 428.4 446.6 428.7 446.7 429.1 446.8 429.4 446.9 429.7 447.0 430.1 447.1 430.4 447.2 430.8 447.3 431.1 447.4 431.5 447.5 431.9 447.6 432.2 447.7 432.6 447.8 433.0 447.9 433.4 448.0 433.8 448.1 434.2 448.2 434.5 448.3 434.5 448.4 433.8 448.5 433.1 448.6 432.4 448.7 431.7 448.8 431.0 448.9 430.3 449.0 429.6 449.1 428.9 449.2 428.2 449.3 427.5 449.4 426.7 449.5 426.0 449.6 425.3 449.7 424.6 449.8 423.9 449.9 423.2 450.0 422.4 450.1 421.7 450.2 421.0 450.3 420.3 450.4 419.6 450.5 419.2 450.6 419.6 450.7 420.0 450.8 420.5 450.9 420.9 451.0 421.3 451.1 421.8 451.2 422.2 451.3 422.7 451.4 423.2 451.5 423.6 451.6 424.1 451.7 424.5 451.8 425.0 451.9 425.5 452.0 426.0 452.1 426.5 452.2 426.9 452.3 427.4 452.4 427.9 452.5 428.4 452.6 428.9 452.7 429.2 452.8 428.5 452.9 427.8 453.0 427.1 453.1 426.4 453.2 425.7 453.3 425.0 453.4 424.3 453.5 423.6 453.6 422.9 453.7 422.2 453.8 421.4 453.9 420.7 454.0 420.0 454.1 419.3 454.2 418.6 454.3 417.9 454.4 417.2 454.5 416.4 454.6 415.7 454.7 415.0 454.8 414.3 454.9 413.6 455.0 414.1 455.1 414.6 455.2 415.2 455.3 415.7 455.4 416.2 455.5 416.8 455.6 417.3 455.7 417.9 455.8 418.4 455.9 419.0 456.0 419.6 456.1 420.1 456.2 420.7 456.3 421.3 456.4 421.8 456.5 422.4 456.6 423.0 456.7 423.5 456.8 424.1 456.9 424.7 457.0 425.3 457.1 425.9 457.2 425.4 457.3 424.7 457.4 424.0 457.5 423.3 457.6 422.6 457.7 421.9 457.8 421.2 457.9 420.5 458.0 419.8 458.1 419.1 458.2 418.5 458.3 417.8 458.4 417.1 458.5 416.4 458.6 415.7 458.7 415.0 458.8 414.3 458.9 413.6 459.0 412.9 459.1 412.2 459.2 411.6 459.3 410.9 459.4 411.1 459.5 411.7 459.6 412.3 459.7 413.0 459.8 413.6 459.9 414.2 460.0 414.8 460.1 415.5 460.2 416.1 460.3 416.7 460.4 417.4 460.5 418.0 460.6 418.6 460.7 419.3 460.8 419.9 460.9 420.5 461.0 421.2 461.1 421.8 461.2 422.5 461.3 423.1 461.4 423.8 461.5 424.4 461.6 424.3 461.7 423.7 461.8 423.0 461.9 422.4 462.0 421.7 462.1 421.1 462.2 420.4 462.3 419.8 462.4 419.1 462.5 418.5 462.6 417.8 462.7 417.2 462.8 416.5 462.9 415.9 463.0 415.2 463.1 414.6 463.2 414.0 463.3 413.3 463.4 412.7 463.5 412.1 463.6 411.4 463.7 410.8 463.8 410.7 463.9 411.4 464.0 412.1 464.1 412.7 464.2 413.4 464.3 414.1 464.4 414.8 464.5 415.5 464.6 416.1 464.7 416.8 464.8 417.5 464.9 418.2 465.0 418.9 465.1 419.6 465.2 420.3 465.3 420.9 465.4 421.6 465.5 422.3 465.6 423.0 465.7 423.7 465.8 424.4 465.9 425.1 466.0 425.4 466.1 424.8 466.2 424.2 466.3 423.6 466.4 423.0 466.5 422.5 466.6 421.9 466.7 421.3 466.8 420.7 466.9 420.1 467.0 419.5 467.1 419.0 467.2 418.4 467.3 417.8 467.4 417.2 467.5 416.7 467.6 416.1 467.7 415.6 467.8 415.0 467.9 414.4 468.0 413.9 468.1 413.3 468.2 412.9 468.3 413.6 468.4 414.3 468.5 415.1 468.6 415.8 468.7 416.5 468.8 417.2 468.9 417.9 469.0 418.6 469.1 419.3 469.2 420.0 469.3 420.8 469.4 421.5 469.5 422.2 469.6 422.9 469.7 423.6 469.8 424.3 469.9 425.0 470.0 425.7 470.1 426.4 470.2 427.1 470.3 427.8 470.4 428.5 470.5 428.1 470.6 427.6 470.7 427.0 470.8 426.5 470.9 426.0 471.0 425.5 471.1 425.0 471.2 424.5 471.3 424.0 471.4 423.5 471.5 423.1 471.6 422.6 471.7 422.1 471.8 421.6 471.9 421.2 472.0 420.7 472.1 420.2 472.2 419.8 472.3 419.3 472.4 418.8 472.5 418.4 472.6 417.9 472.7 418.4 472.8 419.2 472.9 419.9 473.0 420.6 473.1 421.3 473.2 422.1 473.3 422.8 473.4 423.5 473.5 424.2 473.6 424.9 473.7 425.6 473.8 426.4 473.9 427.1 474.0 427.8 474.1 428.5 474.2 429.2 474.3 429.9 474.4 430.6 474.5 431.3 474.6 432.0 474.7 432.7 474.8 433.4 474.9 433.4 475.0 432.9 475.1 432.5 475.2 432.1 475.3 431.7 475.4 431.3 475.5 430.9 475.6 430.5 475.7 430.1 475.8 429.8 475.9 429.4 476.0 429.0 476.1 428.6 476.2 428.3 476.3 427.9 476.4 427.6 476.5 427.2 476.6 426.9 476.7 426.5 476.8 426.2 476.9 425.8 477.0 425.5 477.1 425.7 477.2 426.4 477.3 427.1 477.4 427.8 477.5 428.6 477.6 429.3 477.7 430.0 477.8 430.7 477.9 431.4 478.0 432.1 478.1 432.8 478.2 433.5 478.3 434.1 478.4 434.8 478.5 435.5 478.6 436.2 478.7 436.9 478.8 437.6 478.9 438.2 479.0 438.9 479.1 439.6 479.2 440.2 479.3 440.6 479.4 440.3 479.5 440.0 479.6 439.7 479.7 439.4 479.8 439.1 479.9 438.8 480.0 438.6 480.1 438.3 480.2 438.0 480.3 437.8 480.4 437.5 480.5 437.3 480.6 437.1 480.7 436.8 480.8 436.6 480.9 436.4 481.0 436.1 481.1 435.9 481.2 435.7 481.3 435.5 481.4 435.3 481.5 435.3 481.6 436.0 481.7 436.6 481.8 437.3 481.9 438.0 482.0 438.7 482.1 439.3 482.2 440.0 482.3 440.7 482.4 441.3 482.5 442.0 482.6 442.6 482.7 443.3 482.8 443.9 482.9 444.6 483.0 445.2 483.1 445.9 483.2 446.5 483.3 447.1 483.4 447.8 483.5 448.4 483.6 449.0 483.7 449.6 483.8 449.4 483.9 449.3 484.0 449.1 484.1 448.9 484.2 448.8 484.3 448.6 484.4 448.5 484.5 448.4 484.6 448.2 484.7 448.1 484.8 448.0 484.9 447.9 485.0 447.7 485.1 447.6 485.2 447.5 485.3 447.4 485.4 447.4 485.5 447.3 485.6 447.2 485.7 447.1 485.8 447.0 485.9 447.0 486.0 447.5 486.1 448.2 486.2 448.8 486.3 449.4 486.4 450.1 486.5 450.7 486.6 451.3 486.7 451.9 486.8 452.5 486.9 453.1 487.0 453.7 487.1 454.3 487.2 454.9 487.3 455.5 487.4 456.1 487.5 456.7 487.6 457.3 487.7 457.9 487.8 458.4 487.9 459.0 488.0 459.6 488.1 460.1 488.2 460.2 488.3 460.2 488.4 460.2 488.5 460.1 488.6 460.1 488.7 460.1 488.8 460.1 488.9 460.1 489.0 460.1 489.1 460.1 489.2 460.1 489.3 460.1 489.4 460.1 489.5 460.2 489.6 460.2 489.7 460.2 489.8 460.3 489.9 460.3 490.0 460.4 490.1 460.4 490.2 460.5 490.3 460.5 490.4 460.9 490.5 461.5 490.6 462.1 490.7 462.6 490.8 463.2 490.9 463.7 491.0 464.3 491.1 464.9 491.2 465.4 491.3 466.0 491.4 466.5 491.5 467.0 491.6 467.6 491.7 468.1 491.8 468.6 491.9 469.2 492.0 469.7 492.1 470.2 492.2 470.7 492.3 471.2 492.4 471.7 492.5 472.2 492.6 472.6 492.7 472.6 492.8 472.7 492.9 472.8 493.0 472.9 493.1 473.1 493.2 473.2 493.3 473.3 493.4 473.4 493.5 473.5 493.6 473.7 493.7 473.8 493.8 473.9 493.9 474.1 494.0 474.2 494.1 474.4 494.2 474.6 494.3 474.7 494.4 474.9 494.5 475.1 494.6 475.3 494.7 475.4 494.8 475.7 494.9 476.2 495.0 476.7 495.1 477.3 495.2 477.8 495.3 478.3 495.4 478.7 495.5 479.2 495.6 479.7 495.7 480.2 495.8 480.7 495.9 481.2 496.0 481.6 496.1 482.1 496.2 482.6 496.3 483.0 496.4 483.5 496.5 484.0 496.6 484.4 496.7 484.9 496.8 485.3 496.9 485.8 497.0 486.2 497.1 486.4 497.2 486.6 497.3 486.8 497.4 487.0 497.5 487.2 497.6 487.5 497.7 487.7 497.8 487.9 497.9 488.2 498.0 488.4 498.1 488.7 498.2 488.9 498.3 489.2 498.4 489.4 498.5 489.7 498.6 490.0 498.7 490.2 498.8 490.5 498.9 490.8 499.0 491.1 499.1 491.3 499.2 491.6 499.3 492.1 499.4 492.5 499.5 493.0 499.6 493.4 499.7 493.9 499.8 494.3 499.9 494.7 500.0 495.2 500.1 495.6 500.2 496.0 500.3 496.4 500.4 496.8 500.5 497.3 500.6 497.7 500.7 498.1 500.8 498.5 500.9 498.9 501.0 499.3 501.1 499.7 501.2 500.1 501.3 500.5 501.4 500.9 501.5 501.2 501.6 501.5 501.7 501.8 501.8 502.1 501.9 502.5 502.0 502.8 502.1 503.1 502.2 503.4 502.3 503.7 502.4 504.1 502.5 504.4 502.6 504.7 502.7 505.1 502.8 505.4 502.9 505.8 503.0 506.1 503.1 506.5 503.2 506.8 503.3 507.2 503.4 507.5 503.5 507.9 503.6 508.3 503.7 508.6 503.8 509.0 503.9 509.4 504.0 509.8 504.1 510.2 504.2 510.6 504.3 511.0 504.4 511.4 504.5 511.8 504.6 512.2 504.7 512.5 504.8 512.9 504.9 513.3 505.0 513.7 505.1 514.1 505.2 514.4 505.3 514.8 505.4 515.2 505.5 515.6 505.6 515.9 505.7 516.3 505.8 516.7 505.9 517.1 506.0 517.4 506.1 517.8 506.2 518.2 506.3 518.6 506.4 519.0 506.5 519.3 506.6 519.7 506.7 520.1 506.8 520.5 506.9 520.9 507.0 521.2 507.1 521.6 507.2 522.0 507.3 522.4 507.4 522.8 507.5 523.1 507.6 523.5 507.7 523.9 507.8 524.3 507.9 524.7 508.0 525.1 508.1 525.5 508.2 525.8 508.3 526.2 508.4 526.6 508.5 526.9 508.6 527.3 508.7 527.7 508.8 528.0 508.9 528.4 509.0 528.7 509.1 529.1 509.2 529.4 509.3 529.8 509.4 530.1 509.5 530.4 509.6 530.8 509.7 531.1 509.8 531.4 509.9 531.8 510.0 532.1 510.1 532.4 510.2 532.7 510.3 533.1 510.4 533.5 510.5 533.8 510.6 534.2 510.7 534.6 510.8 535.0 510.9 535.4 511.0 535.8 511.1 536.2 511.2 536.6 511.3 537.1 511.4 537.5 511.5 537.9 511.6 538.3 511.7 538.7 511.8 539.1 511.9 539.6 512.0 540.0 512.1 540.4 512.2 540.8 512.3 541.3 512.4 541.7 512.5 542.1 512.6 542.4 512.7 542.7 512.8 543.0 512.9 543.3 513.0 543.6 513.1 543.9 513.2 544.2 513.3 544.5 513.4 544.7 513.5 545.0 513.6 545.3 513.7 545.5 513.8 545.8 513.9 546.1 514.0 546.3 514.1 546.6 514.2 546.8 514.3 547.0 514.4 547.3 514.5 547.5 514.6 547.7 514.7 548.0 514.8 548.4 514.9 548.8 515.0 549.3 515.1 549.7 515.2 550.1 515.3 550.6 515.4 551.0 515.5 551.5 515.6 552.0 515.7 552.4 515.8 552.9 515.9 553.3 516.0 553.8 516.1 554.3 516.2 554.8 516.3 555.3 516.4 555.7 516.5 556.2 516.6 556.7 516.7 557.2 516.8 557.7 516.9 558.2 517.0 558.5 517.1 558.7 517.2 558.9 517.3 559.1 517.4 559.3 517.5 559.4 517.6 559.6 517.7 559.8 517.8 560.0 517.9 560.1 518.0 560.3 518.1 560.4 518.2 560.6 518.3 560.7 518.4 560.9 518.5 561.0 518.6 561.2 518.7 561.3 518.8 561.4 518.9 561.5 519.0 561.6 519.1 561.8 519.2 562.1 519.3 562.6 519.4 563.1 519.5 563.6 519.6 564.1 519.7 564.6 519.8 565.1 519.9 565.6 520.0 566.2 520.1 566.7 520.2 567.2 520.3 567.7 520.4 568.3 520.5 568.8 520.6 569.4 520.7 569.9 520.8 570.4 520.9 571.0 521.0 571.6 521.1 572.1 521.2 572.7 521.3 573.2 521.4 573.6 521.5 573.7 521.6 573.7 521.7 573.8 521.8 573.9 521.9 573.9 522.0 574.0 522.1 574.1 522.2 574.1 522.3 574.1 522.4 574.2 522.5 574.2 522.6 574.2 522.7 574.3 522.8 574.3 522.9 574.3 523.0 574.3 523.1 574.3 523.2 574.3 523.3 574.3 523.4 574.3 523.5 574.3 523.6 574.5 523.7 575.0 523.8 575.6 523.9 576.1 524.0 576.7 524.1 577.3 524.2 577.8 524.3 578.4 524.4 579.0 524.5 579.6 524.6 580.2 524.7 580.8 524.8 581.4 524.9 582.0 525.0 582.6 525.1 583.2 525.2 583.8 525.3 584.4 525.4 585.0 525.5 585.6 525.6 586.2 525.7 586.9 525.8 587.4 525.9 587.3 526.0 587.3 526.1 587.2 526.2 587.1 526.3 587.1 526.4 587.0 526.5 586.9 526.6 586.9 526.7 586.8 526.8 586.7 526.9 586.6 527.0 586.5 527.1 586.4 527.2 586.3 527.3 586.1 527.4 586.0 527.5 585.9 527.6 585.8 527.7 585.6 527.8 585.5 527.9 585.3 528.0 585.2 528.1 585.8 528.2 586.5 528.3 587.1 528.4 587.7 528.5 588.3 528.6 589.0 528.7 589.6 528.8 590.2 528.9 590.9 529.0 591.5 529.1 592.1 529.2 592.8 529.3 593.4 529.4 594.1 529.5 594.8 529.6 595.4 529.7 596.1 529.8 596.7 529.9 597.4 530.0 598.1 530.1 598.8 530.2 599.4 530.3 599.3 530.4 599.2 530.5 599.0 530.6 598.8 530.7 598.6 530.8 598.4 530.9 598.2 531.0 598.0 531.1 597.7 531.2 597.5 531.3 597.3 531.4 597.1 531.5 596.8 531.6 596.6 531.7 596.3 531.8 596.1 531.9 595.8 532.0 595.6 532.1 595.3 532.2 595.0 532.3 594.8 532.4 594.5 532.5 594.9 532.6 595.6 532.7 596.2 532.8 596.9 532.9 597.6 533.0 598.2 533.1 598.9 533.2 599.6 533.3 600.3 533.4 601.0 533.5 601.6 533.6 602.3 533.7 603.0 533.8 603.7 533.9 604.4 534.0 605.1 534.1 605.8 534.2 606.5 534.3 607.2 534.4 607.9 534.5 608.6 534.6 609.3 534.7 609.4 534.8 609.1 534.9 608.8 535.0 608.5 535.1 608.2 535.2 607.8 535.3 607.5 535.4 607.2 535.5 606.8 535.6 606.5 535.7 606.1 535.8 605.8 535.9 605.4 536.0 605.1 536.1 604.7 536.2 604.3 536.3 603.9 536.4 603.6 536.5 603.2 536.6 602.8 536.7 602.4 536.8 602.0 536.9 602.1 537.0 602.8 537.1 603.5 537.2 604.2 537.3 604.9 537.4 605.6 537.5 606.3 537.6 607.0 537.7 607.7 537.8 608.4 537.9 609.1 538.0 609.8 538.1 610.5 538.2 611.2 538.3 611.9 538.4 612.7 538.5 613.4 538.6 614.1 538.7 614.8 538.8 615.5 538.9 616.3 539.0 617.0 539.1 617.4 539.2 616.9 539.3 616.5 539.4 616.1 539.5 615.6 539.6 615.2 539.7 614.7 539.8 614.3 539.9 613.8 540.0 613.4 540.1 612.9 540.2 612.4 540.3 612.0 540.4 611.5 540.5 611.0 540.6 610.5 540.7 610.1 540.8 609.6 540.9 609.1 541.0 608.6 541.1 608.1 541.2 607.6 541.3 607.3 541.4 608.0 541.5 608.7 541.6 609.4 541.7 610.1 541.8 610.8 541.9 611.5 542.0 612.2 542.1 612.9 542.2 613.6 542.3 614.3 542.4 615.1 542.5 615.8 542.6 616.5 542.7 617.2 542.8 617.9 542.9 618.6 543.0 619.3 543.1 620.1 543.2 620.8 543.3 621.5 543.4 622.2 543.5 622.9 543.6 622.4 543.7 621.9 543.8 621.3 543.9 620.8 544.0 620.2 544.1 619.7 544.2 619.1 544.3 618.6 544.4 618.0 544.5 617.5 544.6 616.9 544.7 616.3 544.8 615.8 544.9 615.2 545.0 614.6 545.1 614.1 545.2 613.5 545.3 612.9 545.4 612.3 545.5 611.7 545.6 611.2 545.7 610.6 545.8 611.1 545.9 611.8 546.0 612.5 546.1 613.1 546.2 613.8 546.3 614.5 546.4 615.2 546.5 615.9 546.6 616.6 546.7 617.3 546.8 618.0 546.9 618.7 547.0 619.4 547.1 620.1 547.2 620.8 547.3 621.4 547.4 622.1 547.5 622.8 547.6 623.5 547.7 624.2 547.8 624.9 547.9 625.6 548.0 625.3 548.1 624.7 548.2 624.1 548.3 623.5 548.4 622.8 548.5 622.2 548.6 621.6 548.7 621.0 548.8 620.3 548.9 619.7 549.0 619.1 549.1 618.4 549.2 617.8 549.3 617.2 549.4 616.5 549.5 615.9 549.6 615.2 549.7 614.6 549.8 613.9 549.9 613.3 550.0 612.6 550.1 612.0 550.2 612.1 550.3 612.7 550.4 613.4 550.5 614.0 550.6 614.7 550.7 615.3 550.8 616.0 550.9 616.6 551.0 617.3 551.1 617.9 551.2 618.6 551.3 619.2 551.4 619.9 551.5 620.5 551.6 621.1 551.7 621.8 551.8 622.4 551.9 623.1 552.0 623.7 552.1 624.3 552.2 624.9 552.3 625.6 552.4 625.7 552.5 625.0 552.6 624.3 552.7 623.6 552.8 623.0 552.9 622.3 553.0 621.6 553.1 620.9 553.2 620.2 553.3 619.5 553.4 618.9 553.5 618.2 553.6 617.5 553.7 616.8 553.8 616.1 553.9 615.4 554.0 614.7 554.1 614.0 554.2 613.4 554.3 612.7 554.4 612.0 554.5 611.3 554.6 610.9 554.7 611.5 554.8 612.1 554.9 612.7 555.0 613.3 555.1 613.9 555.2 614.5 555.3 615.1 555.4 615.6 555.5 616.2 555.6 616.8 555.7 617.4 555.8 618.0 555.9 618.5 556.0 619.1 556.1 619.7 556.2 620.2 556.3 620.8 556.4 621.3 556.5 621.9 556.6 622.4 556.7 623.0 556.8 623.4 556.9 622.7 557.0 622.0 557.1 621.3 557.2 620.5 557.3 619.8 557.4 619.1 557.5 618.4 557.6 617.7 557.7 617.0 557.8 616.3 557.9 615.6 558.0 614.8 558.1 614.1 558.2 613.4 558.3 612.7 558.4 612.0 558.5 611.3 558.6 610.6 558.7 609.9 558.8 609.2 558.9 608.5 559.0 607.8 559.1 608.2 559.2 608.7 559.3 609.3 559.4 609.8 559.5 610.3 559.6 610.8 559.7 611.3 559.8 611.8 559.9 612.3 560.0 612.7 560.1 613.2 560.2 613.7 560.3 614.2 560.4 614.7 560.5 615.1 560.6 615.6 560.7 616.1 560.8 616.5 560.9 617.0 561.0 617.4 561.1 617.9 561.2 618.3 561.3 617.8 561.4 617.1 561.5 616.4 561.6 615.6 561.7 614.9 561.8 614.2 561.9 613.5 562.0 612.8 562.1 612.0 562.2 611.3 562.3 610.6 562.4 609.9 562.5 609.2 562.6 608.5 562.7 607.8 562.8 607.1 562.9 606.4 563.0 605.7 563.1 605.0 563.2 604.3 563.3 603.6 563.4 602.9 563.5 602.9 563.6 603.3 563.7 603.7 563.8 604.1 563.9 604.5 564.0 604.9 564.1 605.3 564.2 605.7 564.3 606.1 564.4 606.5 564.5 606.8 564.6 607.2 564.7 607.6 564.8 607.9 564.9 608.3 565.0 608.7 565.1 609.0 565.2 609.4 565.3 609.7 565.4 610.0 565.5 610.4 565.6 610.7 565.7 610.5 565.8 609.8 565.9 609.1 566.0 608.4 566.1 607.7 566.2 606.9 566.3 606.2 566.4 605.5 566.5 604.8 566.6 604.1 566.7 603.4 566.8 602.8 566.9 602.1 567.0 601.4 567.1 600.7 567.2 600.0 567.3 599.3 567.4 598.7 567.5 598.0 567.6 597.3 567.7 596.6 567.8 596.0 567.9 595.6 568.0 595.9 568.1 596.2 568.2 596.5 568.3 596.8 568.4 597.1 568.5 597.4 568.6 597.6 568.7 597.9 568.8 598.1 568.9 598.4 569.0 598.6 569.1 598.9 569.2 599.1 569.3 599.4 569.4 599.6 569.5 599.8 569.6 600.0 569.7 600.3 569.8 600.5 569.9 600.7 570.0 600.9 570.1 600.9 570.2 600.2 570.3 599.5 570.4 598.8 570.5 598.2 570.6 597.5 570.7 596.8 570.8 596.2 570.9 595.5 571.0 594.8 571.1 594.2 571.2 593.5 571.3 592.9 571.4 592.2 571.5 591.6 571.6 590.9 571.7 590.3 571.8 589.7 571.9 589.0 572.0 588.4 572.1 587.8 572.2 587.2 572.3 586.6 572.4 586.8 572.5 586.9 572.6 587.1 572.7 587.2 572.8 587.4 572.9 587.5 573.0 587.7 573.1 587.8 573.2 587.9 573.3 588.1 573.4 588.2 573.5 588.3 573.6 588.4 573.7 588.5 573.8 588.6 573.9 588.7 574.0 588.8 574.1 588.9 574.2 588.9 574.3 589.0 574.4 589.1 574.5 589.1 574.6 588.6 574.7 587.9 574.8 587.3 574.9 586.7 575.0 586.1 575.1 585.4 575.2 584.8 575.3 584.2 575.4 583.6 575.5 583.0 575.6 582.4 575.7 581.8 575.8 581.2 575.9 580.6 576.0 580.0 576.1 579.4 576.2 578.9 576.3 578.3 576.4 577.7 576.5 577.1 576.6 576.6 576.7 576.0 576.8 575.9 576.9 575.9 577.0 576.0 577.1 576.0 577.2 576.0 577.3 576.0 577.4 576.0 577.5 576.0 577.6 576.0 577.7 576.0 577.8 576.0 577.9 576.0 578.0 576.0 578.1 575.9 578.2 575.9 578.3 575.9 578.4 575.8 578.5 575.8 578.6 575.7 578.7 575.7 578.8 575.6 578.9 575.5 579.0 575.2 579.1 574.6 579.2 574.0 579.3 573.5 579.4 572.9 579.5 572.3 579.6 571.8 579.7 571.2 579.8 570.7 579.9 570.1 580.0 569.6 580.1 569.1 580.2 568.5 580.3 568.0 580.4 567.5 580.5 566.9 580.6 566.4 580.7 565.9 580.8 565.4 580.9 564.9 581.0 564.4 581.1 563.9 581.2 563.6 581.3 563.5 581.4 563.4 581.5 563.3 581.6 563.2 581.7 563.0 581.8 562.9 581.9 562.8 582.0 562.7 582.1 562.5 582.2 562.4 582.3 562.3 582.4 562.1 582.5 562.0 582.6 561.8 582.7 561.7 582.8 561.5 582.9 561.3 583.0 561.2 583.1 561.0 583.2 560.8 583.3 560.6 583.4 560.3 583.5 559.8 583.6 559.3 583.7 558.8 583.8 558.3 583.9 557.8 584.0 557.3 584.1 556.8 584.2 556.3 584.3 555.9 584.4 555.4 584.5 554.9 584.6 554.4 584.7 554.0 584.8 553.5 584.9 553.0 585.0 552.6 585.1 552.1 585.2 551.7 585.3 551.2 585.4 550.8 585.5 550.3 585.6 549.9 585.7 549.7 585.8 549.5 585.9 549.3 586.0 549.1 586.1 548.8 586.2 548.6 586.3 548.4 586.4 548.1 586.5 547.9 586.6 547.6 586.7 547.4 586.8 547.1 586.9 546.9 587.0 546.6 587.1 546.4 587.2 546.1 587.3 545.8 587.4 545.5 587.5 545.3 587.6 545.0 587.7 544.7 587.8 544.4 587.9 543.9 588.0 543.5 588.1 543.1 588.2 542.6 588.3 542.2 588.4 541.7 588.5 541.3 588.6 540.9 588.7 540.5 588.8 540.0 588.9 539.6 589.0 539.2 589.1 538.8 589.2 538.4 589.3 538.0 589.4 537.6 589.5 537.1 589.6 536.7 589.7 536.3 589.8 535.9 589.9 535.6 590.0 535.2 590.1 534.8 590.2 534.5 590.3 534.2 590.4 533.9 590.5 533.6 590.6 533.3 590.7 533.0 590.8 532.6 590.9 532.3 591.0 532.0 591.1 531.6 591.2 531.3 591.3 530.9 591.4 530.6 591.5 530.3 591.6 529.9 591.7 529.6 591.8 529.2 591.9 528.8 592.0 528.5 592.1 528.1 592.2 527.8 592.3 527.4 592.4 527.0 592.5 526.6 592.6 526.2 592.7 525.8 592.8 525.4 592.9 525.0 593.0 524.6 593.1 524.3 593.2 523.9 593.3 523.5 593.4 523.1 593.5 522.7 593.6 522.3 593.7 522.0 593.8 521.6 593.9 521.2 594.0 520.8 594.1 520.5 594.2 520.1 594.3 519.7 594.4 519.3 594.5 519.0 594.6 518.6 594.7 518.2 594.8 517.8 594.9 517.4 595.0 517.1 595.1 516.7 595.2 516.3 595.3 515.9 595.4 515.5 595.5 515.2 595.6 514.8 595.7 514.4 595.8 514.0 595.9 513.6 596.0 513.3 596.1 512.9 596.2 512.5 596.3 512.1 596.4 511.7 596.5 511.3 596.6 510.9 596.7 510.5 596.8 510.2 596.9 509.8 597.0 509.4 597.1 509.1 597.2 508.7 597.3 508.4 597.4 508.0 597.5 507.7 597.6 507.3 597.7 507.0 597.8 506.6 597.9 506.3 598.0 505.9 598.1 505.6 598.2 505.3 598.3 504.9 598.4 504.6 598.5 504.3 598.6 503.9 598.7 503.6 598.8 503.3 598.9 503.0 599.0 502.6 599.1 502.2 599.2 501.8 599.3 501.4 599.4 501.0 599.5 500.6 599.6 500.2 599.7 499.8 599.8 499.4 599.9 499.0 600.0 498.6 600.1 498.2 600.2 497.7 600.3 497.3 600.4 496.9 600.5 496.5 600.6 496.0 600.7 495.6 600.8 495.2 600.9 494.7 601.0 494.3 601.1 493.9 601.2 493.6 601.3 493.3 601.4 493.0 601.5 492.7 601.6 492.4 601.7 492.1 601.8 491.8 601.9 491.6 602.0 491.3 602.1 491.0 602.2 490.8 602.3 490.5 602.4 490.2 602.5 490.0 602.6 489.7 602.7 489.5 602.8 489.3 602.9 489.0 603.0 488.8 603.1 488.6 603.2 488.3 603.3 488.1 603.4 487.7 603.5 487.3 603.6 486.8 603.7 486.4 603.8 485.9 603.9 485.5 604.0 485.0 604.1 484.6 604.2 484.1 604.3 483.6 604.4 483.2 604.5 482.7 604.6 482.2 604.7 481.8 604.8 481.3 604.9 480.8 605.0 480.3 605.1 479.8 605.2 479.3 605.3 478.8 605.4 478.3 605.5 477.8 605.6 477.6 605.7 477.4 605.8 477.2 605.9 477.0 606.0 476.8 606.1 476.6 606.2 476.4 606.3 476.3 606.4 476.1 606.5 475.9 606.6 475.8 606.7 475.6 606.8 475.5 606.9 475.3 607.0 475.2 607.1 475.1 607.2 474.9 607.3 474.8 607.4 474.7 607.5 474.6 607.6 474.5 607.7 474.4 607.8 474.0 607.9 473.5 608.0 473.0 608.1 472.5 608.2 472.0 608.3 471.5 608.4 471.0 608.5 470.4 608.6 469.9 608.7 469.4 608.8 468.9 608.9 468.3 609.0 467.8 609.1 467.3 609.2 466.7 609.3 466.2 609.4 465.6 609.5 465.1 609.6 464.5 609.7 464.0 609.8 463.4 609.9 462.8 610.0 462.5 610.1 462.4 610.2 462.3 610.3 462.3 610.4 462.2 610.5 462.1 610.6 462.1 610.7 462.0 610.8 462.0 610.9 462.0 611.0 461.9 611.1 461.9 611.2 461.9 611.3 461.8 611.4 461.8 611.5 461.8 611.6 461.8 611.7 461.8 611.8 461.8 611.9 461.8 612.0 461.8 612.1 461.9 612.2 461.7 612.3 461.1 612.4 460.6 612.5 460.0 612.6 459.4 612.7 458.9 612.8 458.3 612.9 457.7 613.0 457.1 613.1 456.5 613.2 455.9 613.3 455.4 613.4 454.8 613.5 454.2 613.6 453.6 613.7 453.0 613.8 452.3 613.9 451.7 614.0 451.1 614.1 450.5 614.2 449.9 614.3 449.2 614.4 448.7 614.5 448.8 614.6 448.8 614.7 448.9 614.8 449.0 614.9 449.0 615.0 449.1 615.1 449.2 615.2 449.3 615.3 449.4 615.4 449.5 615.5 449.6 615.6 449.7 615.7 449.8 615.8 449.9 615.9 450.0 616.0 450.1 616.1 450.3 616.2 450.4 616.3 450.5 616.4 450.7 616.5 450.8 616.6 450.9 616.7 450.3 616.8 449.7 616.9 449.1 617.0 448.5 617.1 447.8 617.2 447.2 617.3 446.6 617.4 445.9 617.5 445.3 617.6 444.7 617.7 444.0 617.8 443.4 617.9 442.7 618.0 442.1 618.1 441.4 618.2 440.7 618.3 440.1 618.4 439.4 618.5 438.7 618.6 438.1 618.7 437.4 618.8 436.7 618.9 436.8 619.0 437.0 619.1 437.2 619.2 437.4 619.3 437.6 619.4 437.8 619.5 438.0 619.6 438.2 619.7 438.4 619.8 438.7 619.9 438.9 620.0 439.1 620.1 439.4 620.2 439.6 620.3 439.8 620.4 440.1 620.5 440.4 620.6 440.6 620.7 440.9 620.8 441.2 620.9 441.4 621.0 441.7 621.1 441.3 621.2 440.6 621.3 440.0 621.4 439.3 621.5 438.6 621.6 438.0 621.7 437.3 621.8 436.6 621.9 435.9 622.0 435.2 622.1 434.6 622.2 433.9 622.3 433.2 622.4 432.5 622.5 431.8 622.6 431.1 622.7 430.4 622.8 429.7 622.9 429.0 623.0 428.3 623.1 427.6 623.2 426.8 623.3 426.7 623.4 427.1 623.5 427.4 623.6 427.7 623.7 428.0 623.8 428.4 623.9 428.7 624.0 429.0 624.1 429.4 624.2 429.7 624.3 430.1 624.4 430.4 624.5 430.8 624.6 431.2 624.7 431.5 624.8 431.9 624.9 432.3 625.0 432.7 625.1 433.1 625.2 433.5 625.3 433.9 625.4 434.3 625.5 434.2 625.6 433.5 625.7 432.8 625.8 432.1 625.9 431.4 626.0 430.7 626.1 430.0 626.2 429.3 626.3 428.6 626.4 427.9 626.5 427.2 626.6 426.4 626.7 425.7 626.8 425.0 626.9 424.3 627.0 423.6 627.1 422.9 627.2 422.1 627.3 421.4 627.4 420.7 627.5 420.0 627.6 419.3 627.7 418.9 627.8 419.3 627.9 419.7 628.0 420.2 628.1 420.6 628.2 421.1 628.3 421.5 628.4 422.0 628.5 422.4 628.6 422.9 628.7 423.4 628.8 423.8 628.9 424.3 629.0 424.8 629.1 425.3 629.2 425.7 629.3 426.2 629.4 426.7 629.5 427.2 629.6 427.7 629.7 428.2 629.8 428.7 629.9 429.0 630.0 428.3 630.1 427.6 630.2 426.9 630.3 426.2 630.4 425.5 630.5 424.8 630.6 424.1 630.7 423.4 630.8 422.7 630.9 422.0 631.0 421.3 631.1 420.5 631.2 419.8 631.3 419.1 631.4 418.4 631.5 417.7 631.6 417.0 631.7 416.2 631.8 415.5 631.9 414.8 632.0 414.1 632.1 413.4 632.2 413.9 632.3 414.5 632.4 415.0 632.5 415.5 632.6 416.1 632.7 416.6 632.8 417.2 632.9 417.7 633.0 418.3 633.1 418.9 633.2 419.4 633.3 420.0 633.4 420.6 633.5 421.1 633.6 421.7 633.7 422.3 633.8 422.9 633.9 423.4 634.0 424.0 634.1 424.6 634.2 425.2 634.3 425.8 634.4 425.3 634.5 424.6 634.6 423.9 634.7 423.2 634.8 422.5 634.9 421.8 635.0 421.1 635.1 420.4 635.2 419.7 635.3 419.1 635.4 418.4 635.5 417.7 635.6 417.0 635.7 416.3 635.8 415.6 635.9 414.9 636.0 414.2 636.1 413.5 636.2 412.9 636.3 412.2 636.4 411.5 636.5 410.8 636.6 411.0 636.7 411.7 636.8 412.3 636.9 412.9 637.0 413.5 637.1 414.2 637.2 414.8 637.3 415.4 637.4 416.0 637.5 416.7 637.6 417.3 637.7 418.0 637.8 418.6 637.9 419.2 638.0 419.9 638.1 420.5 638.2 421.2 638.3 421.8 638.4 422.5 638.5 423.1 638.6 423.8 638.7 424.4 638.8 424.3 638.9 423.7 639.0 423.0 639.1 422.4 639.2 421.7 639.3 421.1 639.4 420.4 639.5 419.8 639.6 419.1 639.7 418.5 639.8 417.8 639.9 417.2 640.0 416.6 640.1 415.9 640.2 415.3 640.3 414.6 640.4 414.0 640.5 413.4 640.6 412.7 640.7 412.1 640.8 411.5 640.9 410.9 641.0 410.7 641.1 411.4 641.2 412.1 641.3 412.8 641.4 413.5 641.5 414.2 641.6 414.8 641.7 415.5 641.8 416.2 641.9 416.9 642.0 417.6 642.1 418.3 642.2 419.0 642.3 419.6 642.4 420.3 642.5 421.0 642.6 421.7 642.7 422.4 642.8 423.1 642.9 423.8 643.0 424.5 643.1 425.2 643.2 425.5 643.3 424.9 643.4 424.3 643.5 423.7 643.6 423.1 643.7 422.6 643.8 422.0 643.9 421.4 644.0 420.8 644.1 420.2 644.2 419.7 644.3 419.1 644.4 418.5 644.5 417.9 644.6 417.4 644.7 416.8 644.8 416.3 644.9 415.7 645.0 415.1 645.1 414.6 645.2 414.0 645.3 413.5 645.4 413.1 645.5 413.8 645.6 414.5 645.7 415.2 645.8 415.9 645.9 416.7 646.0 417.4 646.1 418.1 646.2 418.8 646.3 419.5 646.4 420.2 646.5 420.9 646.6 421.6 646.7 422.4 646.8 423.1 646.9 423.8 647.0 424.5 647.1 425.2 647.2 425.9 647.3 426.6 647.4 427.3 647.5 428.0 647.6 428.7 647.7 428.3 647.8 427.8 647.9 427.2 648.0 426.7 648.1 426.2 648.2 425.7 648.3 425.2 648.4 424.7 648.5 424.3 648.6 423.8 648.7 423.3 648.8 422.8 648.9 422.3 649.0 421.9 649.1 421.4 649.2 420.9 649.3 420.5 649.4 420.0 649.5 419.6 649.6 419.1 649.7 418.7 649.8 418.2 649.9 418.7 650.0 419.4 650.1 420.2 650.2 420.9 650.3 421.6 650.4 422.3 650.5 423.1 650.6 423.8 650.7 424.5 650.8 425.2 650.9 425.9 651.0 426.6 651.1 427.3 651.2 428.1 651.3 428.8 651.4 429.5 651.5 430.2 651.6 430.9 651.7 431.6 651.8 432.3 651.9 433.0 652.0 433.7 652.1 433.6 652.2 433.2 652.3 432.8 652.4 432.4 652.5 432.0 652.6 431.6 652.7 431.2 652.8 430.8 652.9 430.5 653.0 430.1 653.1 429.7 653.2 429.3 653.3 429.0 653.4 428.6 653.5 428.3 653.6 427.9 653.7 427.6 653.8 427.2 653.9 426.9 654.0 426.6 654.1 426.2 654.2 425.9 654.3 426.1 654.4 426.8 654.5 427.5 654.6 428.2 654.7 428.9 654.8 429.6 654.9 430.4 655.0 431.1 655.1 431.8 655.2 432.4 655.3 433.1 655.4 433.8 655.5 434.5 655.6 435.2 655.7 435.9 655.8 436.6 655.9 437.3 656.0 437.9 656.1 438.6 656.2 439.3 656.3 439.9 656.4 440.6 656.5 440.9 656.6 440.6 656.7 440.4 656.8 440.1 656.9 439.8 657.0 439.5 657.1 439.2 657.2 439.0 657.3 438.7 657.4 438.5 657.5 438.2 657.6 438.0 657.7 437.7 657.8 437.5 657.9 437.3 658.0 437.0 658.1 436.8 658.2 436.6 658.3 436.4 658.4 436.2 658.5 436.0 658.6 435.8 658.7 435.8 658.8 436.4 658.9 437.1 659.0 437.8 659.1 438.5 659.2 439.1 659.3 439.8 659.4 440.5 659.5 441.1 659.6 441.8 659.7 442.5 659.8 443.1 659.9 443.8 660.0 444.4 660.1 445.0 660.2 445.7 660.3 446.3 660.4 447.0 660.5 447.6 660.6 448.2 660.7 448.8 660.8 449.5 660.9 450.0 661.0 449.9 661.1 449.7 661.2 449.6 661.3 449.4 661.4 449.3 661.5 449.1 661.6 449.0 661.7 448.9 661.8 448.7 661.9 448.6 662.0 448.5 662.1 448.4 662.2 448.3 662.3 448.2 662.4 448.1 662.5 448.0 662.6 447.9 662.7 447.8 662.8 447.7 662.9 447.7 663.0 447.6 663.1 447.5 663.2 448.1 663.3 448.7 663.4 449.4 663.5 450.0 663.6 450.6 663.7 451.2 663.8 451.9 663.9 452.5 664.0 453.1 664.1 453.7 664.2 454.3 664.3 454.9 664.4 455.5 664.5 456.1 664.6 456.6 664.7 457.2 664.8 457.8 664.9 458.4 665.0 459.0 665.1 459.5 665.2 460.1 665.3 460.7 665.4 460.8 665.5 460.7 665.6 460.7 665.7 460.7 665.8 460.7 665.9 460.7 666.0 460.7 666.1 460.7 666.2 460.7 666.3 460.7 666.4 460.7 666.5 460.7 666.6 460.7 666.7 460.8 666.8 460.8 666.9 460.8 667.0 460.9 667.1 460.9 667.2 461.0 667.3 461.0 667.4 461.1 667.5 461.2 667.6 461.6 667.7 462.1 667.8 462.7 667.9 463.3 668.0 463.8 668.1 464.4 668.2 464.9 668.3 465.5 668.4 466.0 668.5 466.6 668.6 467.1 668.7 467.7 668.8 468.2 668.9 468.7 669.0 469.2 669.1 469.8 669.2 470.3 669.3 470.8 669.4 471.3 669.5 471.8 669.6 472.3 669.7 472.8 669.8 473.1 669.9 473.2 670.0 473.3 670.1 473.4 670.2 473.6 670.3 473.7 670.4 473.8 670.5 473.9 670.6 474.0 670.7 474.2 670.8 474.3 670.9 474.5 671.0 474.6 671.1 474.8 671.2 474.9 671.3 475.1 671.4 475.2 671.5 475.4 671.6 475.6 671.7 475.8 671.8 476.0 671.9 476.1 672.0 476.4 672.1 476.9 672.2 477.4 672.3 477.9 672.4 478.4 672.5 478.9 672.6 479.4 672.7 479.9 672.8 480.4 672.9 480.9 673.0 481.4 673.1 481.8 673.2 482.3 673.3 482.8 673.4 483.2 673.5 483.7 673.6 484.2 673.7 484.6 673.8 485.1 673.9 485.5 674.0 486.0 674.1 486.4 674.2 486.8 674.3 487.0 674.4 487.2 674.5 487.5 674.6 487.7 674.7 487.9 674.8 488.1 674.9 488.4 675.0 488.6 675.1 488.9 675.2 489.1 675.3 489.4 675.4 489.6 675.5 489.9 675.6 490.1 675.7 490.4 675.8 490.7 675.9 490.9 676.0 491.2 676.1 491.5 676.2 491.8 676.3 492.1 676.4 492.4 676.5 492.8 676.6 493.3 676.7 493.7 676.8 494.2 676.9 494.6 677.0 495.0 677.1 495.5 677.2 495.9 677.3 496.3 677.4 496.7 677.5 497.1 677.6 497.6 677.7 498.0 677.8 498.4 677.9 498.8 678.0 499.2 678.1 499.6 678.2 500.0 678.3 500.4 678.4 500.8 678.5 501.2 678.6 501.6 678.7 501.9 678.8 502.2 678.9 502.5 679.0 502.8 679.1 503.2 679.2 503.5 679.3 503.8 679.4 504.1 679.5 504.5 679.6 504.8 679.7 505.1 679.8 505.5 679.9 505.8 680.0 506.2 680.1 506.5 680.2 506.9 680.3 507.2 680.4 507.6 680.5 507.9 680.6 508.3 680.7 508.7 680.8 509.0 680.9 509.4 681.0 509.8 681.1 510.2 681.2 510.6 681.3 511.0 681.4 511.4 681.5 511.8 681.6 512.1 681.7 512.5 681.8 512.9 681.9 513.3 682.0 513.7 682.1 514.0 682.2 514.4 682.3 514.8 682.4 515.2 682.5 515.6 682.6 515.9 682.7 516.3 682.8 516.7 682.9 517.1 683.0 517.4 683.1 517.8 683.2 518.2 683.3 518.6 683.4 519.0 683.5 519.3 683.6 519.7 683.7 520.1 683.8 520.5 683.9 520.8 684.0 521.2 684.1 521.6 684.2 522.0 684.3 522.4 684.4 522.7 684.5 523.1 684.6 523.5 684.7 523.9 684.8 524.3 684.9 524.7 685.0 525.1 685.1 525.5 685.2 525.9 685.3 526.2 685.4 526.6 685.5 527.0 685.6 527.3 685.7 527.7 685.8 528.1 685.9 528.4 686.0 528.8 686.1 529.1 686.2 529.5 686.3 529.8 686.4 530.2 686.5 530.5 686.6 530.8 686.7 531.2 686.8 531.5 686.9 531.8 687.0 532.2 687.1 532.5 687.2 532.8 687.3 533.1 687.4 533.4 687.5 533.8 687.6 534.2 687.7 534.6 687.8 534.9 687.9 535.3 688.0 535.7 688.1 536.1 688.2 536.5 688.3 537.0 688.4 537.4 688.5 537.8 688.6 538.2 688.7 538.6 688.8 539.0 688.9 539.4 689.0 539.9 689.1 540.3 689.2 540.7 689.3 541.1 689.4 541.6 689.5 542.0 689.6 542.5 689.7 542.9 689.8 543.2 689.9 543.5 690.0 543.8 690.1 544.1 690.2 544.4 690.3 544.6 690.4 544.9 690.5 545.2 690.6 545.5 690.7 545.7 690.8 546.0 690.9 546.2 691.0 546.5 691.1 546.7 691.2 547.0 691.3 547.2 691.4 547.5 691.5 547.7 691.6 547.9 691.7 548.2 691.8 548.4 691.9 548.6 692.0 549.0 692.1 549.5 692.2 549.9 692.3 550.4 692.4 550.8 692.5 551.3 692.6 551.7 692.7 552.2 692.8 552.6 692.9 553.1 693.0 553.6 693.1 554.0 693.2 554.5 693.3 555.0 693.4 555.5 693.5 555.9 693.6 556.4 693.7 556.9 693.8 557.4 693.9 557.9 694.0 558.4 694.1 558.9 694.2 559.2 694.3 559.4 694.4 559.6 694.5 559.8 694.6 559.9 694.7 560.1 694.8 560.3 694.9 560.5 695.0 560.6 695.1 560.8 695.2 560.9 695.3 561.1 695.4 561.2 695.5 561.4 695.6 561.5 695.7 561.7 695.8 561.8 695.9 561.9 696.0 562.0 696.1 562.1 696.2 562.2 696.3 562.3 696.4 562.7 696.5 563.2 696.6 563.7 696.7 564.2 696.8 564.7 696.9 565.2 697.0 565.7 697.1 566.3 697.2 566.8 697.3 567.3 697.4 567.8 697.5 568.4 697.6 568.9 697.7 569.4 697.8 570.0 697.9 570.5 698.0 571.1 698.1 571.6 698.2 572.2 698.3 572.8 698.4 573.3 698.5 573.9 698.6 574.2 698.7 574.3 698.8 574.4 698.9 574.4 699.0 574.5 699.1 574.6 699.2 574.6 699.3 574.7 699.4 574.7 699.5 574.7 699.6 574.8 699.7 574.8 699.8 574.8 699.9 574.8 700.0 574.9 700.1 574.9 700.2 574.9 700.3 574.9 700.4 574.9 700.5 574.8 700.6 574.8 700.7 574.8 700.8 575.0 700.9 575.5 701.0 576.1 701.1 576.7 701.2 577.2 701.3 577.8 701.4 578.4 701.5 579.0 701.6 579.6 701.7 580.1 701.8 580.7 701.9 581.3 702.0 581.9 702.1 582.5 702.2 583.1 702.3 583.7 702.4 584.3 702.5 585.0 702.6 585.6 702.7 586.2 702.8 586.8 702.9 587.4 703.0 587.9 703.1 587.9 703.2 587.8 703.3 587.8 703.4 587.7 703.5 587.6 703.6 587.6 703.7 587.5 703.8 587.4 703.9 587.3 704.0 587.2 704.1 587.1 704.2 587.0 704.3 586.9 704.4 586.8 704.5 586.6 704.6 586.5 704.7 586.4 704.8 586.2 704.9 586.1 705.0 586.0 705.1 585.8 705.2 585.7 705.3 586.3 705.4 586.9 705.5 587.5 705.6 588.2 705.7 588.8 705.8 589.4 705.9 590.1 706.0 590.7 706.1 591.3 706.2 592.0 706.3 592.6 706.4 593.3 706.5 593.9 706.6 594.6 706.7 595.2 706.8 595.9 706.9 596.6 707.0 597.2 707.1 597.9 707.2 598.6 707.3 599.3 707.4 599.9 707.5 599.8 707.6 599.7 707.7 599.5 707.8 599.3 707.9 599.1 708.0 598.8 708.1 598.6 708.2 598.4 708.3 598.2 708.4 598.0 708.5 597.7 708.6 597.5 708.7 597.3 708.8 597.0 708.9 596.8 709.0 596.5 709.1 596.2 709.2 596.0 709.3 595.7 709.4 595.4 709.5 595.1 709.6 594.9 709.7 595.3 709.8 595.9 709.9 596.6 710.0 597.3 710.1 598.0 710.2 598.6 710.3 599.3 710.4 600.0 710.5 600.7 710.6 601.4 710.7 602.0 710.8 602.7 710.9 603.4 711.0 604.1 711.1 604.8 711.2 605.5 711.3 606.2 711.4 606.9 711.5 607.6 711.6 608.3 711.7 609.0 711.8 609.8 711.9 609.9 712.0 609.5 712.1 609.2 712.2 608.9 712.3 608.6 712.4 608.2 712.5 607.9 712.6 607.5 712.7 607.2 712.8 606.8 712.9 606.5 713.0 606.1 713.1 605.8 713.2 605.4 713.3 605.0 713.4 604.6 713.5 604.3 713.6 603.9 713.7 603.5 713.8 603.1 713.9 602.7 714.0 602.3 714.1 602.4 714.2 603.1 714.3 603.8 714.4 604.5 714.5 605.2 714.6 605.9 714.7 606.6 714.8 607.3 714.9 608.0 715.0 608.7 715.1 609.4 715.2 610.1 715.3 610.8 715.4 611.5 715.5 612.2 715.6 613.0 715.7 613.7 715.8 614.4 715.9 615.1 716.0 615.8 716.1 616.6 716.2 617.3 716.3 617.7 716.4 617.2 716.5 616.8 716.6 616.4 716.7 615.9 716.8 615.5 716.9 615.0 717.0 614.6 717.1 614.1 717.2 613.6 717.3 613.2 717.4 612.7 717.5 612.2 717.6 611.7 717.7 611.3 717.8 610.8 717.9 610.3 718.0 609.8 718.1 609.3 718.2 608.8 718.3 608.3 718.4 607.8 718.5 607.5 718.6 608.2 718.7 608.9 718.8 609.6 718.9 610.3 719.0 611.0 719.1 611.7 719.2 612.4 719.3 613.1 719.4 613.8 719.5 614.5 719.6 615.2 719.7 616.0 719.8 616.7 719.9 617.4 720.0 618.1 720.1 618.8 720.2 619.5 720.3 620.2 720.4 621.0 720.5 621.7 720.6 622.4 720.7 623.1 720.8 622.6 720.9 622.0 721.0 621.5 721.1 620.9 721.2 620.4 721.3 619.8 721.4 619.3 721.5 618.7 721.6 618.2 721.7 617.6 721.8 617.0 721.9 616.5 722.0 615.9 722.1 615.3 722.2 614.8 722.3 614.2 722.4 613.6 722.5 613.0 722.6 612.4 722.7 611.9 722.8 611.3 722.9 610.7 723.0 611.2 723.1 611.9 723.2 612.6 723.3 613.2 723.4 613.9 723.5 614.6 723.6 615.3 723.7 616.0 723.8 616.7 723.9 617.4 724.0 618.1 724.1 618.8 724.2 619.5 724.3 620.1 724.4 620.8 724.5 621.5 724.6 622.2 724.7 622.9 724.8 623.6 724.9 624.3 725.0 624.9 725.1 625.6 725.2 625.4 725.3 624.8 725.4 624.2 725.5 623.5 725.6 622.9 725.7 622.3 725.8 621.6 725.9 621.0 726.0 620.4 726.1 619.7 726.2 619.1 726.3 618.5 726.4 617.8 726.5 617.2 726.6 616.5 726.7 615.9 726.8 615.2 726.9 614.6 727.0 613.9 727.1 613.3 727.2 612.6 727.3 612.0 727.4 612.1 727.5 612.7 727.6 613.4 727.7 614.0 727.8 614.7 727.9 615.3 728.0 616.0 728.1 616.6 728.2 617.3 728.3 617.9 728.4 618.6 728.5 619.2 728.6 619.8 728.7 620.5 728.8 621.1 728.9 621.7 729.0 622.4 729.1 623.0 729.2 623.6 729.3 624.3 729.4 624.9 729.5 625.5 729.6 625.6 729.7 624.9 729.8 624.3 729.9 623.6 730.0 622.9 730.1 622.2 730.2 621.5 730.3 620.8 730.4 620.2 730.5 619.5 730.6 618.8 730.7 618.1 730.8 617.4 730.9 616.7 731.0 616.0 731.1 615.3 731.2 614.7 731.3 614.0 731.4 613.3 731.5 612.6 731.6 611.9 731.7 611.2 731.8 610.8 731.9 611.4 732.0 612.0 732.1 612.6 732.2 613.2 732.3 613.8 732.4 614.4 732.5 614.9 732.6 615.5 732.7 616.1 732.8 616.7 732.9 617.2 733.0 617.8 733.1 618.4 733.2 618.9 733.3 619.5 733.4 620.1 733.5 620.6 733.6 621.2 733.7 621.7 733.8 622.3 733.9 622.8 734.0 623.2 734.1 622.5 734.2 621.8 734.3 621.1 734.4 620.4 734.5 619.7 734.6 618.9 734.7 618.2 734.8 617.5 734.9 616.8 735.0 616.1 735.1 615.4 735.2 614.7 735.3 613.9 735.4 613.2 735.5 612.5 735.6 611.8 735.7 611.1 735.8 610.4 735.9 609.7 736.0 609.0 736.1 608.3 736.2 607.6 736.3 608.0 736.4 608.6 736.5 609.1 736.6 609.6 736.7 610.1 736.8 610.6 736.9 611.0 737.0 611.5 737.1 612.0 737.2 612.5 737.3 613.0 737.4 613.5 737.5 613.9 737.6 614.4 737.7 614.9 737.8 615.3 737.9 615.8 738.0 616.2 738.1 616.7 738.2 617.1 738.3 617.6 738.4 618.0 738.5 617.5 738.6 616.8 738.7 616.1 738.8 615.4 738.9 614.6 739.0 613.9 739.1 613.2 739.2 612.5 739.3 611.8 739.4 611.0 739.5 610.3 739.6 609.6 739.7 608.9 739.8 608.2 739.9 607.5 740.0 606.8 740.1 606.1 740.2 605.4 740.3 604.7 740.4 604.0 740.5 603.3 740.6 602.6 740.7 602.6 740.8 603.0 740.9 603.4 741.0 603.8 741.1 604.2 741.2 604.6 741.3 605.0 741.4 605.4 741.5 605.8 741.6 606.1 741.7 606.5 741.8 606.9 741.9 607.2 742.0 607.6 742.1 608.0 742.2 608.3 742.3 608.6 742.4 609.0 742.5 609.3 742.6 609.7 742.7 610.0 742.8 610.3 742.9 610.1 743.0 609.4 743.1 608.7 743.2 608.0 743.3 607.3 743.4 606.6 743.5 605.9 743.6 605.2 743.7 604.5 743.8 603.8 743.9 603.1 744.0 602.4 744.1 601.7 744.2 601.0 744.3 600.3 744.4 599.6 744.5 599.0 744.6 598.3 744.7 597.6 744.8 596.9 744.9 596.3 745.0 595.6 745.1 595.3 745.2 595.6 745.3 595.9 745.4 596.1 745.5 596.4 745.6 596.7 745.7 597.0 745.8 597.2 745.9 597.5 746.0 597.7 746.1 598.0 746.2 598.2 746.3 598.5 746.4 598.7 746.5 598.9 746.6 599.1 746.7 599.4 746.8 599.6 746.9 599.8 747.0 600.0 747.1 600.2 747.2 600.4 747.3 600.4 747.4 599.7 747.5 599.0 747.6 598.4 747.7 597.7 747.8 597.0 747.9 596.3 748.0 595.7 748.1 595.0 748.2 594.4 748.3 593.7 748.4 593.1 748.5 592.4 748.6 591.8 748.7 591.1 748.8 590.5 748.9 589.8 749.0 589.2 749.1 588.6 749.2 588.0 749.3 587.3 749.4 586.7 749.5 586.1 749.6 586.3 749.7 586.5 749.8 586.6 749.9 586.8 750.0 586.9 750.1 587.0 750.2 587.2 750.3 587.3 750.4 587.4 750.5 587.5 750.6 587.7 750.7 587.8 750.8 587.9 750.9 588.0 751.0 588.1 751.1 588.1 751.2 588.2 751.3 588.3 751.4 588.4 751.5 588.4 751.6 588.5 751.7 588.6 751.8 588.0 751.9 587.4 752.0 586.7 752.1 586.1 752.2 585.5 752.3 584.9 752.4 584.3 752.5 583.7 752.6 583.0 752.7 582.4 752.8 581.8 752.9 581.3 753.0 580.7 753.1 580.1 753.2 579.5 753.3 578.9 753.4 578.3 753.5 577.7 753.6 577.2 753.7 576.6 753.8 576.0 753.9 575.5 754.0 575.4 754.1 575.4 754.2 575.4 754.3 575.4 754.4 575.5 754.5 575.5 754.6 575.5 754.7 575.5 754.8 575.5 754.9 575.4 755.0 575.4 755.1 575.4 755.2 575.4 755.3 575.3 755.4 575.3 755.5 575.3 755.6 575.2 755.7 575.2 755.8 575.1 755.9 575.0 756.0 575.0 756.1 574.9 756.2 574.5 756.3 574.0 756.4 573.4 756.5 572.8 756.6 572.3 756.7 571.7 756.8 571.1 756.9 570.6 757.0 570.1 757.1 569.5 757.2 569.0 757.3 568.4 757.4 567.9 757.5 567.4 757.6 566.9 757.7 566.3 757.8 565.8 757.9 565.3 758.0 564.8 758.1 564.3 758.2 563.8 758.3 563.3 758.4 563.0 758.5 562.9 758.6 562.8 758.7 562.7 758.8 562.5 758.9 562.4 759.0 562.3 759.1 562.2 759.2 562.0 759.3 561.9 759.4 561.8 759.5 561.6 759.6 561.5 759.7 561.3 759.8 561.2 759.9 561.0 760.0 560.8 760.1 560.6 760.2 560.5 760.3 560.3 760.4 560.1 760.5 559.9 760.6 559.6 760.7 559.1 760.8 558.6 760.9 558.1 761.0 557.6 761.1 557.1 761.2 556.6 761.3 556.1 761.4 555.7 761.5 555.2 761.6 554.7 761.7 554.2 761.8 553.8 761.9 553.3 762.0 552.8" class="w" stroke="#ec1c24" stroke-width="2.8"/>
<text transform="translate(51.70 302.3) scale(0.96 1)" class="tl" text-anchor="middle">0.04</text>
<text transform="translate(140.20 302.3) scale(0.96 1)" class="tl" text-anchor="middle">0.05</text>
<text transform="translate(228.70 302.3) scale(0.96 1)" class="tl" text-anchor="middle">0.06</text>
<text transform="translate(317.20 302.3) scale(0.96 1)" class="tl" text-anchor="middle">0.07</text>
<text transform="translate(405.70 302.3) scale(0.96 1)" class="tl" text-anchor="middle">0.08</text>
<text transform="translate(494.20 302.3) scale(0.96 1)" class="tl" text-anchor="middle">0.09</text>
<text transform="translate(582.70 302.3) scale(0.96 1)" class="tl" text-anchor="middle">0.1</text>
<text transform="translate(671.20 302.3) scale(0.96 1)" class="tl" text-anchor="middle">0.11</text>
<text transform="translate(759.70 302.3) scale(0.96 1)" class="tl" text-anchor="middle">0.12</text>
<text transform="translate(51.70 682.3) scale(0.96 1)" class="tl" text-anchor="middle">0.04</text>
<text transform="translate(140.20 682.3) scale(0.96 1)" class="tl" text-anchor="middle">0.05</text>
<text transform="translate(228.70 682.3) scale(0.96 1)" class="tl" text-anchor="middle">0.06</text>
<text transform="translate(317.20 682.3) scale(0.96 1)" class="tl" text-anchor="middle">0.07</text>
<text transform="translate(405.70 682.3) scale(0.96 1)" class="tl" text-anchor="middle">0.08</text>
<text transform="translate(494.20 682.3) scale(0.96 1)" class="tl" text-anchor="middle">0.09</text>
<text transform="translate(582.70 682.3) scale(0.96 1)" class="tl" text-anchor="middle">0.1</text>
<text transform="translate(671.20 682.3) scale(0.96 1)" class="tl" text-anchor="middle">0.11</text>
<text transform="translate(759.70 682.3) scale(0.96 1)" class="tl" text-anchor="middle">0.12</text>
<line x1="120.0" y1="44.6" x2="103.2" y2="67.0" stroke="#111" stroke-width="1.5"/><path d="M96.9 75.4 L101.4 60.0 L103.2 67.0 L110.4 66.8 Z" fill="#111"/>
<line x1="297.2" y1="76.6" x2="279.2" y2="101.4" stroke="#111" stroke-width="1.5"/><path d="M273.5 109.2 L277.2 94.9 L279.2 101.4 L286.0 101.2 Z" fill="#111"/>
<line x1="124.8" y1="418.3" x2="109.5" y2="426.7" stroke="#111" stroke-width="1.5"/><path d="M101.2 431.2 L110.4 419.8 L109.5 426.7 L115.7 429.6 Z" fill="#111"/>
<line x1="130.3" y1="483.0" x2="114.0" y2="495.0" stroke="#111" stroke-width="1.5"/><path d="M106.8 500.3 L114.0 488.5 L114.0 495.0 L120.2 496.9 Z" fill="#111"/>
<text x="124.6" y="31.3" class="an" textLength="14.0" lengthAdjust="spacingAndGlyphs">V</text>
<text x="137.2" y="31.3" class="an" textLength="14.2" lengthAdjust="spacingAndGlyphs">=</text>
<text x="161.2" y="31.3" class="an" textLength="17.3" lengthAdjust="spacingAndGlyphs">50</text>
<text x="185.7" y="31.3" class="an" textLength="40.7" lengthAdjust="spacingAndGlyphs">V/div</text>
<text x="144.5" y="51.6" class="sub" textLength="14.7" lengthAdjust="spacingAndGlyphs">in</text>
<text x="302.4" y="62.3" class="an" textLength="5.2" lengthAdjust="spacingAndGlyphs">I</text>
<text x="306.6" y="62.3" class="an" textLength="12.6" lengthAdjust="spacingAndGlyphs">=</text>
<text x="319.6" y="62.3" class="an" textLength="7.4" lengthAdjust="spacingAndGlyphs">5</text>
<text x="335.7" y="62.3" class="an" textLength="40.1" lengthAdjust="spacingAndGlyphs">A/div</text>
<text x="311.7" y="81.6" class="sub" textLength="15.1" lengthAdjust="spacingAndGlyphs">in</text>
<text x="130.6" y="402.0" class="an" textLength="12.5" lengthAdjust="spacingAndGlyphs">V</text>
<text x="157.4" y="402.8" class="an" textLength="17.0" lengthAdjust="spacingAndGlyphs">50</text>
<text x="184.0" y="402.6" class="an" textLength="39.2" lengthAdjust="spacingAndGlyphs">V/div</text>
<text x="149.1" y="424.3" class="sub2" textLength="9.2" lengthAdjust="spacingAndGlyphs">o</text>
<text x="137.7" y="465.2" class="an" textLength="5.4" lengthAdjust="spacingAndGlyphs">I</text>
<text x="154.7" y="465.8" class="an" textLength="7.1" lengthAdjust="spacingAndGlyphs">5</text>
<text x="168.0" y="465.8" class="an" textLength="41.0" lengthAdjust="spacingAndGlyphs">A/div</text>
<text x="146.1" y="487.0" class="sub2" textLength="9.1" lengthAdjust="spacingAndGlyphs">o</text>
<text x="394.4" y="347.8" class="pl">(a)</text>
<text x="394.4" y="728.0" class="pl">(b)</text>
<text x="656.7" y="343.6" class="ts" textLength="28.8" lengthAdjust="spacingAndGlyphs">Time</text>
<text x="699.0" y="343.6" class="ts" textLength="31.1" lengthAdjust="spacingAndGlyphs">[Sec]</text>
<text x="656.7" y="724.8" class="ts" textLength="28.8" lengthAdjust="spacingAndGlyphs">Time</text>
<text x="699.0" y="724.8" class="ts" textLength="31.1" lengthAdjust="spacingAndGlyphs">[Sec]</text>
<text transform="translate(22.6 264.0) rotate(-90)" class="yl" textLength="53.4" lengthAdjust="spacing">Input</text>
<text transform="translate(22.6 199.0) rotate(-90)" class="yl" textLength="115.7" lengthAdjust="spacing">waveforms</text>
<text transform="translate(23.5 657.4) rotate(-90)" class="yl" textLength="69.1" lengthAdjust="spacing">Output</text>
<text transform="translate(23.5 576.5) rotate(-90)" class="yl" textLength="128.7" lengthAdjust="spacing">waveforms</text>
<rect x="764.2" y="626.3" width="2.8" height="24.5" fill="#111"/>
</svg></div>
</body></html>
